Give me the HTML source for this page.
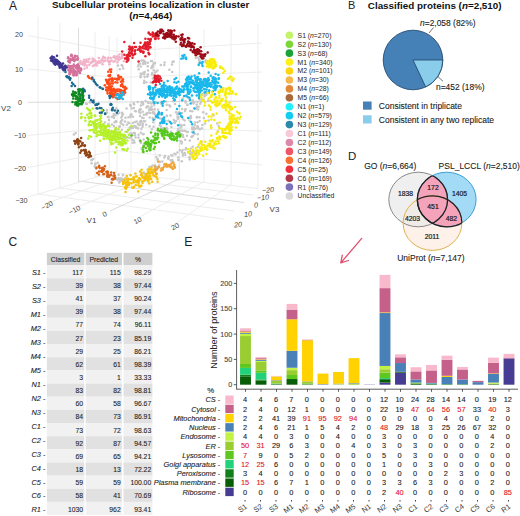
<!DOCTYPE html>
<html><head><meta charset="utf-8"><style>
html,body{margin:0;padding:0;background:#fff;overflow:hidden;}
svg{display:block;font-family:"Liberation Sans", sans-serif;}
</style></head><body>
<svg width="520" height="516" viewBox="0 0 520 516">
<rect width="520" height="516" fill="#fff"/>
<g>
<line x1="38" y1="16.8" x2="38" y2="194.1" stroke="#e8e8e8" stroke-width="0.8"/>
<line x1="59.8" y1="22.7" x2="59.8" y2="187.8" stroke="#e8e8e8" stroke-width="0.8"/>
<line x1="95" y1="32.2" x2="95" y2="177.6" stroke="#e8e8e8" stroke-width="0.8"/>
<line x1="109.2" y1="36.0" x2="109.2" y2="173.5" stroke="#e8e8e8" stroke-width="0.8"/>
<line x1="78.5" y1="27.7" x2="78.5" y2="182.4" stroke="#d4d4d4" stroke-width="0.8"/>
<line x1="117" y1="37.0" x2="117" y2="172.0" stroke="#e8e8e8" stroke-width="0.8"/>
<line x1="131" y1="35.7" x2="131" y2="173.5" stroke="#e8e8e8" stroke-width="0.8"/>
<line x1="155" y1="33.6" x2="155" y2="176.2" stroke="#e8e8e8" stroke-width="0.8"/>
<line x1="204" y1="29.2" x2="204" y2="181.6" stroke="#e8e8e8" stroke-width="0.8"/>
<line x1="231" y1="26.7" x2="231" y2="184.5" stroke="#e8e8e8" stroke-width="0.8"/>
<line x1="258" y1="24.3" x2="258" y2="187.5" stroke="#e8e8e8" stroke-width="0.8"/>
<line x1="179.4" y1="31.4" x2="179.4" y2="178.9" stroke="#dcdcdc" stroke-width="0.8"/>
<line x1="28" y1="35.5" x2="117" y2="51.5" stroke="#e8e8e8" stroke-width="0.8"/>
<line x1="117" y1="51.5" x2="262" y2="43.0" stroke="#e8e8e8" stroke-width="0.8"/>
<line x1="28" y1="69.0" x2="117" y2="77.6" stroke="#e8e8e8" stroke-width="0.8"/>
<line x1="117" y1="77.6" x2="262" y2="72.0" stroke="#e8e8e8" stroke-width="0.8"/>
<line x1="28" y1="135.5" x2="117" y2="127.0" stroke="#e8e8e8" stroke-width="0.8"/>
<line x1="117" y1="127.0" x2="262" y2="131.0" stroke="#e8e8e8" stroke-width="0.8"/>
<line x1="28" y1="167.5" x2="117" y2="150.6" stroke="#e8e8e8" stroke-width="0.8"/>
<line x1="117" y1="150.6" x2="262" y2="165.0" stroke="#e8e8e8" stroke-width="0.8"/>
<line x1="28" y1="102.3" x2="117" y2="102.0" stroke="#d0d0d0" stroke-width="0.8"/>
<line x1="117" y1="102.0" x2="262" y2="101.0" stroke="#d0d0d0" stroke-width="0.8"/>
<line x1="38" y1="194.0" x2="224" y2="219.0" stroke="#e8e8e8" stroke-width="0.8"/>
<line x1="59.8" y1="188.0" x2="234" y2="211.0" stroke="#e8e8e8" stroke-width="0.8"/>
<line x1="78.5" y1="181.0" x2="244" y2="202.5" stroke="#d2d2d2" stroke-width="0.8"/>
<line x1="95" y1="176.0" x2="252.7" y2="195.0" stroke="#e8e8e8" stroke-width="0.8"/>
<line x1="109.2" y1="172.0" x2="258" y2="188.5" stroke="#e8e8e8" stroke-width="0.8"/>
<line x1="47" y1="203.0" x2="131" y2="173.5" stroke="#e8e8e8" stroke-width="0.8"/>
<line x1="74.5" y1="208.0" x2="155" y2="176.2" stroke="#e8e8e8" stroke-width="0.8"/>
<line x1="110" y1="211.0" x2="179.4" y2="178.9" stroke="#d0d0d0" stroke-width="0.8"/>
<line x1="137.5" y1="218.0" x2="204" y2="181.6" stroke="#e8e8e8" stroke-width="0.8"/>
<line x1="175" y1="224.0" x2="231" y2="184.5" stroke="#e8e8e8" stroke-width="0.8"/>
<line x1="28" y1="197.0" x2="117" y2="171.2" stroke="#e8e8e8" stroke-width="0.8"/>
<circle cx="144.1" cy="60.8" r="1.25" fill="#c8c8c8"/>
<circle cx="147.8" cy="66.2" r="1.25" fill="#c8c8c8"/>
<circle cx="148.0" cy="74.5" r="1.25" fill="#c8c8c8"/>
<circle cx="153.8" cy="63.0" r="1.25" fill="#c8c8c8"/>
<circle cx="152.0" cy="60.9" r="1.25" fill="#c8c8c8"/>
<circle cx="153.1" cy="65.8" r="1.25" fill="#c8c8c8"/>
<circle cx="140.6" cy="76.1" r="1.25" fill="#c8c8c8"/>
<circle cx="141.3" cy="60.6" r="1.25" fill="#c8c8c8"/>
<circle cx="147.9" cy="62.8" r="1.25" fill="#c8c8c8"/>
<circle cx="154.3" cy="74.9" r="1.25" fill="#c8c8c8"/>
<circle cx="140.6" cy="77.3" r="1.25" fill="#c8c8c8"/>
<circle cx="154.9" cy="63.3" r="1.25" fill="#c8c8c8"/>
<circle cx="144.2" cy="74.3" r="1.25" fill="#c8c8c8"/>
<circle cx="155.0" cy="81.5" r="1.25" fill="#c8c8c8"/>
<circle cx="144.1" cy="62.8" r="1.25" fill="#c8c8c8"/>
<circle cx="141.5" cy="74.3" r="1.25" fill="#c8c8c8"/>
<circle cx="147.6" cy="74.7" r="1.25" fill="#c8c8c8"/>
<circle cx="145.4" cy="61.9" r="1.25" fill="#c8c8c8"/>
<circle cx="144.7" cy="77.0" r="1.25" fill="#c8c8c8"/>
<circle cx="144.7" cy="72.0" r="1.25" fill="#c8c8c8"/>
<circle cx="152.6" cy="67.5" r="1.25" fill="#c8c8c8"/>
<circle cx="143.1" cy="60.5" r="1.25" fill="#c8c8c8"/>
<circle cx="138.8" cy="64.2" r="1.25" fill="#c8c8c8"/>
<circle cx="152.6" cy="82.9" r="1.25" fill="#c8c8c8"/>
<circle cx="143.5" cy="63.0" r="1.25" fill="#c8c8c8"/>
<circle cx="144.2" cy="80.8" r="1.25" fill="#c8c8c8"/>
<circle cx="151.4" cy="67.9" r="1.25" fill="#c8c8c8"/>
<circle cx="154.8" cy="63.0" r="1.25" fill="#c8c8c8"/>
<circle cx="148.0" cy="70.4" r="1.25" fill="#c8c8c8"/>
<circle cx="152.1" cy="66.2" r="1.25" fill="#c8c8c8"/>
<circle cx="138.7" cy="69.3" r="1.25" fill="#c8c8c8"/>
<circle cx="150.9" cy="61.1" r="1.25" fill="#c8c8c8"/>
<circle cx="151.8" cy="74.4" r="1.25" fill="#c8c8c8"/>
<circle cx="153.0" cy="64.8" r="1.25" fill="#c8c8c8"/>
<circle cx="154.9" cy="72.5" r="1.25" fill="#c8c8c8"/>
<circle cx="143.4" cy="72.8" r="1.25" fill="#c8c8c8"/>
<circle cx="146.4" cy="82.2" r="1.25" fill="#c8c8c8"/>
<circle cx="140.8" cy="66.4" r="1.25" fill="#c8c8c8"/>
<circle cx="150.6" cy="82.6" r="1.25" fill="#c8c8c8"/>
<circle cx="143.2" cy="64.0" r="1.25" fill="#c8c8c8"/>
<circle cx="145.4" cy="63.7" r="1.25" fill="#c8c8c8"/>
<circle cx="153.6" cy="75.1" r="1.25" fill="#c8c8c8"/>
<circle cx="147.3" cy="76.8" r="1.25" fill="#c8c8c8"/>
<circle cx="153.7" cy="70.3" r="1.25" fill="#c8c8c8"/>
<circle cx="138.1" cy="66.2" r="1.25" fill="#c8c8c8"/>
<circle cx="140.7" cy="73.6" r="1.25" fill="#c8c8c8"/>
<circle cx="140.2" cy="63.8" r="1.25" fill="#c8c8c8"/>
<circle cx="152.2" cy="73.1" r="1.25" fill="#c8c8c8"/>
<circle cx="152.7" cy="78.6" r="1.25" fill="#c8c8c8"/>
<circle cx="144.0" cy="83.1" r="1.25" fill="#c8c8c8"/>
<circle cx="146.3" cy="114.4" r="1.25" fill="#c8c8c8"/>
<circle cx="150.4" cy="103.0" r="1.25" fill="#c8c8c8"/>
<circle cx="140.2" cy="109.1" r="1.25" fill="#c8c8c8"/>
<circle cx="148.6" cy="112.5" r="1.25" fill="#c8c8c8"/>
<circle cx="143.0" cy="103.5" r="1.25" fill="#c8c8c8"/>
<circle cx="151.6" cy="106.6" r="1.25" fill="#c8c8c8"/>
<circle cx="143.0" cy="104.5" r="1.25" fill="#c8c8c8"/>
<circle cx="155.7" cy="102.5" r="1.25" fill="#c8c8c8"/>
<circle cx="150.6" cy="109.0" r="1.25" fill="#c8c8c8"/>
<circle cx="148.2" cy="102.9" r="1.25" fill="#c8c8c8"/>
<circle cx="148.3" cy="106.4" r="1.25" fill="#c8c8c8"/>
<circle cx="140.6" cy="109.5" r="1.25" fill="#c8c8c8"/>
<circle cx="147.1" cy="106.6" r="1.25" fill="#c8c8c8"/>
<circle cx="155.1" cy="102.4" r="1.25" fill="#c8c8c8"/>
<circle cx="151.7" cy="103.4" r="1.25" fill="#c8c8c8"/>
<circle cx="155.4" cy="114.7" r="1.25" fill="#c8c8c8"/>
<circle cx="155.9" cy="102.0" r="1.25" fill="#c8c8c8"/>
<circle cx="143.8" cy="114.8" r="1.25" fill="#c8c8c8"/>
<circle cx="149.8" cy="109.9" r="1.25" fill="#c8c8c8"/>
<circle cx="153.4" cy="111.8" r="1.25" fill="#c8c8c8"/>
<circle cx="146.4" cy="107.6" r="1.25" fill="#c8c8c8"/>
<circle cx="141.7" cy="102.1" r="1.25" fill="#c8c8c8"/>
<circle cx="142.7" cy="102.0" r="1.25" fill="#c8c8c8"/>
<circle cx="149.1" cy="109.5" r="1.25" fill="#c8c8c8"/>
<circle cx="150.2" cy="113.1" r="1.25" fill="#c8c8c8"/>
<circle cx="122.5" cy="113.8" r="1.25" fill="#c8c8c8"/>
<circle cx="125.4" cy="135.7" r="1.25" fill="#c8c8c8"/>
<circle cx="134.8" cy="133.0" r="1.25" fill="#c8c8c8"/>
<circle cx="130.7" cy="133.2" r="1.25" fill="#c8c8c8"/>
<circle cx="129.8" cy="127.4" r="1.25" fill="#c8c8c8"/>
<circle cx="117.8" cy="114.0" r="1.25" fill="#c8c8c8"/>
<circle cx="113.9" cy="114.0" r="1.25" fill="#c8c8c8"/>
<circle cx="119.8" cy="126.0" r="1.25" fill="#c8c8c8"/>
<circle cx="109.4" cy="136.7" r="1.25" fill="#c8c8c8"/>
<circle cx="121.3" cy="117.5" r="1.25" fill="#c8c8c8"/>
<circle cx="111.7" cy="132.8" r="1.25" fill="#c8c8c8"/>
<circle cx="126.5" cy="131.9" r="1.25" fill="#c8c8c8"/>
<circle cx="115.8" cy="121.3" r="1.25" fill="#c8c8c8"/>
<circle cx="113.2" cy="116.0" r="1.25" fill="#c8c8c8"/>
<circle cx="130.5" cy="115.5" r="1.25" fill="#c8c8c8"/>
<circle cx="116.7" cy="133.5" r="1.25" fill="#c8c8c8"/>
<circle cx="114.0" cy="126.0" r="1.25" fill="#c8c8c8"/>
<circle cx="131.7" cy="108.5" r="1.25" fill="#c8c8c8"/>
<circle cx="128.2" cy="122.6" r="1.25" fill="#c8c8c8"/>
<circle cx="123.3" cy="124.9" r="1.25" fill="#c8c8c8"/>
<circle cx="133.8" cy="108.0" r="1.25" fill="#c8c8c8"/>
<circle cx="114.6" cy="122.2" r="1.25" fill="#c8c8c8"/>
<circle cx="122.2" cy="120.1" r="1.25" fill="#c8c8c8"/>
<circle cx="114.0" cy="132.4" r="1.25" fill="#c8c8c8"/>
<circle cx="126.9" cy="124.8" r="1.25" fill="#c8c8c8"/>
<circle cx="126.6" cy="108.4" r="1.25" fill="#c8c8c8"/>
<circle cx="119.3" cy="112.7" r="1.25" fill="#c8c8c8"/>
<circle cx="122.9" cy="114.2" r="1.25" fill="#c8c8c8"/>
<circle cx="106.9" cy="110.0" r="1.25" fill="#c8c8c8"/>
<circle cx="128.5" cy="117.2" r="1.25" fill="#c8c8c8"/>
<circle cx="111.8" cy="117.1" r="1.25" fill="#c8c8c8"/>
<circle cx="122.0" cy="112.7" r="1.25" fill="#c8c8c8"/>
<circle cx="107.7" cy="130.2" r="1.25" fill="#c8c8c8"/>
<circle cx="133.1" cy="127.7" r="1.25" fill="#c8c8c8"/>
<circle cx="121.0" cy="121.3" r="1.25" fill="#c8c8c8"/>
<circle cx="115.1" cy="132.5" r="1.25" fill="#c8c8c8"/>
<circle cx="116.3" cy="108.3" r="1.25" fill="#c8c8c8"/>
<circle cx="104.9" cy="122.6" r="1.25" fill="#c8c8c8"/>
<circle cx="107.8" cy="117.0" r="1.25" fill="#c8c8c8"/>
<circle cx="116.0" cy="121.5" r="1.25" fill="#c8c8c8"/>
<circle cx="121.9" cy="129.7" r="1.25" fill="#c8c8c8"/>
<circle cx="107.0" cy="112.5" r="1.25" fill="#c8c8c8"/>
<circle cx="109.3" cy="131.8" r="1.25" fill="#c8c8c8"/>
<circle cx="133.4" cy="133.0" r="1.25" fill="#c8c8c8"/>
<circle cx="132.3" cy="135.2" r="1.25" fill="#c8c8c8"/>
<circle cx="136.2" cy="127.3" r="1.25" fill="#c8c8c8"/>
<circle cx="111.9" cy="136.6" r="1.25" fill="#c8c8c8"/>
<circle cx="116.1" cy="135.4" r="1.25" fill="#c8c8c8"/>
<circle cx="116.1" cy="121.8" r="1.25" fill="#c8c8c8"/>
<circle cx="140.0" cy="124.8" r="1.25" fill="#c8c8c8"/>
<circle cx="142.9" cy="134.2" r="1.25" fill="#c8c8c8"/>
<circle cx="121.6" cy="123.8" r="1.25" fill="#c8c8c8"/>
<circle cx="109.0" cy="120.1" r="1.25" fill="#c8c8c8"/>
<circle cx="125.9" cy="137.9" r="1.25" fill="#c8c8c8"/>
<circle cx="142.5" cy="126.7" r="1.25" fill="#c8c8c8"/>
<circle cx="136.7" cy="121.6" r="1.25" fill="#c8c8c8"/>
<circle cx="109.0" cy="126.3" r="1.25" fill="#c8c8c8"/>
<circle cx="119.3" cy="126.9" r="1.25" fill="#c8c8c8"/>
<circle cx="114.0" cy="118.0" r="1.25" fill="#c8c8c8"/>
<circle cx="138.5" cy="137.6" r="1.25" fill="#c8c8c8"/>
<circle cx="111.7" cy="132.0" r="1.25" fill="#c8c8c8"/>
<circle cx="123.9" cy="135.0" r="1.25" fill="#c8c8c8"/>
<circle cx="129.2" cy="137.7" r="1.25" fill="#c8c8c8"/>
<circle cx="112.0" cy="124.4" r="1.25" fill="#c8c8c8"/>
<circle cx="131.1" cy="137.6" r="1.25" fill="#c8c8c8"/>
<circle cx="123.8" cy="137.5" r="1.25" fill="#c8c8c8"/>
<circle cx="132.9" cy="123.0" r="1.25" fill="#c8c8c8"/>
<circle cx="119.0" cy="134.3" r="1.25" fill="#c8c8c8"/>
<circle cx="120.6" cy="122.8" r="1.25" fill="#c8c8c8"/>
<circle cx="108.5" cy="117.0" r="1.25" fill="#c8c8c8"/>
<circle cx="115.2" cy="115.2" r="1.25" fill="#c8c8c8"/>
<circle cx="129.4" cy="129.6" r="1.25" fill="#c8c8c8"/>
<circle cx="122.2" cy="116.1" r="1.25" fill="#c8c8c8"/>
<circle cx="136.3" cy="127.7" r="1.25" fill="#c8c8c8"/>
<circle cx="142.7" cy="124.9" r="1.25" fill="#c8c8c8"/>
<circle cx="125.0" cy="121.4" r="1.25" fill="#c8c8c8"/>
<circle cx="140.5" cy="120.9" r="1.25" fill="#c8c8c8"/>
<circle cx="116.1" cy="129.6" r="1.25" fill="#c8c8c8"/>
<circle cx="108.3" cy="124.1" r="1.25" fill="#c8c8c8"/>
<circle cx="134.8" cy="121.9" r="1.25" fill="#c8c8c8"/>
<circle cx="137.9" cy="123.8" r="1.25" fill="#c8c8c8"/>
<circle cx="127.4" cy="131.8" r="1.25" fill="#c8c8c8"/>
<circle cx="130.5" cy="117.1" r="1.25" fill="#c8c8c8"/>
<circle cx="129.3" cy="123.2" r="1.25" fill="#c8c8c8"/>
<circle cx="125.5" cy="117.8" r="1.25" fill="#c8c8c8"/>
<circle cx="134.3" cy="125.9" r="1.25" fill="#c8c8c8"/>
<circle cx="152.6" cy="118.0" r="1.25" fill="#c8c8c8"/>
<circle cx="140.4" cy="112.9" r="1.25" fill="#c8c8c8"/>
<circle cx="151.9" cy="109.3" r="1.25" fill="#c8c8c8"/>
<circle cx="153.9" cy="112.8" r="1.25" fill="#c8c8c8"/>
<circle cx="141.3" cy="122.3" r="1.25" fill="#c8c8c8"/>
<circle cx="135.6" cy="126.3" r="1.25" fill="#c8c8c8"/>
<circle cx="146.2" cy="124.7" r="1.25" fill="#c8c8c8"/>
<circle cx="135.9" cy="111.2" r="1.25" fill="#c8c8c8"/>
<circle cx="145.6" cy="101.1" r="1.25" fill="#c8c8c8"/>
<circle cx="133.0" cy="116.7" r="1.25" fill="#c8c8c8"/>
<circle cx="163.0" cy="128.6" r="1.25" fill="#c8c8c8"/>
<circle cx="150.4" cy="108.3" r="1.25" fill="#c8c8c8"/>
<circle cx="154.8" cy="118.9" r="1.25" fill="#c8c8c8"/>
<circle cx="151.8" cy="129.3" r="1.25" fill="#c8c8c8"/>
<circle cx="146.5" cy="114.3" r="1.25" fill="#c8c8c8"/>
<circle cx="154.3" cy="113.7" r="1.25" fill="#c8c8c8"/>
<circle cx="142.1" cy="117.7" r="1.25" fill="#c8c8c8"/>
<circle cx="149.7" cy="117.6" r="1.25" fill="#c8c8c8"/>
<circle cx="130.8" cy="105.9" r="1.25" fill="#c8c8c8"/>
<circle cx="141.4" cy="129.1" r="1.25" fill="#c8c8c8"/>
<circle cx="167.0" cy="115.7" r="1.25" fill="#c8c8c8"/>
<circle cx="159.5" cy="114.5" r="1.25" fill="#c8c8c8"/>
<circle cx="131.3" cy="114.2" r="1.25" fill="#c8c8c8"/>
<circle cx="145.0" cy="121.2" r="1.25" fill="#c8c8c8"/>
<circle cx="148.0" cy="102.2" r="1.25" fill="#c8c8c8"/>
<circle cx="151.6" cy="110.1" r="1.25" fill="#c8c8c8"/>
<circle cx="154.2" cy="105.0" r="1.25" fill="#c8c8c8"/>
<circle cx="131.4" cy="127.9" r="1.25" fill="#c8c8c8"/>
<circle cx="132.4" cy="126.6" r="1.25" fill="#c8c8c8"/>
<circle cx="139.2" cy="112.0" r="1.25" fill="#c8c8c8"/>
<circle cx="166.6" cy="110.0" r="1.25" fill="#c8c8c8"/>
<circle cx="141.4" cy="102.4" r="1.25" fill="#c8c8c8"/>
<circle cx="158.9" cy="112.4" r="1.25" fill="#c8c8c8"/>
<circle cx="161.5" cy="103.7" r="1.25" fill="#c8c8c8"/>
<circle cx="149.7" cy="126.2" r="1.25" fill="#c8c8c8"/>
<circle cx="160.2" cy="118.5" r="1.25" fill="#c8c8c8"/>
<circle cx="132.6" cy="128.0" r="1.25" fill="#c8c8c8"/>
<circle cx="143.9" cy="121.3" r="1.25" fill="#c8c8c8"/>
<circle cx="143.5" cy="118.1" r="1.25" fill="#c8c8c8"/>
<circle cx="137.7" cy="102.1" r="1.25" fill="#c8c8c8"/>
<circle cx="161.2" cy="129.0" r="1.25" fill="#c8c8c8"/>
<circle cx="140.0" cy="116.0" r="1.25" fill="#c8c8c8"/>
<circle cx="141.4" cy="121.0" r="1.25" fill="#c8c8c8"/>
<circle cx="159.7" cy="125.2" r="1.25" fill="#c8c8c8"/>
<circle cx="152.7" cy="113.1" r="1.25" fill="#c8c8c8"/>
<circle cx="138.8" cy="125.1" r="1.25" fill="#c8c8c8"/>
<circle cx="138.1" cy="128.6" r="1.25" fill="#c8c8c8"/>
<circle cx="140.3" cy="122.2" r="1.25" fill="#c8c8c8"/>
<circle cx="158.1" cy="109.8" r="1.25" fill="#c8c8c8"/>
<circle cx="142.7" cy="111.7" r="1.25" fill="#c8c8c8"/>
<circle cx="146.7" cy="113.3" r="1.25" fill="#c8c8c8"/>
<circle cx="131.0" cy="114.7" r="1.25" fill="#c8c8c8"/>
<circle cx="166.7" cy="104.8" r="1.25" fill="#c8c8c8"/>
<circle cx="133.7" cy="102.9" r="1.25" fill="#c8c8c8"/>
<circle cx="140.9" cy="105.4" r="1.25" fill="#c8c8c8"/>
<circle cx="153.3" cy="122.3" r="1.25" fill="#c8c8c8"/>
<circle cx="154.6" cy="109.2" r="1.25" fill="#c8c8c8"/>
<circle cx="166.6" cy="127.8" r="1.25" fill="#c8c8c8"/>
<circle cx="160.8" cy="102.9" r="1.25" fill="#c8c8c8"/>
<circle cx="134.9" cy="110.9" r="1.25" fill="#c8c8c8"/>
<circle cx="166.1" cy="101.4" r="1.25" fill="#c8c8c8"/>
<circle cx="139.6" cy="110.6" r="1.25" fill="#c8c8c8"/>
<circle cx="165.5" cy="120.8" r="1.25" fill="#c8c8c8"/>
<circle cx="139.3" cy="110.2" r="1.25" fill="#c8c8c8"/>
<circle cx="153.5" cy="126.7" r="1.25" fill="#c8c8c8"/>
<circle cx="134.0" cy="104.2" r="1.25" fill="#c8c8c8"/>
<circle cx="142.8" cy="124.1" r="1.25" fill="#c8c8c8"/>
<circle cx="130.2" cy="104.7" r="1.25" fill="#c8c8c8"/>
<circle cx="162.1" cy="102.0" r="1.25" fill="#c8c8c8"/>
<circle cx="185.5" cy="101.0" r="1.25" fill="#c8c8c8"/>
<circle cx="163.0" cy="102.3" r="1.25" fill="#c8c8c8"/>
<circle cx="160.9" cy="123.6" r="1.25" fill="#c8c8c8"/>
<circle cx="181.9" cy="125.6" r="1.25" fill="#c8c8c8"/>
<circle cx="178.3" cy="114.1" r="1.25" fill="#c8c8c8"/>
<circle cx="194.3" cy="108.3" r="1.25" fill="#c8c8c8"/>
<circle cx="171.4" cy="127.0" r="1.25" fill="#c8c8c8"/>
<circle cx="193.9" cy="129.3" r="1.25" fill="#c8c8c8"/>
<circle cx="197.6" cy="122.2" r="1.25" fill="#c8c8c8"/>
<circle cx="170.2" cy="106.6" r="1.25" fill="#c8c8c8"/>
<circle cx="185.6" cy="109.3" r="1.25" fill="#c8c8c8"/>
<circle cx="183.0" cy="119.3" r="1.25" fill="#c8c8c8"/>
<circle cx="194.1" cy="127.6" r="1.25" fill="#c8c8c8"/>
<circle cx="179.7" cy="112.7" r="1.25" fill="#c8c8c8"/>
<circle cx="166.2" cy="128.9" r="1.25" fill="#c8c8c8"/>
<circle cx="195.1" cy="122.4" r="1.25" fill="#c8c8c8"/>
<circle cx="178.3" cy="128.8" r="1.25" fill="#c8c8c8"/>
<circle cx="195.0" cy="128.7" r="1.25" fill="#c8c8c8"/>
<circle cx="169.4" cy="105.2" r="1.25" fill="#c8c8c8"/>
<circle cx="173.2" cy="101.2" r="1.25" fill="#c8c8c8"/>
<circle cx="160.7" cy="129.1" r="1.25" fill="#c8c8c8"/>
<circle cx="193.5" cy="103.5" r="1.25" fill="#c8c8c8"/>
<circle cx="181.7" cy="117.0" r="1.25" fill="#c8c8c8"/>
<circle cx="181.0" cy="127.4" r="1.25" fill="#c8c8c8"/>
<circle cx="178.4" cy="112.4" r="1.25" fill="#c8c8c8"/>
<circle cx="177.3" cy="114.2" r="1.25" fill="#c8c8c8"/>
<circle cx="161.3" cy="103.6" r="1.25" fill="#c8c8c8"/>
<circle cx="197.5" cy="101.8" r="1.25" fill="#c8c8c8"/>
<circle cx="162.6" cy="119.1" r="1.25" fill="#c8c8c8"/>
<circle cx="163.7" cy="128.3" r="1.25" fill="#c8c8c8"/>
<circle cx="184.3" cy="125.1" r="1.25" fill="#c8c8c8"/>
<circle cx="184.6" cy="130.8" r="1.25" fill="#c8c8c8"/>
<circle cx="189.5" cy="117.5" r="1.25" fill="#c8c8c8"/>
<circle cx="192.7" cy="102.3" r="1.25" fill="#c8c8c8"/>
<circle cx="160.9" cy="126.4" r="1.25" fill="#c8c8c8"/>
<circle cx="176.0" cy="112.2" r="1.25" fill="#c8c8c8"/>
<circle cx="191.0" cy="117.4" r="1.25" fill="#c8c8c8"/>
<circle cx="182.1" cy="113.0" r="1.25" fill="#c8c8c8"/>
<circle cx="187.8" cy="132.0" r="1.25" fill="#c8c8c8"/>
<circle cx="162.6" cy="118.2" r="1.25" fill="#c8c8c8"/>
<circle cx="185.0" cy="111.0" r="1.25" fill="#c8c8c8"/>
<circle cx="179.4" cy="131.3" r="1.25" fill="#c8c8c8"/>
<circle cx="187.7" cy="104.7" r="1.25" fill="#c8c8c8"/>
<circle cx="190.2" cy="110.9" r="1.25" fill="#c8c8c8"/>
<circle cx="196.8" cy="117.1" r="1.25" fill="#c8c8c8"/>
<circle cx="133.8" cy="140.6" r="1.25" fill="#c8c8c8"/>
<circle cx="135.0" cy="135.3" r="1.25" fill="#c8c8c8"/>
<circle cx="135.6" cy="137.6" r="1.25" fill="#c8c8c8"/>
<circle cx="132.1" cy="139.8" r="1.25" fill="#c8c8c8"/>
<circle cx="134.5" cy="142.5" r="1.25" fill="#c8c8c8"/>
<circle cx="143.7" cy="139.5" r="1.25" fill="#c8c8c8"/>
<circle cx="140.8" cy="132.7" r="1.25" fill="#c8c8c8"/>
<circle cx="139.8" cy="139.9" r="1.25" fill="#c8c8c8"/>
<circle cx="132.6" cy="142.7" r="1.25" fill="#c8c8c8"/>
<circle cx="138.6" cy="134.7" r="1.25" fill="#c8c8c8"/>
<circle cx="143.6" cy="134.0" r="1.25" fill="#c8c8c8"/>
<circle cx="140.1" cy="141.4" r="1.25" fill="#c8c8c8"/>
<circle cx="148.3" cy="145.1" r="1.25" fill="#c8c8c8"/>
<circle cx="143.4" cy="145.5" r="1.25" fill="#c8c8c8"/>
<circle cx="149.4" cy="144.6" r="1.25" fill="#c8c8c8"/>
<circle cx="141.9" cy="148.6" r="1.25" fill="#c8c8c8"/>
<circle cx="141.0" cy="143.0" r="1.25" fill="#c8c8c8"/>
<circle cx="147.7" cy="140.9" r="1.25" fill="#c8c8c8"/>
<circle cx="149.0" cy="148.5" r="1.25" fill="#c8c8c8"/>
<circle cx="150.5" cy="149.5" r="1.25" fill="#c8c8c8"/>
<circle cx="142.7" cy="150.6" r="1.25" fill="#c8c8c8"/>
<circle cx="141.9" cy="148.7" r="1.25" fill="#c8c8c8"/>
<circle cx="190.7" cy="116.0" r="1.25" fill="#c8c8c8"/>
<circle cx="174.7" cy="122.9" r="1.25" fill="#c8c8c8"/>
<circle cx="168.6" cy="120.9" r="1.25" fill="#c8c8c8"/>
<circle cx="179.7" cy="133.3" r="1.25" fill="#c8c8c8"/>
<circle cx="199.6" cy="121.0" r="1.25" fill="#c8c8c8"/>
<circle cx="186.9" cy="135.8" r="1.25" fill="#c8c8c8"/>
<circle cx="170.5" cy="115.4" r="1.25" fill="#c8c8c8"/>
<circle cx="198.6" cy="106.7" r="1.25" fill="#c8c8c8"/>
<circle cx="173.9" cy="120.1" r="1.25" fill="#c8c8c8"/>
<circle cx="198.0" cy="139.0" r="1.25" fill="#c8c8c8"/>
<circle cx="166.7" cy="116.0" r="1.25" fill="#c8c8c8"/>
<circle cx="178.1" cy="117.1" r="1.25" fill="#c8c8c8"/>
<circle cx="177.7" cy="130.5" r="1.25" fill="#c8c8c8"/>
<circle cx="192.1" cy="132.1" r="1.25" fill="#c8c8c8"/>
<circle cx="174.8" cy="138.9" r="1.25" fill="#c8c8c8"/>
<circle cx="171.1" cy="123.2" r="1.25" fill="#c8c8c8"/>
<circle cx="176.2" cy="121.1" r="1.25" fill="#c8c8c8"/>
<circle cx="190.5" cy="118.2" r="1.25" fill="#c8c8c8"/>
<circle cx="197.8" cy="134.2" r="1.25" fill="#c8c8c8"/>
<circle cx="177.8" cy="118.8" r="1.25" fill="#c8c8c8"/>
<circle cx="174.5" cy="122.3" r="1.25" fill="#c8c8c8"/>
<circle cx="192.2" cy="111.3" r="1.25" fill="#c8c8c8"/>
<circle cx="167.1" cy="129.2" r="1.25" fill="#c8c8c8"/>
<circle cx="199.4" cy="117.3" r="1.25" fill="#c8c8c8"/>
<circle cx="185.3" cy="109.5" r="1.25" fill="#c8c8c8"/>
<circle cx="198.2" cy="109.5" r="1.25" fill="#c8c8c8"/>
<circle cx="168.5" cy="120.7" r="1.25" fill="#c8c8c8"/>
<circle cx="175.0" cy="104.0" r="1.25" fill="#c8c8c8"/>
<circle cx="186.2" cy="131.6" r="1.25" fill="#c8c8c8"/>
<circle cx="177.5" cy="116.8" r="1.25" fill="#c8c8c8"/>
<circle cx="185.6" cy="102.5" r="1.25" fill="#c8c8c8"/>
<circle cx="170.9" cy="131.8" r="1.25" fill="#c8c8c8"/>
<circle cx="196.7" cy="104.4" r="1.25" fill="#c8c8c8"/>
<circle cx="197.5" cy="128.2" r="1.25" fill="#c8c8c8"/>
<circle cx="183.1" cy="137.1" r="1.25" fill="#c8c8c8"/>
<circle cx="199.3" cy="60.3" r="1.25" fill="#c8c8c8"/>
<circle cx="199.1" cy="59.2" r="1.25" fill="#c8c8c8"/>
<circle cx="195.7" cy="58.0" r="1.25" fill="#c8c8c8"/>
<circle cx="205.6" cy="60.4" r="1.25" fill="#c8c8c8"/>
<circle cx="205.6" cy="62.1" r="1.25" fill="#c8c8c8"/>
<circle cx="206.4" cy="61.6" r="1.25" fill="#c8c8c8"/>
<circle cx="199.6" cy="62.4" r="1.25" fill="#c8c8c8"/>
<circle cx="198.8" cy="63.8" r="1.25" fill="#c8c8c8"/>
<circle cx="197.8" cy="57.6" r="1.25" fill="#c8c8c8"/>
<circle cx="201.6" cy="62.4" r="1.25" fill="#c8c8c8"/>
<circle cx="201.8" cy="59.0" r="1.25" fill="#c8c8c8"/>
<circle cx="200.9" cy="56.5" r="1.25" fill="#c8c8c8"/>
<circle cx="204.7" cy="94.9" r="1.25" fill="#c8c8c8"/>
<circle cx="200.2" cy="103.7" r="1.25" fill="#c8c8c8"/>
<circle cx="206.3" cy="94.8" r="1.25" fill="#c8c8c8"/>
<circle cx="201.7" cy="99.5" r="1.25" fill="#c8c8c8"/>
<circle cx="199.4" cy="94.1" r="1.25" fill="#c8c8c8"/>
<circle cx="201.8" cy="95.1" r="1.25" fill="#c8c8c8"/>
<circle cx="203.4" cy="99.4" r="1.25" fill="#c8c8c8"/>
<circle cx="199.5" cy="99.4" r="1.25" fill="#c8c8c8"/>
<circle cx="206.2" cy="93.9" r="1.25" fill="#c8c8c8"/>
<circle cx="202.3" cy="93.9" r="1.25" fill="#c8c8c8"/>
<circle cx="204.6" cy="96.3" r="1.25" fill="#c8c8c8"/>
<circle cx="208.2" cy="100.8" r="1.25" fill="#c8c8c8"/>
<circle cx="184.7" cy="120.5" r="1.25" fill="#c8c8c8"/>
<circle cx="185.1" cy="139.7" r="1.25" fill="#c8c8c8"/>
<circle cx="194.8" cy="124.9" r="1.25" fill="#c8c8c8"/>
<circle cx="186.0" cy="148.1" r="1.25" fill="#c8c8c8"/>
<circle cx="180.8" cy="130.6" r="1.25" fill="#c8c8c8"/>
<circle cx="197.9" cy="126.6" r="1.25" fill="#c8c8c8"/>
<circle cx="197.0" cy="117.5" r="1.25" fill="#c8c8c8"/>
<circle cx="189.8" cy="140.4" r="1.25" fill="#c8c8c8"/>
<circle cx="181.5" cy="143.5" r="1.25" fill="#c8c8c8"/>
<circle cx="181.3" cy="134.1" r="1.25" fill="#c8c8c8"/>
<circle cx="182.9" cy="134.9" r="1.25" fill="#c8c8c8"/>
<circle cx="192.7" cy="146.8" r="1.25" fill="#c8c8c8"/>
<circle cx="194.6" cy="102.1" r="1.25" fill="#c8c8c8"/>
<circle cx="189.5" cy="120.6" r="1.25" fill="#c8c8c8"/>
<circle cx="185.8" cy="96.5" r="1.25" fill="#c8c8c8"/>
<circle cx="185.5" cy="149.5" r="1.25" fill="#c8c8c8"/>
<circle cx="180.7" cy="141.1" r="1.25" fill="#c8c8c8"/>
<circle cx="192.7" cy="100.3" r="1.25" fill="#c8c8c8"/>
<circle cx="201.0" cy="102.1" r="1.25" fill="#c8c8c8"/>
<circle cx="182.2" cy="109.0" r="1.25" fill="#c8c8c8"/>
<circle cx="196.8" cy="106.7" r="1.25" fill="#c8c8c8"/>
<circle cx="181.8" cy="142.1" r="1.25" fill="#c8c8c8"/>
<circle cx="180.5" cy="125.1" r="1.25" fill="#c8c8c8"/>
<circle cx="196.5" cy="108.8" r="1.25" fill="#c8c8c8"/>
<circle cx="198.1" cy="146.7" r="1.25" fill="#c8c8c8"/>
<circle cx="191.5" cy="137.1" r="1.25" fill="#c8c8c8"/>
<circle cx="189.1" cy="98.5" r="1.25" fill="#c8c8c8"/>
<circle cx="182.8" cy="98.6" r="1.25" fill="#c8c8c8"/>
<circle cx="191.9" cy="136.4" r="1.25" fill="#c8c8c8"/>
<circle cx="192.8" cy="136.1" r="1.25" fill="#c8c8c8"/>
<circle cx="201.9" cy="141.8" r="1.25" fill="#c8c8c8"/>
<circle cx="200.3" cy="148.0" r="1.25" fill="#c8c8c8"/>
<circle cx="187.2" cy="104.7" r="1.25" fill="#c8c8c8"/>
<circle cx="182.7" cy="130.7" r="1.25" fill="#c8c8c8"/>
<circle cx="194.7" cy="133.9" r="1.25" fill="#c8c8c8"/>
<circle cx="201.8" cy="128.3" r="1.25" fill="#c8c8c8"/>
<circle cx="197.1" cy="126.6" r="1.25" fill="#c8c8c8"/>
<circle cx="193.3" cy="131.8" r="1.25" fill="#c8c8c8"/>
<circle cx="193.1" cy="127.8" r="1.25" fill="#c8c8c8"/>
<circle cx="199.8" cy="129.2" r="1.25" fill="#c8c8c8"/>
<circle cx="192.3" cy="129.0" r="1.25" fill="#c8c8c8"/>
<circle cx="192.1" cy="127.4" r="1.25" fill="#c8c8c8"/>
<circle cx="198.3" cy="127.9" r="1.25" fill="#c8c8c8"/>
<circle cx="202.4" cy="125.0" r="1.25" fill="#c8c8c8"/>
<circle cx="193.7" cy="129.5" r="1.25" fill="#c8c8c8"/>
<circle cx="211.1" cy="127.2" r="1.25" fill="#c8c8c8"/>
<circle cx="203.2" cy="112.3" r="1.25" fill="#c8c8c8"/>
<circle cx="213.7" cy="115.2" r="1.25" fill="#c8c8c8"/>
<circle cx="206.4" cy="113.8" r="1.25" fill="#c8c8c8"/>
<circle cx="203.9" cy="117.9" r="1.25" fill="#c8c8c8"/>
<circle cx="208.6" cy="120.6" r="1.25" fill="#c8c8c8"/>
<circle cx="205.0" cy="123.5" r="1.25" fill="#c8c8c8"/>
<circle cx="217.8" cy="131.2" r="1.25" fill="#c8c8c8"/>
<circle cx="217.2" cy="123.5" r="1.25" fill="#c8c8c8"/>
<circle cx="218.7" cy="126.1" r="1.25" fill="#c8c8c8"/>
<circle cx="93.2" cy="158.9" r="1.25" fill="#c8c8c8"/>
<circle cx="96.4" cy="168.6" r="1.25" fill="#c8c8c8"/>
<circle cx="91.6" cy="163.2" r="1.25" fill="#c8c8c8"/>
<circle cx="94.6" cy="166.4" r="1.25" fill="#c8c8c8"/>
<circle cx="95.5" cy="163.4" r="1.25" fill="#c8c8c8"/>
<circle cx="95.2" cy="164.4" r="1.25" fill="#c8c8c8"/>
<circle cx="91.6" cy="159.8" r="1.25" fill="#c8c8c8"/>
<circle cx="97.8" cy="162.7" r="1.25" fill="#c8c8c8"/>
<circle cx="97.0" cy="167.0" r="1.25" fill="#c8c8c8"/>
<circle cx="91.7" cy="160.2" r="1.25" fill="#c8c8c8"/>
<circle cx="115.2" cy="176.2" r="1.25" fill="#c8c8c8"/>
<circle cx="117.6" cy="179.9" r="1.25" fill="#c8c8c8"/>
<circle cx="121.2" cy="180.5" r="1.25" fill="#c8c8c8"/>
<circle cx="124.9" cy="181.1" r="1.25" fill="#c8c8c8"/>
<circle cx="121.9" cy="179.0" r="1.25" fill="#c8c8c8"/>
<circle cx="123.3" cy="182.4" r="1.25" fill="#c8c8c8"/>
<circle cx="119.1" cy="182.6" r="1.25" fill="#c8c8c8"/>
<circle cx="118.6" cy="174.8" r="1.25" fill="#c8c8c8"/>
<circle cx="120.0" cy="181.5" r="1.25" fill="#c8c8c8"/>
<circle cx="119.7" cy="179.1" r="1.25" fill="#c8c8c8"/>
<circle cx="122.9" cy="175.0" r="1.25" fill="#c8c8c8"/>
<circle cx="121.3" cy="178.3" r="1.25" fill="#c8c8c8"/>
<circle cx="125.3" cy="178.1" r="1.25" fill="#c8c8c8"/>
<circle cx="122.5" cy="179.7" r="1.25" fill="#c8c8c8"/>
<circle cx="126.6" cy="179.2" r="1.25" fill="#c8c8c8"/>
<circle cx="119.9" cy="180.9" r="1.25" fill="#c8c8c8"/>
<circle cx="118.6" cy="178.0" r="1.25" fill="#c8c8c8"/>
<circle cx="117.0" cy="179.1" r="1.25" fill="#c8c8c8"/>
<circle cx="143.2" cy="173.6" r="1.25" fill="#c8c8c8"/>
<circle cx="155.8" cy="168.8" r="1.25" fill="#c8c8c8"/>
<circle cx="153.2" cy="171.6" r="1.25" fill="#c8c8c8"/>
<circle cx="146.3" cy="176.2" r="1.25" fill="#c8c8c8"/>
<circle cx="145.3" cy="174.8" r="1.25" fill="#c8c8c8"/>
<circle cx="149.2" cy="173.6" r="1.25" fill="#c8c8c8"/>
<circle cx="151.3" cy="166.7" r="1.25" fill="#c8c8c8"/>
<circle cx="147.6" cy="169.4" r="1.25" fill="#c8c8c8"/>
<circle cx="155.8" cy="167.5" r="1.25" fill="#c8c8c8"/>
<circle cx="149.4" cy="167.1" r="1.25" fill="#c8c8c8"/>
<circle cx="154.8" cy="165.6" r="1.25" fill="#c8c8c8"/>
<circle cx="146.0" cy="174.5" r="1.25" fill="#c8c8c8"/>
<circle cx="143.8" cy="172.6" r="1.25" fill="#c8c8c8"/>
<circle cx="155.8" cy="168.7" r="1.25" fill="#c8c8c8"/>
<circle cx="156.9" cy="167.0" r="1.25" fill="#c8c8c8"/>
<circle cx="156.6" cy="169.5" r="1.25" fill="#c8c8c8"/>
<circle cx="155.1" cy="167.4" r="1.25" fill="#c8c8c8"/>
<circle cx="152.6" cy="165.5" r="1.25" fill="#c8c8c8"/>
<circle cx="155.0" cy="168.0" r="1.25" fill="#c8c8c8"/>
<circle cx="151.5" cy="171.7" r="1.25" fill="#c8c8c8"/>
<circle cx="158.0" cy="167.4" r="1.25" fill="#c8c8c8"/>
<circle cx="154.2" cy="169.4" r="1.25" fill="#c8c8c8"/>
<circle cx="159.8" cy="155.5" r="1.25" fill="#c8c8c8"/>
<circle cx="194.9" cy="159.0" r="1.25" fill="#c8c8c8"/>
<circle cx="162.4" cy="161.5" r="1.25" fill="#c8c8c8"/>
<circle cx="177.4" cy="152.4" r="1.25" fill="#c8c8c8"/>
<circle cx="156.4" cy="156.9" r="1.25" fill="#c8c8c8"/>
<circle cx="168.2" cy="158.0" r="1.25" fill="#c8c8c8"/>
<circle cx="195.9" cy="153.8" r="1.25" fill="#c8c8c8"/>
<circle cx="193.0" cy="156.6" r="1.25" fill="#c8c8c8"/>
<circle cx="157.8" cy="158.9" r="1.25" fill="#c8c8c8"/>
<circle cx="189.7" cy="159.6" r="1.25" fill="#c8c8c8"/>
<circle cx="192.1" cy="152.7" r="1.25" fill="#c8c8c8"/>
<circle cx="164.3" cy="157.5" r="1.25" fill="#c8c8c8"/>
<circle cx="171.8" cy="161.1" r="1.25" fill="#c8c8c8"/>
<circle cx="182.9" cy="155.5" r="1.25" fill="#c8c8c8"/>
<circle cx="195.3" cy="151.6" r="1.25" fill="#c8c8c8"/>
<circle cx="168.3" cy="158.7" r="1.25" fill="#c8c8c8"/>
<circle cx="190.2" cy="154.1" r="1.25" fill="#c8c8c8"/>
<circle cx="171.4" cy="155.1" r="1.25" fill="#c8c8c8"/>
<circle cx="178.2" cy="157.6" r="1.25" fill="#c8c8c8"/>
<circle cx="172.3" cy="155.8" r="1.25" fill="#c8c8c8"/>
<circle cx="184.8" cy="153.0" r="1.25" fill="#c8c8c8"/>
<circle cx="157.4" cy="159.4" r="1.25" fill="#c8c8c8"/>
<circle cx="178.3" cy="160.1" r="1.25" fill="#c8c8c8"/>
<circle cx="165.0" cy="156.0" r="1.25" fill="#c8c8c8"/>
<circle cx="174.4" cy="153.8" r="1.25" fill="#c8c8c8"/>
<circle cx="189.3" cy="157.1" r="1.25" fill="#c8c8c8"/>
<circle cx="170.6" cy="160.3" r="1.25" fill="#c8c8c8"/>
<circle cx="182.9" cy="153.8" r="1.25" fill="#c8c8c8"/>
<circle cx="182.6" cy="149.9" r="1.25" fill="#c8c8c8"/>
<circle cx="190.1" cy="151.2" r="1.25" fill="#c8c8c8"/>
<circle cx="168.7" cy="156.7" r="1.25" fill="#c8c8c8"/>
<circle cx="175.5" cy="154.3" r="1.25" fill="#c8c8c8"/>
<circle cx="181.8" cy="161.3" r="1.25" fill="#c8c8c8"/>
<circle cx="188.5" cy="152.2" r="1.25" fill="#c8c8c8"/>
<circle cx="160.0" cy="161.8" r="1.25" fill="#c8c8c8"/>
<circle cx="189.6" cy="158.1" r="1.25" fill="#c8c8c8"/>
<circle cx="185.3" cy="154.9" r="1.25" fill="#c8c8c8"/>
<circle cx="195.9" cy="150.8" r="1.25" fill="#c8c8c8"/>
<circle cx="172.8" cy="161.8" r="1.25" fill="#c8c8c8"/>
<circle cx="172.3" cy="160.1" r="1.25" fill="#c8c8c8"/>
<circle cx="182.0" cy="152.1" r="1.25" fill="#c8c8c8"/>
<circle cx="159.3" cy="165.6" r="1.25" fill="#c8c8c8"/>
<circle cx="179.9" cy="150.2" r="1.25" fill="#c8c8c8"/>
<circle cx="190.8" cy="148.4" r="1.25" fill="#c8c8c8"/>
<circle cx="159.6" cy="162.3" r="1.25" fill="#c8c8c8"/>
<circle cx="122.5" cy="66.1" r="1.25" fill="#c8c8c8"/>
<circle cx="119.8" cy="69.3" r="1.25" fill="#c8c8c8"/>
<circle cx="121.7" cy="64.9" r="1.25" fill="#c8c8c8"/>
<circle cx="118.0" cy="65.4" r="1.25" fill="#c8c8c8"/>
<circle cx="123.2" cy="68.5" r="1.25" fill="#c8c8c8"/>
<circle cx="172.0" cy="64.6" r="1.25" fill="#c8c8c8"/>
<circle cx="157.4" cy="70.4" r="1.25" fill="#c8c8c8"/>
<circle cx="173.7" cy="61.6" r="1.25" fill="#c8c8c8"/>
<circle cx="164.6" cy="62.4" r="1.25" fill="#c8c8c8"/>
<circle cx="156.3" cy="71.8" r="1.25" fill="#c8c8c8"/>
<circle cx="172.2" cy="71.9" r="1.25" fill="#c8c8c8"/>
<circle cx="169.3" cy="69.8" r="1.25" fill="#c8c8c8"/>
<circle cx="172.5" cy="62.1" r="1.25" fill="#c8c8c8"/>
<circle cx="164.3" cy="64.9" r="1.25" fill="#c8c8c8"/>
<circle cx="160.8" cy="65.1" r="1.25" fill="#c8c8c8"/>
<circle cx="73.9" cy="134.6" r="1.25" fill="#c8c8c8"/>
<circle cx="75.7" cy="133.1" r="1.25" fill="#c8c8c8"/>
<circle cx="86.2" cy="103.7" r="1.25" fill="#c8c8c8"/>
<circle cx="90.0" cy="101.5" r="1.25" fill="#c8c8c8"/>
<circle cx="86.8" cy="103.9" r="1.25" fill="#c8c8c8"/>
<circle cx="90.3" cy="101.5" r="1.25" fill="#c8c8c8"/>
<circle cx="94.0" cy="100.1" r="1.25" fill="#c8c8c8"/>
<circle cx="89.9" cy="102.5" r="1.25" fill="#c8c8c8"/>
<circle cx="52.6" cy="61.3" r="1.25" fill="#40368f"/>
<circle cx="57.8" cy="60.9" r="1.25" fill="#40368f"/>
<circle cx="58.3" cy="62.2" r="1.25" fill="#40368f"/>
<circle cx="56.5" cy="63.2" r="1.25" fill="#40368f"/>
<circle cx="63.0" cy="63.4" r="1.25" fill="#40368f"/>
<circle cx="62.4" cy="67.4" r="1.25" fill="#40368f"/>
<circle cx="56.5" cy="60.3" r="1.25" fill="#40368f"/>
<circle cx="57.0" cy="55.7" r="1.25" fill="#40368f"/>
<circle cx="53.2" cy="60.7" r="1.25" fill="#40368f"/>
<circle cx="58.9" cy="61.9" r="1.25" fill="#40368f"/>
<circle cx="52.9" cy="61.5" r="1.25" fill="#40368f"/>
<circle cx="51.1" cy="60.4" r="1.25" fill="#40368f"/>
<circle cx="56.7" cy="63.1" r="1.25" fill="#40368f"/>
<circle cx="52.0" cy="58.6" r="1.25" fill="#40368f"/>
<circle cx="55.3" cy="64.8" r="1.25" fill="#40368f"/>
<circle cx="62.4" cy="66.1" r="1.25" fill="#40368f"/>
<circle cx="59.1" cy="62.8" r="1.25" fill="#40368f"/>
<circle cx="59.6" cy="63.0" r="1.25" fill="#40368f"/>
<circle cx="60.8" cy="66.9" r="1.25" fill="#40368f"/>
<circle cx="55.8" cy="62.0" r="1.25" fill="#40368f"/>
<circle cx="56.9" cy="62.5" r="1.25" fill="#40368f"/>
<circle cx="54.1" cy="57.4" r="1.25" fill="#40368f"/>
<circle cx="52.6" cy="59.7" r="1.25" fill="#40368f"/>
<circle cx="65.3" cy="65.7" r="1.25" fill="#40368f"/>
<circle cx="53.9" cy="63.4" r="1.25" fill="#40368f"/>
<circle cx="65.1" cy="70.1" r="1.25" fill="#40368f"/>
<circle cx="58.2" cy="64.3" r="1.25" fill="#40368f"/>
<circle cx="58.1" cy="64.3" r="1.25" fill="#40368f"/>
<circle cx="50.8" cy="58.3" r="1.25" fill="#40368f"/>
<circle cx="60.7" cy="65.0" r="1.25" fill="#40368f"/>
<circle cx="52.1" cy="56.8" r="1.25" fill="#40368f"/>
<circle cx="55.5" cy="60.1" r="1.25" fill="#40368f"/>
<circle cx="53.5" cy="57.6" r="1.25" fill="#40368f"/>
<circle cx="60.5" cy="66.3" r="1.25" fill="#40368f"/>
<circle cx="55.8" cy="59.5" r="1.25" fill="#40368f"/>
<circle cx="62.3" cy="67.1" r="1.25" fill="#40368f"/>
<circle cx="54.6" cy="60.8" r="1.25" fill="#40368f"/>
<circle cx="57.7" cy="63.0" r="1.25" fill="#40368f"/>
<circle cx="63.6" cy="67.4" r="1.25" fill="#40368f"/>
<circle cx="65.3" cy="66.1" r="1.25" fill="#40368f"/>
<circle cx="55.3" cy="60.7" r="1.25" fill="#40368f"/>
<circle cx="66.3" cy="67.3" r="1.25" fill="#40368f"/>
<circle cx="61.6" cy="65.0" r="1.25" fill="#40368f"/>
<circle cx="54.9" cy="61.9" r="1.25" fill="#40368f"/>
<circle cx="54.4" cy="61.1" r="1.25" fill="#40368f"/>
<circle cx="59.2" cy="62.4" r="1.25" fill="#40368f"/>
<circle cx="58.9" cy="64.0" r="1.25" fill="#40368f"/>
<circle cx="61.1" cy="66.6" r="1.25" fill="#40368f"/>
<circle cx="62.7" cy="69.1" r="1.25" fill="#40368f"/>
<circle cx="52.1" cy="56.8" r="1.25" fill="#40368f"/>
<circle cx="51.7" cy="60.8" r="1.25" fill="#40368f"/>
<circle cx="54.8" cy="60.9" r="1.25" fill="#40368f"/>
<circle cx="54.4" cy="60.5" r="1.25" fill="#40368f"/>
<circle cx="57.2" cy="62.9" r="1.25" fill="#40368f"/>
<circle cx="63.6" cy="70.2" r="1.25" fill="#40368f"/>
<circle cx="64.8" cy="68.4" r="1.25" fill="#40368f"/>
<circle cx="60.2" cy="63.2" r="1.25" fill="#40368f"/>
<circle cx="65.0" cy="66.3" r="1.25" fill="#40368f"/>
<circle cx="60.3" cy="63.5" r="1.25" fill="#40368f"/>
<circle cx="50.9" cy="57.8" r="1.25" fill="#40368f"/>
<circle cx="60.0" cy="66.8" r="1.25" fill="#40368f"/>
<circle cx="55.5" cy="63.8" r="1.25" fill="#40368f"/>
<circle cx="57.2" cy="63.5" r="1.25" fill="#40368f"/>
<circle cx="60.3" cy="64.3" r="1.25" fill="#40368f"/>
<circle cx="59.4" cy="66.0" r="1.25" fill="#40368f"/>
<circle cx="67.0" cy="67.2" r="1.25" fill="#40368f"/>
<circle cx="57.1" cy="60.2" r="1.25" fill="#40368f"/>
<circle cx="59.7" cy="67.8" r="1.25" fill="#40368f"/>
<circle cx="65.0" cy="68.8" r="1.25" fill="#40368f"/>
<circle cx="51.9" cy="58.9" r="1.25" fill="#40368f"/>
<circle cx="71.5" cy="54.8" r="1.25" fill="#d4719b"/>
<circle cx="70.5" cy="58.7" r="1.25" fill="#d4719b"/>
<circle cx="68.3" cy="61.3" r="1.25" fill="#d4719b"/>
<circle cx="69.4" cy="62.0" r="1.25" fill="#d4719b"/>
<circle cx="74.3" cy="60.9" r="1.25" fill="#d4719b"/>
<circle cx="77.9" cy="58.3" r="1.25" fill="#d4719b"/>
<circle cx="68.1" cy="57.2" r="1.25" fill="#d4719b"/>
<circle cx="77.1" cy="56.3" r="1.25" fill="#d4719b"/>
<circle cx="72.8" cy="58.5" r="1.25" fill="#d4719b"/>
<circle cx="71.2" cy="55.7" r="1.25" fill="#d4719b"/>
<circle cx="74.9" cy="57.0" r="1.25" fill="#d4719b"/>
<circle cx="69.5" cy="61.7" r="1.25" fill="#d4719b"/>
<circle cx="77.4" cy="59.7" r="1.25" fill="#d4719b"/>
<circle cx="72.0" cy="55.8" r="1.25" fill="#d4719b"/>
<circle cx="69.2" cy="60.2" r="1.25" fill="#d4719b"/>
<circle cx="77.7" cy="59.0" r="1.25" fill="#d4719b"/>
<circle cx="70.4" cy="59.6" r="1.25" fill="#d4719b"/>
<circle cx="75.9" cy="59.6" r="1.25" fill="#d4719b"/>
<circle cx="73.7" cy="59.6" r="1.25" fill="#d4719b"/>
<circle cx="75.0" cy="55.7" r="1.25" fill="#d4719b"/>
<circle cx="70.8" cy="60.2" r="1.25" fill="#d4719b"/>
<circle cx="68.9" cy="61.8" r="1.25" fill="#d4719b"/>
<circle cx="68.1" cy="58.3" r="1.25" fill="#d4719b"/>
<circle cx="73.0" cy="57.7" r="1.25" fill="#d4719b"/>
<circle cx="72.2" cy="60.1" r="1.25" fill="#d4719b"/>
<circle cx="71.1" cy="55.5" r="1.25" fill="#d4719b"/>
<circle cx="69.8" cy="62.5" r="1.25" fill="#d4719b"/>
<circle cx="74.0" cy="59.4" r="1.25" fill="#d4719b"/>
<circle cx="74.2" cy="59.9" r="1.25" fill="#d4719b"/>
<circle cx="74.2" cy="60.9" r="1.25" fill="#d4719b"/>
<circle cx="80.9" cy="69.8" r="1.25" fill="#d4719b"/>
<circle cx="77.8" cy="68.7" r="1.25" fill="#d4719b"/>
<circle cx="76.6" cy="74.9" r="1.25" fill="#d4719b"/>
<circle cx="76.0" cy="72.3" r="1.25" fill="#d4719b"/>
<circle cx="69.6" cy="74.3" r="1.25" fill="#d4719b"/>
<circle cx="77.6" cy="67.2" r="1.25" fill="#d4719b"/>
<circle cx="80.7" cy="70.6" r="1.25" fill="#d4719b"/>
<circle cx="79.1" cy="67.9" r="1.25" fill="#d4719b"/>
<circle cx="77.1" cy="65.0" r="1.25" fill="#d4719b"/>
<circle cx="73.0" cy="68.6" r="1.25" fill="#d4719b"/>
<circle cx="75.5" cy="72.3" r="1.25" fill="#d4719b"/>
<circle cx="75.0" cy="71.0" r="1.25" fill="#d4719b"/>
<circle cx="77.4" cy="69.6" r="1.25" fill="#d4719b"/>
<circle cx="69.6" cy="73.2" r="1.25" fill="#d4719b"/>
<circle cx="73.4" cy="66.6" r="1.25" fill="#d4719b"/>
<circle cx="70.2" cy="72.4" r="1.25" fill="#d4719b"/>
<circle cx="68.3" cy="69.9" r="1.25" fill="#d4719b"/>
<circle cx="75.1" cy="66.2" r="1.25" fill="#d4719b"/>
<circle cx="77.2" cy="73.4" r="1.25" fill="#d4719b"/>
<circle cx="70.8" cy="66.5" r="1.25" fill="#d4719b"/>
<circle cx="80.9" cy="68.6" r="1.25" fill="#d4719b"/>
<circle cx="78.5" cy="70.9" r="1.25" fill="#d4719b"/>
<circle cx="75.1" cy="70.9" r="1.25" fill="#d4719b"/>
<circle cx="78.5" cy="71.0" r="1.25" fill="#d4719b"/>
<circle cx="79.0" cy="71.2" r="1.25" fill="#d4719b"/>
<circle cx="69.4" cy="71.4" r="1.25" fill="#d4719b"/>
<circle cx="80.7" cy="70.1" r="1.25" fill="#d4719b"/>
<circle cx="72.3" cy="66.2" r="1.25" fill="#d4719b"/>
<circle cx="69.3" cy="66.6" r="1.25" fill="#d4719b"/>
<circle cx="70.5" cy="69.7" r="1.25" fill="#d4719b"/>
<circle cx="71.7" cy="71.7" r="1.25" fill="#d4719b"/>
<circle cx="70.4" cy="66.2" r="1.25" fill="#d4719b"/>
<circle cx="76.0" cy="67.7" r="1.25" fill="#d4719b"/>
<circle cx="74.2" cy="74.0" r="1.25" fill="#d4719b"/>
<circle cx="69.6" cy="67.9" r="1.25" fill="#d4719b"/>
<circle cx="73.8" cy="75.4" r="1.25" fill="#d4719b"/>
<circle cx="72.9" cy="74.4" r="1.25" fill="#d4719b"/>
<circle cx="78.9" cy="66.0" r="1.25" fill="#d4719b"/>
<circle cx="71.3" cy="68.4" r="1.25" fill="#d4719b"/>
<circle cx="73.9" cy="64.6" r="1.25" fill="#d4719b"/>
<circle cx="72.0" cy="65.9" r="1.25" fill="#d4719b"/>
<circle cx="76.4" cy="72.2" r="1.25" fill="#d4719b"/>
<circle cx="76.9" cy="65.8" r="1.25" fill="#d4719b"/>
<circle cx="78.0" cy="66.2" r="1.25" fill="#d4719b"/>
<circle cx="74.1" cy="72.0" r="1.25" fill="#d4719b"/>
<circle cx="77.8" cy="64.7" r="1.25" fill="#d4719b"/>
<circle cx="74.2" cy="72.0" r="1.25" fill="#d4719b"/>
<circle cx="73.3" cy="71.0" r="1.25" fill="#d4719b"/>
<circle cx="76.2" cy="75.2" r="1.25" fill="#d4719b"/>
<circle cx="78.1" cy="64.6" r="1.25" fill="#d4719b"/>
<circle cx="81.0" cy="69.5" r="1.25" fill="#d4719b"/>
<circle cx="80.0" cy="73.0" r="1.25" fill="#d4719b"/>
<circle cx="71.1" cy="70.9" r="1.25" fill="#d4719b"/>
<circle cx="75.9" cy="72.1" r="1.25" fill="#d4719b"/>
<circle cx="69.3" cy="66.1" r="1.25" fill="#d4719b"/>
<circle cx="81.1" cy="69.9" r="1.25" fill="#d4719b"/>
<circle cx="69.4" cy="67.5" r="1.25" fill="#d4719b"/>
<circle cx="72.2" cy="72.2" r="1.25" fill="#d4719b"/>
<circle cx="68.2" cy="65.7" r="1.25" fill="#d4719b"/>
<circle cx="73.7" cy="69.5" r="1.25" fill="#d4719b"/>
<circle cx="101.5" cy="60.2" r="1.25" fill="#f3b3c8"/>
<circle cx="92.8" cy="66.0" r="1.25" fill="#f3b3c8"/>
<circle cx="110.8" cy="58.1" r="1.25" fill="#f3b3c8"/>
<circle cx="108.1" cy="58.3" r="1.25" fill="#f3b3c8"/>
<circle cx="88.5" cy="59.3" r="1.25" fill="#f3b3c8"/>
<circle cx="97.2" cy="62.9" r="1.25" fill="#f3b3c8"/>
<circle cx="93.4" cy="61.1" r="1.25" fill="#f3b3c8"/>
<circle cx="113.5" cy="57.6" r="1.25" fill="#f3b3c8"/>
<circle cx="86.2" cy="59.7" r="1.25" fill="#f3b3c8"/>
<circle cx="115.0" cy="56.9" r="1.25" fill="#f3b3c8"/>
<circle cx="96.8" cy="65.6" r="1.25" fill="#f3b3c8"/>
<circle cx="120.5" cy="58.4" r="1.25" fill="#f3b3c8"/>
<circle cx="93.9" cy="59.6" r="1.25" fill="#f3b3c8"/>
<circle cx="86.9" cy="65.6" r="1.25" fill="#f3b3c8"/>
<circle cx="108.5" cy="57.7" r="1.25" fill="#f3b3c8"/>
<circle cx="95.2" cy="65.3" r="1.25" fill="#f3b3c8"/>
<circle cx="120.8" cy="58.6" r="1.25" fill="#f3b3c8"/>
<circle cx="84.7" cy="63.6" r="1.25" fill="#f3b3c8"/>
<circle cx="80.6" cy="60.9" r="1.25" fill="#f3b3c8"/>
<circle cx="84.6" cy="65.6" r="1.25" fill="#f3b3c8"/>
<circle cx="113.9" cy="56.4" r="1.25" fill="#f3b3c8"/>
<circle cx="102.2" cy="59.8" r="1.25" fill="#f3b3c8"/>
<circle cx="105.3" cy="57.7" r="1.25" fill="#f3b3c8"/>
<circle cx="116.5" cy="58.7" r="1.25" fill="#f3b3c8"/>
<circle cx="95.4" cy="60.8" r="1.25" fill="#f3b3c8"/>
<circle cx="109.5" cy="62.3" r="1.25" fill="#f3b3c8"/>
<circle cx="89.2" cy="65.1" r="1.25" fill="#f3b3c8"/>
<circle cx="103.7" cy="61.4" r="1.25" fill="#f3b3c8"/>
<circle cx="113.6" cy="61.8" r="1.25" fill="#f3b3c8"/>
<circle cx="109.2" cy="61.4" r="1.25" fill="#f3b3c8"/>
<circle cx="86.1" cy="61.9" r="1.25" fill="#f3b3c8"/>
<circle cx="109.5" cy="64.3" r="1.25" fill="#f3b3c8"/>
<circle cx="116.0" cy="57.0" r="1.25" fill="#f3b3c8"/>
<circle cx="90.7" cy="63.3" r="1.25" fill="#f3b3c8"/>
<circle cx="92.6" cy="58.4" r="1.25" fill="#f3b3c8"/>
<circle cx="80.2" cy="63.4" r="1.25" fill="#f3b3c8"/>
<circle cx="99.0" cy="61.2" r="1.25" fill="#f3b3c8"/>
<circle cx="84.9" cy="61.6" r="1.25" fill="#f3b3c8"/>
<circle cx="94.5" cy="60.5" r="1.25" fill="#f3b3c8"/>
<circle cx="83.1" cy="63.7" r="1.25" fill="#f3b3c8"/>
<circle cx="82.9" cy="64.6" r="1.25" fill="#f3b3c8"/>
<circle cx="84.5" cy="64.3" r="1.25" fill="#f3b3c8"/>
<circle cx="114.3" cy="56.4" r="1.25" fill="#f3b3c8"/>
<circle cx="121.8" cy="57.4" r="1.25" fill="#f3b3c8"/>
<circle cx="105.2" cy="60.6" r="1.25" fill="#f3b3c8"/>
<circle cx="101.7" cy="60.1" r="1.25" fill="#f3b3c8"/>
<circle cx="98.8" cy="58.0" r="1.25" fill="#f3b3c8"/>
<circle cx="83.9" cy="59.7" r="1.25" fill="#f3b3c8"/>
<circle cx="118.5" cy="57.3" r="1.25" fill="#f3b3c8"/>
<circle cx="122.4" cy="57.4" r="1.25" fill="#f3b3c8"/>
<circle cx="96.3" cy="63.0" r="1.25" fill="#f3b3c8"/>
<circle cx="103.7" cy="61.1" r="1.25" fill="#f3b3c8"/>
<circle cx="115.8" cy="58.5" r="1.25" fill="#f3b3c8"/>
<circle cx="98.4" cy="63.1" r="1.25" fill="#f3b3c8"/>
<circle cx="81.5" cy="63.8" r="1.25" fill="#f3b3c8"/>
<circle cx="83.5" cy="61.8" r="1.25" fill="#f3b3c8"/>
<circle cx="119.4" cy="54.6" r="1.25" fill="#f3b3c8"/>
<circle cx="98.6" cy="63.1" r="1.25" fill="#f3b3c8"/>
<circle cx="97.4" cy="62.0" r="1.25" fill="#f3b3c8"/>
<circle cx="84.4" cy="68.8" r="1.25" fill="#f3b3c8"/>
<circle cx="122.3" cy="55.7" r="1.25" fill="#f3b3c8"/>
<circle cx="122.1" cy="54.0" r="1.25" fill="#f3b3c8"/>
<circle cx="87.3" cy="61.2" r="1.25" fill="#f3b3c8"/>
<circle cx="123.8" cy="61.2" r="1.25" fill="#f3b3c8"/>
<circle cx="118.1" cy="59.5" r="1.25" fill="#f3b3c8"/>
<circle cx="110.5" cy="60.9" r="1.25" fill="#f3b3c8"/>
<circle cx="95.8" cy="64.6" r="1.25" fill="#f3b3c8"/>
<circle cx="118.8" cy="60.1" r="1.25" fill="#f3b3c8"/>
<circle cx="80.0" cy="62.7" r="1.25" fill="#f3b3c8"/>
<circle cx="121.6" cy="57.4" r="1.25" fill="#f3b3c8"/>
<circle cx="102.5" cy="64.3" r="1.25" fill="#f3b3c8"/>
<circle cx="103.3" cy="56.8" r="1.25" fill="#f3b3c8"/>
<circle cx="92.6" cy="60.9" r="1.25" fill="#f3b3c8"/>
<circle cx="111.7" cy="60.5" r="1.25" fill="#f3b3c8"/>
<circle cx="80.4" cy="63.2" r="1.25" fill="#f3b3c8"/>
<circle cx="119.1" cy="57.1" r="1.25" fill="#f3b3c8"/>
<circle cx="118.7" cy="57.3" r="1.25" fill="#f3b3c8"/>
<circle cx="103.6" cy="57.5" r="1.25" fill="#f3b3c8"/>
<circle cx="91.6" cy="62.0" r="1.25" fill="#f3b3c8"/>
<circle cx="104.5" cy="60.8" r="1.25" fill="#f3b3c8"/>
<circle cx="108.4" cy="61.8" r="1.25" fill="#f3b3c8"/>
<circle cx="88.4" cy="62.1" r="1.25" fill="#f3b3c8"/>
<circle cx="93.1" cy="61.7" r="1.25" fill="#f3b3c8"/>
<circle cx="91.3" cy="62.6" r="1.25" fill="#f3b3c8"/>
<circle cx="84.6" cy="62.6" r="1.25" fill="#f3b3c8"/>
<circle cx="82.3" cy="62.9" r="1.25" fill="#f3b3c8"/>
<circle cx="103.1" cy="57.7" r="1.25" fill="#f3b3c8"/>
<circle cx="117.4" cy="56.3" r="1.25" fill="#f3b3c8"/>
<circle cx="115.0" cy="60.9" r="1.25" fill="#f3b3c8"/>
<circle cx="117.5" cy="62.2" r="1.25" fill="#f3b3c8"/>
<circle cx="107.5" cy="60.5" r="1.25" fill="#f3b3c8"/>
<circle cx="94.4" cy="65.0" r="1.25" fill="#f3b3c8"/>
<circle cx="86.8" cy="67.8" r="1.25" fill="#f3b3c8"/>
<circle cx="89.4" cy="58.9" r="1.25" fill="#f3b3c8"/>
<circle cx="101.0" cy="62.4" r="1.25" fill="#f3b3c8"/>
<circle cx="127.5" cy="57.3" r="1.25" fill="#e31d2c"/>
<circle cx="133.1" cy="55.2" r="1.25" fill="#e31d2c"/>
<circle cx="134.7" cy="54.0" r="1.25" fill="#e31d2c"/>
<circle cx="134.8" cy="51.4" r="1.25" fill="#e31d2c"/>
<circle cx="129.8" cy="56.1" r="1.25" fill="#e31d2c"/>
<circle cx="134.9" cy="47.0" r="1.25" fill="#e31d2c"/>
<circle cx="150.4" cy="47.4" r="1.25" fill="#e31d2c"/>
<circle cx="148.5" cy="52.7" r="1.25" fill="#e31d2c"/>
<circle cx="131.4" cy="52.9" r="1.25" fill="#e31d2c"/>
<circle cx="148.4" cy="46.3" r="1.25" fill="#e31d2c"/>
<circle cx="126.8" cy="57.6" r="1.25" fill="#e31d2c"/>
<circle cx="122.2" cy="51.4" r="1.25" fill="#e31d2c"/>
<circle cx="131.9" cy="50.1" r="1.25" fill="#e31d2c"/>
<circle cx="141.3" cy="50.4" r="1.25" fill="#e31d2c"/>
<circle cx="124.3" cy="42.1" r="1.25" fill="#e31d2c"/>
<circle cx="140.7" cy="51.8" r="1.25" fill="#e31d2c"/>
<circle cx="136.0" cy="47.1" r="1.25" fill="#e31d2c"/>
<circle cx="132.3" cy="47.0" r="1.25" fill="#e31d2c"/>
<circle cx="140.6" cy="47.4" r="1.25" fill="#e31d2c"/>
<circle cx="144.7" cy="44.8" r="1.25" fill="#e31d2c"/>
<circle cx="132.1" cy="50.3" r="1.25" fill="#e31d2c"/>
<circle cx="127.0" cy="56.1" r="1.25" fill="#e31d2c"/>
<circle cx="131.9" cy="51.1" r="1.25" fill="#e31d2c"/>
<circle cx="147.4" cy="42.3" r="1.25" fill="#e31d2c"/>
<circle cx="148.0" cy="43.1" r="1.25" fill="#e31d2c"/>
<circle cx="131.3" cy="48.5" r="1.25" fill="#e31d2c"/>
<circle cx="139.6" cy="46.8" r="1.25" fill="#e31d2c"/>
<circle cx="127.4" cy="56.4" r="1.25" fill="#e31d2c"/>
<circle cx="148.1" cy="49.8" r="1.25" fill="#e31d2c"/>
<circle cx="128.9" cy="53.5" r="1.25" fill="#e31d2c"/>
<circle cx="140.5" cy="42.8" r="1.25" fill="#e31d2c"/>
<circle cx="140.0" cy="50.5" r="1.25" fill="#e31d2c"/>
<circle cx="144.2" cy="48.4" r="1.25" fill="#e31d2c"/>
<circle cx="129.3" cy="52.3" r="1.25" fill="#e31d2c"/>
<circle cx="146.5" cy="46.0" r="1.25" fill="#e31d2c"/>
<circle cx="144.2" cy="44.7" r="1.25" fill="#e31d2c"/>
<circle cx="129.4" cy="46.5" r="1.25" fill="#e31d2c"/>
<circle cx="139.2" cy="49.0" r="1.25" fill="#e31d2c"/>
<circle cx="138.6" cy="61.5" r="1.25" fill="#e31d2c"/>
<circle cx="132.6" cy="48.5" r="1.25" fill="#e31d2c"/>
<circle cx="142.5" cy="48.0" r="1.25" fill="#e31d2c"/>
<circle cx="124.3" cy="54.7" r="1.25" fill="#e31d2c"/>
<circle cx="140.5" cy="47.6" r="1.25" fill="#e31d2c"/>
<circle cx="132.5" cy="57.7" r="1.25" fill="#e31d2c"/>
<circle cx="148.4" cy="48.5" r="1.25" fill="#e31d2c"/>
<circle cx="147.0" cy="46.4" r="1.25" fill="#e31d2c"/>
<circle cx="129.9" cy="55.5" r="1.25" fill="#e31d2c"/>
<circle cx="143.3" cy="52.7" r="1.25" fill="#e31d2c"/>
<circle cx="127.7" cy="55.1" r="1.25" fill="#e31d2c"/>
<circle cx="126.7" cy="61.8" r="1.25" fill="#e31d2c"/>
<circle cx="126.7" cy="55.4" r="1.25" fill="#e31d2c"/>
<circle cx="129.9" cy="49.8" r="1.25" fill="#e31d2c"/>
<circle cx="128.5" cy="58.8" r="1.25" fill="#e31d2c"/>
<circle cx="145.6" cy="46.2" r="1.25" fill="#e31d2c"/>
<circle cx="125.0" cy="58.6" r="1.25" fill="#e31d2c"/>
<circle cx="131.9" cy="54.1" r="1.25" fill="#e31d2c"/>
<circle cx="147.1" cy="47.0" r="1.25" fill="#e31d2c"/>
<circle cx="135.1" cy="53.8" r="1.25" fill="#e31d2c"/>
<circle cx="134.1" cy="42.9" r="1.25" fill="#e31d2c"/>
<circle cx="135.0" cy="50.3" r="1.25" fill="#e31d2c"/>
<circle cx="131.2" cy="52.7" r="1.25" fill="#e31d2c"/>
<circle cx="130.0" cy="47.5" r="1.25" fill="#e31d2c"/>
<circle cx="131.0" cy="53.0" r="1.25" fill="#e31d2c"/>
<circle cx="128.1" cy="60.4" r="1.25" fill="#e31d2c"/>
<circle cx="145.7" cy="47.0" r="1.25" fill="#e31d2c"/>
<circle cx="148.4" cy="44.6" r="1.25" fill="#e31d2c"/>
<circle cx="129.1" cy="49.3" r="1.25" fill="#e31d2c"/>
<circle cx="145.4" cy="56.3" r="1.25" fill="#e31d2c"/>
<circle cx="143.0" cy="51.9" r="1.25" fill="#e31d2c"/>
<circle cx="137.8" cy="49.8" r="1.25" fill="#e31d2c"/>
<circle cx="150.1" cy="47.0" r="1.25" fill="#e31d2c"/>
<circle cx="143.5" cy="51.7" r="1.25" fill="#e31d2c"/>
<circle cx="143.2" cy="46.2" r="1.25" fill="#e31d2c"/>
<circle cx="149.3" cy="54.2" r="1.25" fill="#e31d2c"/>
<circle cx="146.2" cy="48.9" r="1.25" fill="#e31d2c"/>
<circle cx="127.8" cy="55.1" r="1.25" fill="#e31d2c"/>
<circle cx="148.9" cy="53.9" r="1.25" fill="#e31d2c"/>
<circle cx="132.0" cy="48.4" r="1.25" fill="#e31d2c"/>
<circle cx="126.9" cy="59.2" r="1.25" fill="#e31d2c"/>
<circle cx="146.6" cy="44.6" r="1.25" fill="#e31d2c"/>
<circle cx="155.2" cy="38.5" r="1.25" fill="#e31d2c"/>
<circle cx="150.0" cy="39.7" r="1.25" fill="#e31d2c"/>
<circle cx="148.7" cy="32.6" r="1.25" fill="#e31d2c"/>
<circle cx="158.5" cy="38.6" r="1.25" fill="#e31d2c"/>
<circle cx="150.5" cy="41.1" r="1.25" fill="#e31d2c"/>
<circle cx="148.3" cy="39.1" r="1.25" fill="#e31d2c"/>
<circle cx="153.0" cy="34.6" r="1.25" fill="#e31d2c"/>
<circle cx="155.2" cy="38.3" r="1.25" fill="#e31d2c"/>
<circle cx="145.3" cy="43.7" r="1.25" fill="#e31d2c"/>
<circle cx="150.2" cy="34.5" r="1.25" fill="#e31d2c"/>
<circle cx="145.1" cy="42.4" r="1.25" fill="#e31d2c"/>
<circle cx="156.2" cy="35.4" r="1.25" fill="#e31d2c"/>
<circle cx="153.7" cy="35.5" r="1.25" fill="#e31d2c"/>
<circle cx="156.6" cy="35.1" r="1.25" fill="#e31d2c"/>
<circle cx="154.9" cy="35.8" r="1.25" fill="#e31d2c"/>
<circle cx="149.9" cy="44.1" r="1.25" fill="#e31d2c"/>
<circle cx="145.4" cy="38.8" r="1.25" fill="#e31d2c"/>
<circle cx="149.4" cy="42.2" r="1.25" fill="#e31d2c"/>
<circle cx="150.9" cy="38.9" r="1.25" fill="#e31d2c"/>
<circle cx="152.7" cy="32.5" r="1.25" fill="#e31d2c"/>
<circle cx="148.9" cy="33.3" r="1.25" fill="#e31d2c"/>
<circle cx="154.9" cy="35.8" r="1.25" fill="#e31d2c"/>
<circle cx="149.9" cy="39.7" r="1.25" fill="#e31d2c"/>
<circle cx="150.9" cy="34.6" r="1.25" fill="#e31d2c"/>
<circle cx="145.7" cy="44.3" r="1.25" fill="#e31d2c"/>
<circle cx="157.0" cy="36.6" r="1.25" fill="#e31d2c"/>
<circle cx="152.7" cy="36.4" r="1.25" fill="#e31d2c"/>
<circle cx="150.0" cy="40.9" r="1.25" fill="#e31d2c"/>
<circle cx="155.5" cy="39.1" r="1.25" fill="#e31d2c"/>
<circle cx="157.4" cy="34.2" r="1.25" fill="#e31d2c"/>
<circle cx="153.5" cy="33.6" r="1.25" fill="#e31d2c"/>
<circle cx="156.9" cy="33.0" r="1.25" fill="#e31d2c"/>
<circle cx="157.2" cy="80.6" r="1.25" fill="#e31d2c"/>
<circle cx="159.0" cy="82.0" r="1.25" fill="#e31d2c"/>
<circle cx="156.3" cy="82.1" r="1.25" fill="#e31d2c"/>
<circle cx="159.6" cy="76.6" r="1.25" fill="#e31d2c"/>
<circle cx="157.2" cy="76.0" r="1.25" fill="#e31d2c"/>
<circle cx="159.2" cy="79.2" r="1.25" fill="#e31d2c"/>
<circle cx="161.4" cy="80.7" r="1.25" fill="#e31d2c"/>
<circle cx="154.8" cy="80.7" r="1.25" fill="#e31d2c"/>
<circle cx="158.2" cy="75.7" r="1.25" fill="#e31d2c"/>
<circle cx="156.2" cy="79.9" r="1.25" fill="#e31d2c"/>
<circle cx="157.2" cy="78.3" r="1.25" fill="#e31d2c"/>
<circle cx="152.9" cy="82.3" r="1.25" fill="#e31d2c"/>
<circle cx="155.0" cy="75.8" r="1.25" fill="#e31d2c"/>
<circle cx="158.3" cy="79.6" r="1.25" fill="#e31d2c"/>
<circle cx="160.5" cy="78.3" r="1.25" fill="#e31d2c"/>
<circle cx="155.1" cy="76.6" r="1.25" fill="#e31d2c"/>
<circle cx="157.4" cy="80.8" r="1.25" fill="#e31d2c"/>
<circle cx="154.9" cy="79.9" r="1.25" fill="#e31d2c"/>
<circle cx="155.7" cy="81.7" r="1.25" fill="#e31d2c"/>
<circle cx="159.2" cy="80.6" r="1.25" fill="#e31d2c"/>
<circle cx="154.9" cy="77.7" r="1.25" fill="#e31d2c"/>
<circle cx="157.0" cy="78.1" r="1.25" fill="#e31d2c"/>
<circle cx="157.2" cy="77.3" r="1.25" fill="#e31d2c"/>
<circle cx="154.7" cy="77.7" r="1.25" fill="#e31d2c"/>
<circle cx="155.8" cy="85.1" r="1.25" fill="#e31d2c"/>
<circle cx="157.1" cy="76.9" r="1.25" fill="#e31d2c"/>
<circle cx="155.6" cy="81.9" r="1.25" fill="#e31d2c"/>
<circle cx="153.8" cy="81.6" r="1.25" fill="#e31d2c"/>
<circle cx="195.8" cy="55.3" r="1.25" fill="#9c0b16"/>
<circle cx="167.3" cy="33.7" r="1.25" fill="#9c0b16"/>
<circle cx="171.6" cy="32.8" r="1.25" fill="#9c0b16"/>
<circle cx="176.4" cy="36.2" r="1.25" fill="#9c0b16"/>
<circle cx="183.9" cy="41.4" r="1.25" fill="#9c0b16"/>
<circle cx="182.0" cy="45.9" r="1.25" fill="#9c0b16"/>
<circle cx="174.3" cy="30.4" r="1.25" fill="#9c0b16"/>
<circle cx="193.1" cy="52.2" r="1.25" fill="#9c0b16"/>
<circle cx="194.5" cy="44.1" r="1.25" fill="#9c0b16"/>
<circle cx="175.1" cy="37.5" r="1.25" fill="#9c0b16"/>
<circle cx="193.7" cy="47.2" r="1.25" fill="#9c0b16"/>
<circle cx="192.3" cy="43.3" r="1.25" fill="#9c0b16"/>
<circle cx="161.0" cy="31.4" r="1.25" fill="#9c0b16"/>
<circle cx="191.3" cy="47.3" r="1.25" fill="#9c0b16"/>
<circle cx="169.1" cy="36.0" r="1.25" fill="#9c0b16"/>
<circle cx="168.3" cy="33.7" r="1.25" fill="#9c0b16"/>
<circle cx="180.6" cy="38.9" r="1.25" fill="#9c0b16"/>
<circle cx="171.4" cy="34.4" r="1.25" fill="#9c0b16"/>
<circle cx="186.0" cy="46.7" r="1.25" fill="#9c0b16"/>
<circle cx="171.3" cy="34.5" r="1.25" fill="#9c0b16"/>
<circle cx="195.2" cy="53.6" r="1.25" fill="#9c0b16"/>
<circle cx="171.7" cy="37.2" r="1.25" fill="#9c0b16"/>
<circle cx="197.3" cy="52.2" r="1.25" fill="#9c0b16"/>
<circle cx="189.8" cy="45.5" r="1.25" fill="#9c0b16"/>
<circle cx="201.1" cy="54.6" r="1.25" fill="#9c0b16"/>
<circle cx="170.5" cy="33.1" r="1.25" fill="#9c0b16"/>
<circle cx="194.2" cy="49.6" r="1.25" fill="#9c0b16"/>
<circle cx="185.1" cy="39.2" r="1.25" fill="#9c0b16"/>
<circle cx="200.7" cy="54.7" r="1.25" fill="#9c0b16"/>
<circle cx="168.3" cy="34.8" r="1.25" fill="#9c0b16"/>
<circle cx="174.7" cy="36.5" r="1.25" fill="#9c0b16"/>
<circle cx="197.8" cy="53.5" r="1.25" fill="#9c0b16"/>
<circle cx="184.4" cy="42.5" r="1.25" fill="#9c0b16"/>
<circle cx="170.2" cy="33.3" r="1.25" fill="#9c0b16"/>
<circle cx="184.1" cy="41.5" r="1.25" fill="#9c0b16"/>
<circle cx="187.4" cy="45.0" r="1.25" fill="#9c0b16"/>
<circle cx="197.9" cy="49.8" r="1.25" fill="#9c0b16"/>
<circle cx="197.1" cy="49.4" r="1.25" fill="#9c0b16"/>
<circle cx="170.7" cy="31.4" r="1.25" fill="#9c0b16"/>
<circle cx="171.8" cy="31.1" r="1.25" fill="#9c0b16"/>
<circle cx="167.5" cy="36.8" r="1.25" fill="#9c0b16"/>
<circle cx="169.1" cy="34.5" r="1.25" fill="#9c0b16"/>
<circle cx="203.7" cy="56.2" r="1.25" fill="#9c0b16"/>
<circle cx="182.6" cy="34.4" r="1.25" fill="#9c0b16"/>
<circle cx="166.5" cy="35.9" r="1.25" fill="#9c0b16"/>
<circle cx="191.9" cy="46.5" r="1.25" fill="#9c0b16"/>
<circle cx="193.1" cy="46.4" r="1.25" fill="#9c0b16"/>
<circle cx="207.7" cy="52.6" r="1.25" fill="#9c0b16"/>
<circle cx="170.4" cy="30.5" r="1.25" fill="#9c0b16"/>
<circle cx="165.6" cy="37.6" r="1.25" fill="#9c0b16"/>
<circle cx="163.1" cy="31.2" r="1.25" fill="#9c0b16"/>
<circle cx="173.1" cy="36.4" r="1.25" fill="#9c0b16"/>
<circle cx="161.0" cy="32.6" r="1.25" fill="#9c0b16"/>
<circle cx="186.6" cy="45.9" r="1.25" fill="#9c0b16"/>
<circle cx="180.6" cy="44.5" r="1.25" fill="#9c0b16"/>
<circle cx="189.9" cy="44.9" r="1.25" fill="#9c0b16"/>
<circle cx="181.3" cy="35.1" r="1.25" fill="#9c0b16"/>
<circle cx="199.4" cy="53.4" r="1.25" fill="#9c0b16"/>
<circle cx="197.5" cy="54.0" r="1.25" fill="#9c0b16"/>
<circle cx="188.2" cy="41.4" r="1.25" fill="#9c0b16"/>
<circle cx="191.4" cy="45.3" r="1.25" fill="#9c0b16"/>
<circle cx="190.5" cy="43.3" r="1.25" fill="#9c0b16"/>
<circle cx="175.8" cy="41.8" r="1.25" fill="#9c0b16"/>
<circle cx="160.6" cy="31.0" r="1.25" fill="#9c0b16"/>
<circle cx="204.3" cy="54.7" r="1.25" fill="#9c0b16"/>
<circle cx="174.3" cy="38.0" r="1.25" fill="#9c0b16"/>
<circle cx="197.9" cy="49.3" r="1.25" fill="#9c0b16"/>
<circle cx="204.7" cy="56.0" r="1.25" fill="#9c0b16"/>
<circle cx="167.0" cy="33.0" r="1.25" fill="#9c0b16"/>
<circle cx="159.9" cy="33.2" r="1.25" fill="#9c0b16"/>
<circle cx="174.4" cy="39.6" r="1.25" fill="#9c0b16"/>
<circle cx="189.2" cy="46.3" r="1.25" fill="#9c0b16"/>
<circle cx="196.0" cy="50.5" r="1.25" fill="#9c0b16"/>
<circle cx="167.9" cy="35.1" r="1.25" fill="#9c0b16"/>
<circle cx="160.4" cy="29.8" r="1.25" fill="#9c0b16"/>
<circle cx="170.4" cy="37.1" r="1.25" fill="#9c0b16"/>
<circle cx="167.8" cy="36.4" r="1.25" fill="#9c0b16"/>
<circle cx="189.1" cy="38.6" r="1.25" fill="#9c0b16"/>
<circle cx="157.9" cy="31.4" r="1.25" fill="#9c0b16"/>
<circle cx="184.0" cy="40.2" r="1.25" fill="#9c0b16"/>
<circle cx="197.2" cy="50.3" r="1.25" fill="#9c0b16"/>
<circle cx="164.8" cy="38.4" r="1.25" fill="#9c0b16"/>
<circle cx="183.3" cy="44.2" r="1.25" fill="#9c0b16"/>
<circle cx="196.2" cy="52.8" r="1.25" fill="#9c0b16"/>
<circle cx="205.3" cy="54.2" r="1.25" fill="#9c0b16"/>
<circle cx="156.0" cy="33.5" r="1.25" fill="#9c0b16"/>
<circle cx="202.2" cy="58.3" r="1.25" fill="#9c0b16"/>
<circle cx="166.6" cy="35.0" r="1.25" fill="#9c0b16"/>
<circle cx="168.2" cy="33.7" r="1.25" fill="#9c0b16"/>
<circle cx="187.8" cy="43.4" r="1.25" fill="#9c0b16"/>
<circle cx="174.7" cy="38.6" r="1.25" fill="#9c0b16"/>
<circle cx="199.2" cy="49.9" r="1.25" fill="#9c0b16"/>
<circle cx="163.1" cy="37.8" r="1.25" fill="#9c0b16"/>
<circle cx="160.0" cy="31.9" r="1.25" fill="#9c0b16"/>
<circle cx="201.2" cy="51.3" r="1.25" fill="#9c0b16"/>
<circle cx="156.6" cy="34.7" r="1.25" fill="#9c0b16"/>
<circle cx="168.7" cy="35.5" r="1.25" fill="#9c0b16"/>
<circle cx="175.7" cy="38.3" r="1.25" fill="#9c0b16"/>
<circle cx="187.9" cy="37.9" r="1.25" fill="#9c0b16"/>
<circle cx="158.6" cy="35.7" r="1.25" fill="#9c0b16"/>
<circle cx="202.8" cy="54.8" r="1.25" fill="#9c0b16"/>
<circle cx="192.8" cy="51.6" r="1.25" fill="#9c0b16"/>
<circle cx="190.8" cy="44.0" r="1.25" fill="#9c0b16"/>
<circle cx="165.0" cy="36.2" r="1.25" fill="#9c0b16"/>
<circle cx="199.3" cy="51.5" r="1.25" fill="#9c0b16"/>
<circle cx="186.7" cy="45.4" r="1.25" fill="#9c0b16"/>
<circle cx="168.8" cy="30.7" r="1.25" fill="#9c0b16"/>
<circle cx="165.3" cy="35.1" r="1.25" fill="#9c0b16"/>
<circle cx="195.0" cy="50.7" r="1.25" fill="#9c0b16"/>
<circle cx="164.2" cy="36.6" r="1.25" fill="#9c0b16"/>
<circle cx="178.5" cy="36.6" r="1.25" fill="#9c0b16"/>
<circle cx="157.3" cy="35.1" r="1.25" fill="#9c0b16"/>
<circle cx="173.8" cy="34.7" r="1.25" fill="#9c0b16"/>
<circle cx="200.6" cy="47.3" r="1.25" fill="#9c0b16"/>
<circle cx="172.5" cy="38.5" r="1.25" fill="#9c0b16"/>
<circle cx="194.6" cy="50.7" r="1.25" fill="#9c0b16"/>
<circle cx="203.2" cy="58.3" r="1.25" fill="#9c0b16"/>
<circle cx="163.6" cy="34.1" r="1.25" fill="#9c0b16"/>
<circle cx="167.4" cy="35.6" r="1.25" fill="#9c0b16"/>
<circle cx="183.9" cy="45.7" r="1.25" fill="#9c0b16"/>
<circle cx="197.5" cy="52.1" r="1.25" fill="#9c0b16"/>
<circle cx="181.4" cy="38.1" r="1.25" fill="#9c0b16"/>
<circle cx="165.6" cy="33.7" r="1.25" fill="#9c0b16"/>
<circle cx="193.1" cy="51.4" r="1.25" fill="#9c0b16"/>
<circle cx="183.6" cy="39.9" r="1.25" fill="#9c0b16"/>
<circle cx="183.0" cy="39.8" r="1.25" fill="#9c0b16"/>
<circle cx="194.7" cy="51.7" r="1.25" fill="#9c0b16"/>
<circle cx="170.4" cy="35.4" r="1.25" fill="#9c0b16"/>
<circle cx="189.3" cy="42.3" r="1.25" fill="#9c0b16"/>
<circle cx="200.6" cy="56.5" r="1.25" fill="#9c0b16"/>
<circle cx="184.2" cy="39.6" r="1.25" fill="#9c0b16"/>
<circle cx="198.4" cy="53.3" r="1.25" fill="#9c0b16"/>
<circle cx="180.8" cy="39.8" r="1.25" fill="#9c0b16"/>
<circle cx="201.6" cy="57.2" r="1.25" fill="#9c0b16"/>
<circle cx="190.7" cy="49.9" r="1.25" fill="#9c0b16"/>
<circle cx="182.1" cy="37.2" r="1.25" fill="#9c0b16"/>
<circle cx="181.2" cy="42.7" r="1.25" fill="#9c0b16"/>
<circle cx="156.4" cy="35.1" r="1.25" fill="#9c0b16"/>
<circle cx="161.9" cy="29.7" r="1.25" fill="#9c0b16"/>
<circle cx="168.2" cy="30.4" r="1.25" fill="#9c0b16"/>
<circle cx="121.2" cy="85.1" r="1.25" fill="#ff4a18"/>
<circle cx="119.1" cy="95.2" r="1.25" fill="#ff4a18"/>
<circle cx="116.6" cy="94.3" r="1.25" fill="#ff4a18"/>
<circle cx="117.7" cy="79.3" r="1.25" fill="#ff4a18"/>
<circle cx="121.8" cy="91.5" r="1.25" fill="#ff4a18"/>
<circle cx="123.1" cy="81.6" r="1.25" fill="#ff4a18"/>
<circle cx="112.4" cy="81.5" r="1.25" fill="#ff4a18"/>
<circle cx="108.9" cy="88.6" r="1.25" fill="#ff4a18"/>
<circle cx="113.8" cy="95.3" r="1.25" fill="#ff4a18"/>
<circle cx="117.7" cy="98.9" r="1.25" fill="#ff4a18"/>
<circle cx="120.6" cy="90.1" r="1.25" fill="#ff4a18"/>
<circle cx="112.8" cy="97.3" r="1.25" fill="#ff4a18"/>
<circle cx="120.9" cy="85.9" r="1.25" fill="#ff4a18"/>
<circle cx="123.5" cy="87.2" r="1.25" fill="#ff4a18"/>
<circle cx="116.6" cy="79.3" r="1.25" fill="#ff4a18"/>
<circle cx="114.1" cy="90.3" r="1.25" fill="#ff4a18"/>
<circle cx="110.2" cy="90.0" r="1.25" fill="#ff4a18"/>
<circle cx="124.7" cy="89.9" r="1.25" fill="#ff4a18"/>
<circle cx="124.4" cy="91.5" r="1.25" fill="#ff4a18"/>
<circle cx="121.0" cy="93.3" r="1.25" fill="#ff4a18"/>
<circle cx="111.9" cy="89.7" r="1.25" fill="#ff4a18"/>
<circle cx="119.5" cy="77.1" r="1.25" fill="#ff4a18"/>
<circle cx="109.9" cy="90.2" r="1.25" fill="#ff4a18"/>
<circle cx="123.8" cy="87.0" r="1.25" fill="#ff4a18"/>
<circle cx="112.9" cy="80.0" r="1.25" fill="#ff4a18"/>
<circle cx="110.1" cy="92.4" r="1.25" fill="#ff4a18"/>
<circle cx="107.2" cy="82.7" r="1.25" fill="#ff4a18"/>
<circle cx="120.8" cy="90.3" r="1.25" fill="#ff4a18"/>
<circle cx="108.2" cy="87.3" r="1.25" fill="#ff4a18"/>
<circle cx="107.5" cy="83.7" r="1.25" fill="#ff4a18"/>
<circle cx="120.5" cy="91.3" r="1.25" fill="#ff4a18"/>
<circle cx="125.4" cy="88.4" r="1.25" fill="#ff4a18"/>
<circle cx="126.4" cy="88.6" r="1.25" fill="#ff4a18"/>
<circle cx="118.2" cy="75.6" r="1.25" fill="#ff4a18"/>
<circle cx="111.8" cy="91.5" r="1.25" fill="#ff4a18"/>
<circle cx="104.8" cy="85.2" r="1.25" fill="#ff4a18"/>
<circle cx="106.2" cy="87.4" r="1.25" fill="#ff4a18"/>
<circle cx="125.2" cy="87.0" r="1.25" fill="#ff4a18"/>
<circle cx="119.1" cy="79.2" r="1.25" fill="#ff4a18"/>
<circle cx="106.0" cy="90.1" r="1.25" fill="#ff4a18"/>
<circle cx="110.3" cy="93.4" r="1.25" fill="#ff4a18"/>
<circle cx="115.4" cy="94.6" r="1.25" fill="#ff4a18"/>
<circle cx="110.8" cy="94.5" r="1.25" fill="#ff4a18"/>
<circle cx="112.5" cy="93.4" r="1.25" fill="#ff4a18"/>
<circle cx="110.0" cy="88.3" r="1.25" fill="#ff4a18"/>
<circle cx="119.3" cy="91.2" r="1.25" fill="#ff4a18"/>
<circle cx="109.0" cy="86.3" r="1.25" fill="#ff4a18"/>
<circle cx="110.9" cy="89.6" r="1.25" fill="#ff4a18"/>
<circle cx="124.3" cy="92.1" r="1.25" fill="#ff4a18"/>
<circle cx="121.5" cy="92.8" r="1.25" fill="#ff4a18"/>
<circle cx="108.6" cy="83.7" r="1.25" fill="#ff4a18"/>
<circle cx="121.1" cy="95.7" r="1.25" fill="#ff4a18"/>
<circle cx="109.7" cy="76.2" r="1.25" fill="#ff4a18"/>
<circle cx="122.1" cy="80.5" r="1.25" fill="#ff4a18"/>
<circle cx="107.0" cy="89.9" r="1.25" fill="#ff4a18"/>
<circle cx="111.0" cy="93.0" r="1.25" fill="#ff4a18"/>
<circle cx="119.0" cy="89.6" r="1.25" fill="#ff4a18"/>
<circle cx="110.1" cy="83.9" r="1.25" fill="#ff4a18"/>
<circle cx="116.1" cy="79.1" r="1.25" fill="#ff4a18"/>
<circle cx="112.9" cy="83.6" r="1.25" fill="#ff4a18"/>
<circle cx="113.8" cy="88.8" r="1.25" fill="#ff4a18"/>
<circle cx="110.7" cy="83.6" r="1.25" fill="#ff4a18"/>
<circle cx="114.7" cy="78.7" r="1.25" fill="#ff4a18"/>
<circle cx="113.2" cy="94.3" r="1.25" fill="#ff4a18"/>
<circle cx="112.1" cy="78.3" r="1.25" fill="#ff4a18"/>
<circle cx="109.8" cy="75.6" r="1.25" fill="#ff4a18"/>
<circle cx="121.1" cy="77.4" r="1.25" fill="#ff4a18"/>
<circle cx="122.6" cy="90.9" r="1.25" fill="#ff4a18"/>
<circle cx="118.5" cy="77.4" r="1.25" fill="#ff4a18"/>
<circle cx="121.0" cy="92.3" r="1.25" fill="#ff4a18"/>
<circle cx="117.8" cy="94.0" r="1.25" fill="#ff4a18"/>
<circle cx="116.6" cy="95.1" r="1.25" fill="#ff4a18"/>
<circle cx="123.8" cy="94.6" r="1.25" fill="#ff4a18"/>
<circle cx="124.3" cy="90.8" r="1.25" fill="#ff4a18"/>
<circle cx="113.6" cy="96.6" r="1.25" fill="#ff4a18"/>
<circle cx="111.4" cy="90.4" r="1.25" fill="#ff4a18"/>
<circle cx="112.7" cy="95.3" r="1.25" fill="#ff4a18"/>
<circle cx="119.5" cy="98.7" r="1.25" fill="#ff4a18"/>
<circle cx="117.4" cy="82.4" r="1.25" fill="#ff4a18"/>
<circle cx="125.2" cy="92.7" r="1.25" fill="#ff4a18"/>
<circle cx="117.1" cy="79.5" r="1.25" fill="#ff4a18"/>
<circle cx="115.3" cy="91.8" r="1.25" fill="#ff4a18"/>
<circle cx="111.0" cy="89.8" r="1.25" fill="#ff4a18"/>
<circle cx="124.4" cy="87.0" r="1.25" fill="#ff4a18"/>
<circle cx="111.6" cy="81.2" r="1.25" fill="#ff4a18"/>
<circle cx="120.8" cy="76.9" r="1.25" fill="#ff4a18"/>
<circle cx="116.5" cy="98.0" r="1.25" fill="#ff4a18"/>
<circle cx="122.2" cy="84.1" r="1.25" fill="#ff4a18"/>
<circle cx="114.2" cy="91.4" r="1.25" fill="#ff4a18"/>
<circle cx="111.9" cy="86.3" r="1.25" fill="#ff4a18"/>
<circle cx="122.9" cy="79.2" r="1.25" fill="#ff4a18"/>
<circle cx="112.4" cy="79.4" r="1.25" fill="#ff4a18"/>
<circle cx="114.6" cy="89.9" r="1.25" fill="#ff4a18"/>
<circle cx="110.1" cy="86.6" r="1.25" fill="#ff4a18"/>
<circle cx="107.7" cy="89.9" r="1.25" fill="#ff4a18"/>
<circle cx="121.0" cy="81.8" r="1.25" fill="#ff4a18"/>
<circle cx="123.0" cy="86.2" r="1.25" fill="#ff4a18"/>
<circle cx="112.6" cy="91.3" r="1.25" fill="#ff4a18"/>
<circle cx="110.6" cy="78.9" r="1.25" fill="#ff4a18"/>
<circle cx="115.4" cy="82.2" r="1.25" fill="#ff4a18"/>
<circle cx="111.9" cy="90.7" r="1.25" fill="#ff4a18"/>
<circle cx="110.9" cy="87.8" r="1.25" fill="#ff4a18"/>
<circle cx="117.2" cy="89.6" r="1.25" fill="#ff4a18"/>
<circle cx="114.5" cy="94.2" r="1.25" fill="#ff4a18"/>
<circle cx="108.0" cy="89.2" r="1.25" fill="#ff4a18"/>
<circle cx="116.8" cy="91.3" r="1.25" fill="#ff4a18"/>
<circle cx="109.6" cy="87.4" r="1.25" fill="#ff4a18"/>
<circle cx="115.0" cy="91.2" r="1.25" fill="#ff4a18"/>
<circle cx="109.0" cy="87.6" r="1.25" fill="#ff4a18"/>
<circle cx="115.3" cy="90.0" r="1.25" fill="#ff4a18"/>
<circle cx="107.4" cy="91.8" r="1.25" fill="#ff4a18"/>
<circle cx="113.7" cy="91.1" r="1.25" fill="#ff4a18"/>
<circle cx="110.2" cy="93.2" r="1.25" fill="#ff4a18"/>
<circle cx="110.0" cy="88.3" r="1.25" fill="#ff4a18"/>
<circle cx="114.8" cy="91.2" r="1.25" fill="#ff4a18"/>
<circle cx="109.2" cy="89.0" r="1.25" fill="#ff4a18"/>
<circle cx="107.6" cy="93.6" r="1.25" fill="#ff4a18"/>
<circle cx="108.0" cy="88.8" r="1.25" fill="#ff4a18"/>
<circle cx="112.7" cy="89.4" r="1.25" fill="#ff4a18"/>
<circle cx="112.4" cy="90.0" r="1.25" fill="#ff4a18"/>
<circle cx="111.0" cy="72.0" r="1.25" fill="#ff4a18"/>
<circle cx="109.1" cy="79.4" r="1.25" fill="#ff4a18"/>
<circle cx="108.6" cy="80.4" r="1.25" fill="#ff4a18"/>
<circle cx="108.2" cy="71.8" r="1.25" fill="#ff4a18"/>
<circle cx="108.5" cy="75.8" r="1.25" fill="#ff4a18"/>
<circle cx="106.0" cy="79.8" r="1.25" fill="#ff4a18"/>
<circle cx="110.1" cy="74.9" r="1.25" fill="#ff4a18"/>
<circle cx="106.9" cy="80.9" r="1.25" fill="#ff4a18"/>
<circle cx="108.5" cy="81.7" r="1.25" fill="#ff4a18"/>
<circle cx="108.0" cy="80.6" r="1.25" fill="#ff4a18"/>
<circle cx="111.2" cy="69.5" r="1.25" fill="#ff4a18"/>
<circle cx="109.8" cy="69.8" r="1.25" fill="#ff4a18"/>
<circle cx="109.4" cy="75.5" r="1.25" fill="#ff4a18"/>
<circle cx="106.9" cy="81.8" r="1.25" fill="#ff4a18"/>
<circle cx="92.3" cy="77.4" r="1.25" fill="#ff4a18"/>
<circle cx="91.7" cy="79.1" r="1.25" fill="#ff4a18"/>
<circle cx="91.5" cy="78.4" r="1.25" fill="#ff4a18"/>
<circle cx="88.2" cy="76.5" r="1.25" fill="#ff4a18"/>
<circle cx="89.3" cy="77.9" r="1.25" fill="#ff4a18"/>
<circle cx="88.1" cy="76.3" r="1.25" fill="#ff4a18"/>
<circle cx="67.4" cy="77.0" r="1.25" fill="#1c6b90"/>
<circle cx="72.0" cy="82.8" r="1.25" fill="#1c6b90"/>
<circle cx="70.0" cy="79.8" r="1.25" fill="#1c6b90"/>
<circle cx="69.7" cy="78.6" r="1.25" fill="#1c6b90"/>
<circle cx="66.5" cy="76.2" r="1.25" fill="#1c6b90"/>
<circle cx="70.4" cy="78.3" r="1.25" fill="#1c6b90"/>
<circle cx="67.2" cy="76.6" r="1.25" fill="#1c6b90"/>
<circle cx="65.5" cy="71.9" r="1.25" fill="#1c6b90"/>
<circle cx="73.3" cy="84.3" r="1.25" fill="#1c6b90"/>
<circle cx="68.9" cy="77.1" r="1.25" fill="#1c6b90"/>
<circle cx="67.2" cy="77.2" r="1.25" fill="#1c6b90"/>
<circle cx="75.0" cy="86.1" r="1.25" fill="#1c6b90"/>
<circle cx="69.4" cy="78.2" r="1.25" fill="#1c6b90"/>
<circle cx="71.6" cy="85.9" r="1.25" fill="#1c6b90"/>
<circle cx="94.9" cy="82.2" r="1.25" fill="#1c6b90"/>
<circle cx="100.6" cy="87.7" r="1.25" fill="#1c6b90"/>
<circle cx="93.7" cy="79.8" r="1.25" fill="#1c6b90"/>
<circle cx="96.0" cy="84.0" r="1.25" fill="#1c6b90"/>
<circle cx="102.9" cy="88.8" r="1.25" fill="#1c6b90"/>
<circle cx="93.8" cy="81.1" r="1.25" fill="#1c6b90"/>
<circle cx="97.4" cy="85.3" r="1.25" fill="#1c6b90"/>
<circle cx="99.8" cy="87.3" r="1.25" fill="#1c6b90"/>
<circle cx="102.6" cy="88.9" r="1.25" fill="#1c6b90"/>
<circle cx="92.0" cy="77.9" r="1.25" fill="#1c6b90"/>
<circle cx="89.2" cy="97.8" r="1.25" fill="#1c6b90"/>
<circle cx="99.9" cy="112.7" r="1.25" fill="#1c6b90"/>
<circle cx="96.7" cy="108.3" r="1.25" fill="#1c6b90"/>
<circle cx="95.5" cy="105.1" r="1.25" fill="#1c6b90"/>
<circle cx="93.3" cy="100.8" r="1.25" fill="#1c6b90"/>
<circle cx="92.6" cy="101.9" r="1.25" fill="#1c6b90"/>
<circle cx="93.6" cy="102.6" r="1.25" fill="#1c6b90"/>
<circle cx="96.1" cy="104.5" r="1.25" fill="#1c6b90"/>
<circle cx="92.9" cy="101.8" r="1.25" fill="#1c6b90"/>
<circle cx="89.1" cy="95.8" r="1.25" fill="#1c6b90"/>
<circle cx="97.6" cy="108.6" r="1.25" fill="#1c6b90"/>
<circle cx="91.0" cy="100.1" r="1.25" fill="#1c6b90"/>
<circle cx="111.3" cy="104.4" r="1.25" fill="#1c6b90"/>
<circle cx="109.8" cy="97.9" r="1.25" fill="#1c6b90"/>
<circle cx="110.8" cy="96.3" r="1.25" fill="#1c6b90"/>
<circle cx="112.1" cy="109.2" r="1.25" fill="#1c6b90"/>
<circle cx="110.5" cy="104.8" r="1.25" fill="#1c6b90"/>
<circle cx="111.2" cy="104.4" r="1.25" fill="#1c6b90"/>
<circle cx="110.8" cy="104.0" r="1.25" fill="#1c6b90"/>
<circle cx="109.4" cy="96.0" r="1.25" fill="#1c6b90"/>
<circle cx="97.1" cy="104.7" r="1.25" fill="#1c6b90"/>
<circle cx="102.1" cy="111.4" r="1.25" fill="#1c6b90"/>
<circle cx="99.9" cy="107.9" r="1.25" fill="#1c6b90"/>
<circle cx="101.7" cy="112.8" r="1.25" fill="#1c6b90"/>
<circle cx="101.4" cy="108.2" r="1.25" fill="#1c6b90"/>
<circle cx="105.2" cy="114.1" r="1.25" fill="#1c6b90"/>
<circle cx="97.2" cy="104.4" r="1.25" fill="#1c6b90"/>
<circle cx="103.2" cy="110.3" r="1.25" fill="#1c6b90"/>
<circle cx="105.1" cy="113.5" r="1.25" fill="#1c6b90"/>
<circle cx="98.5" cy="103.8" r="1.25" fill="#1c6b90"/>
<circle cx="112.2" cy="110.2" r="1.25" fill="#1c6b90"/>
<circle cx="116.8" cy="112.7" r="1.25" fill="#1c6b90"/>
<circle cx="114.8" cy="110.4" r="1.25" fill="#1c6b90"/>
<circle cx="117.9" cy="110.7" r="1.25" fill="#1c6b90"/>
<circle cx="112.8" cy="107.7" r="1.25" fill="#1c6b90"/>
<circle cx="112.3" cy="109.6" r="1.25" fill="#1c6b90"/>
<circle cx="78.5" cy="91.6" r="1.25" fill="#1c6b90"/>
<circle cx="84.7" cy="91.3" r="1.25" fill="#1c6b90"/>
<circle cx="83.1" cy="88.8" r="1.25" fill="#1c6b90"/>
<circle cx="82.5" cy="95.0" r="1.25" fill="#1c6b90"/>
<circle cx="84.4" cy="90.1" r="1.25" fill="#1c6b90"/>
<circle cx="79.2" cy="92.9" r="1.25" fill="#1c6b90"/>
<circle cx="78.0" cy="99.3" r="1.25" fill="#1c6b90"/>
<circle cx="80.6" cy="98.2" r="1.25" fill="#1c6b90"/>
<circle cx="79.5" cy="94.3" r="1.25" fill="#1c6b90"/>
<circle cx="82.7" cy="89.9" r="1.25" fill="#1c6b90"/>
<circle cx="148.0" cy="94.2" r="1.25" fill="#19b8ec"/>
<circle cx="151.2" cy="94.0" r="1.25" fill="#19b8ec"/>
<circle cx="150.1" cy="98.1" r="1.25" fill="#19b8ec"/>
<circle cx="183.8" cy="86.7" r="1.25" fill="#19b8ec"/>
<circle cx="192.0" cy="95.5" r="1.25" fill="#19b8ec"/>
<circle cx="169.6" cy="95.2" r="1.25" fill="#19b8ec"/>
<circle cx="184.5" cy="85.7" r="1.25" fill="#19b8ec"/>
<circle cx="159.5" cy="94.3" r="1.25" fill="#19b8ec"/>
<circle cx="202.0" cy="84.2" r="1.25" fill="#19b8ec"/>
<circle cx="213.7" cy="77.3" r="1.25" fill="#19b8ec"/>
<circle cx="171.7" cy="91.1" r="1.25" fill="#19b8ec"/>
<circle cx="204.6" cy="92.6" r="1.25" fill="#19b8ec"/>
<circle cx="151.6" cy="93.5" r="1.25" fill="#19b8ec"/>
<circle cx="215.7" cy="79.6" r="1.25" fill="#19b8ec"/>
<circle cx="158.4" cy="91.0" r="1.25" fill="#19b8ec"/>
<circle cx="200.0" cy="92.4" r="1.25" fill="#19b8ec"/>
<circle cx="196.5" cy="84.5" r="1.25" fill="#19b8ec"/>
<circle cx="149.5" cy="88.8" r="1.25" fill="#19b8ec"/>
<circle cx="150.9" cy="98.4" r="1.25" fill="#19b8ec"/>
<circle cx="207.4" cy="83.2" r="1.25" fill="#19b8ec"/>
<circle cx="162.4" cy="94.9" r="1.25" fill="#19b8ec"/>
<circle cx="197.0" cy="88.9" r="1.25" fill="#19b8ec"/>
<circle cx="216.2" cy="87.1" r="1.25" fill="#19b8ec"/>
<circle cx="150.4" cy="87.7" r="1.25" fill="#19b8ec"/>
<circle cx="214.5" cy="87.0" r="1.25" fill="#19b8ec"/>
<circle cx="200.5" cy="87.9" r="1.25" fill="#19b8ec"/>
<circle cx="197.3" cy="82.9" r="1.25" fill="#19b8ec"/>
<circle cx="211.7" cy="84.7" r="1.25" fill="#19b8ec"/>
<circle cx="187.2" cy="85.4" r="1.25" fill="#19b8ec"/>
<circle cx="159.3" cy="91.3" r="1.25" fill="#19b8ec"/>
<circle cx="205.7" cy="80.8" r="1.25" fill="#19b8ec"/>
<circle cx="161.9" cy="101.9" r="1.25" fill="#19b8ec"/>
<circle cx="200.4" cy="88.6" r="1.25" fill="#19b8ec"/>
<circle cx="173.7" cy="90.7" r="1.25" fill="#19b8ec"/>
<circle cx="198.5" cy="92.6" r="1.25" fill="#19b8ec"/>
<circle cx="186.8" cy="89.3" r="1.25" fill="#19b8ec"/>
<circle cx="187.7" cy="87.0" r="1.25" fill="#19b8ec"/>
<circle cx="173.7" cy="95.5" r="1.25" fill="#19b8ec"/>
<circle cx="162.2" cy="94.3" r="1.25" fill="#19b8ec"/>
<circle cx="176.2" cy="78.0" r="1.25" fill="#19b8ec"/>
<circle cx="167.4" cy="87.2" r="1.25" fill="#19b8ec"/>
<circle cx="176.6" cy="88.8" r="1.25" fill="#19b8ec"/>
<circle cx="207.9" cy="79.8" r="1.25" fill="#19b8ec"/>
<circle cx="175.3" cy="94.1" r="1.25" fill="#19b8ec"/>
<circle cx="210.3" cy="83.7" r="1.25" fill="#19b8ec"/>
<circle cx="198.3" cy="87.4" r="1.25" fill="#19b8ec"/>
<circle cx="166.5" cy="91.0" r="1.25" fill="#19b8ec"/>
<circle cx="176.3" cy="87.5" r="1.25" fill="#19b8ec"/>
<circle cx="186.3" cy="95.4" r="1.25" fill="#19b8ec"/>
<circle cx="161.8" cy="86.3" r="1.25" fill="#19b8ec"/>
<circle cx="204.7" cy="89.3" r="1.25" fill="#19b8ec"/>
<circle cx="207.2" cy="87.0" r="1.25" fill="#19b8ec"/>
<circle cx="149.7" cy="89.3" r="1.25" fill="#19b8ec"/>
<circle cx="216.9" cy="86.8" r="1.25" fill="#19b8ec"/>
<circle cx="197.8" cy="77.0" r="1.25" fill="#19b8ec"/>
<circle cx="176.1" cy="94.2" r="1.25" fill="#19b8ec"/>
<circle cx="165.7" cy="85.7" r="1.25" fill="#19b8ec"/>
<circle cx="189.1" cy="93.8" r="1.25" fill="#19b8ec"/>
<circle cx="201.8" cy="90.5" r="1.25" fill="#19b8ec"/>
<circle cx="188.5" cy="89.5" r="1.25" fill="#19b8ec"/>
<circle cx="150.4" cy="95.2" r="1.25" fill="#19b8ec"/>
<circle cx="218.2" cy="82.7" r="1.25" fill="#19b8ec"/>
<circle cx="212.9" cy="91.3" r="1.25" fill="#19b8ec"/>
<circle cx="164.0" cy="92.1" r="1.25" fill="#19b8ec"/>
<circle cx="167.7" cy="81.1" r="1.25" fill="#19b8ec"/>
<circle cx="150.9" cy="97.4" r="1.25" fill="#19b8ec"/>
<circle cx="214.1" cy="83.5" r="1.25" fill="#19b8ec"/>
<circle cx="205.6" cy="86.1" r="1.25" fill="#19b8ec"/>
<circle cx="216.6" cy="81.8" r="1.25" fill="#19b8ec"/>
<circle cx="168.1" cy="88.9" r="1.25" fill="#19b8ec"/>
<circle cx="196.9" cy="77.7" r="1.25" fill="#19b8ec"/>
<circle cx="154.3" cy="103.0" r="1.25" fill="#19b8ec"/>
<circle cx="180.6" cy="89.2" r="1.25" fill="#19b8ec"/>
<circle cx="185.6" cy="85.2" r="1.25" fill="#19b8ec"/>
<circle cx="164.5" cy="88.4" r="1.25" fill="#19b8ec"/>
<circle cx="202.9" cy="82.2" r="1.25" fill="#19b8ec"/>
<circle cx="205.7" cy="92.1" r="1.25" fill="#19b8ec"/>
<circle cx="179.5" cy="92.0" r="1.25" fill="#19b8ec"/>
<circle cx="175.4" cy="94.1" r="1.25" fill="#19b8ec"/>
<circle cx="209.9" cy="82.9" r="1.25" fill="#19b8ec"/>
<circle cx="163.5" cy="89.2" r="1.25" fill="#19b8ec"/>
<circle cx="167.2" cy="88.8" r="1.25" fill="#19b8ec"/>
<circle cx="186.0" cy="86.3" r="1.25" fill="#19b8ec"/>
<circle cx="156.2" cy="93.3" r="1.25" fill="#19b8ec"/>
<circle cx="208.9" cy="86.0" r="1.25" fill="#19b8ec"/>
<circle cx="162.7" cy="94.2" r="1.25" fill="#19b8ec"/>
<circle cx="157.1" cy="90.0" r="1.25" fill="#19b8ec"/>
<circle cx="149.2" cy="88.7" r="1.25" fill="#19b8ec"/>
<circle cx="200.1" cy="88.4" r="1.25" fill="#19b8ec"/>
<circle cx="194.5" cy="87.9" r="1.25" fill="#19b8ec"/>
<circle cx="155.6" cy="92.6" r="1.25" fill="#19b8ec"/>
<circle cx="149.2" cy="89.6" r="1.25" fill="#19b8ec"/>
<circle cx="182.2" cy="86.6" r="1.25" fill="#19b8ec"/>
<circle cx="199.9" cy="79.7" r="1.25" fill="#19b8ec"/>
<circle cx="199.0" cy="83.6" r="1.25" fill="#19b8ec"/>
<circle cx="176.6" cy="82.8" r="1.25" fill="#19b8ec"/>
<circle cx="162.6" cy="103.6" r="1.25" fill="#19b8ec"/>
<circle cx="214.9" cy="78.6" r="1.25" fill="#19b8ec"/>
<circle cx="194.7" cy="87.9" r="1.25" fill="#19b8ec"/>
<circle cx="188.1" cy="93.8" r="1.25" fill="#19b8ec"/>
<circle cx="173.3" cy="93.1" r="1.25" fill="#19b8ec"/>
<circle cx="186.6" cy="86.4" r="1.25" fill="#19b8ec"/>
<circle cx="185.2" cy="83.9" r="1.25" fill="#19b8ec"/>
<circle cx="209.1" cy="90.5" r="1.25" fill="#19b8ec"/>
<circle cx="176.2" cy="93.3" r="1.25" fill="#19b8ec"/>
<circle cx="207.1" cy="85.5" r="1.25" fill="#19b8ec"/>
<circle cx="150.6" cy="94.1" r="1.25" fill="#19b8ec"/>
<circle cx="163.6" cy="85.3" r="1.25" fill="#19b8ec"/>
<circle cx="213.5" cy="87.8" r="1.25" fill="#19b8ec"/>
<circle cx="176.5" cy="94.4" r="1.25" fill="#19b8ec"/>
<circle cx="160.0" cy="84.0" r="1.25" fill="#19b8ec"/>
<circle cx="208.4" cy="84.4" r="1.25" fill="#19b8ec"/>
<circle cx="188.6" cy="81.8" r="1.25" fill="#19b8ec"/>
<circle cx="153.1" cy="98.5" r="1.25" fill="#19b8ec"/>
<circle cx="175.7" cy="87.9" r="1.25" fill="#19b8ec"/>
<circle cx="177.0" cy="86.6" r="1.25" fill="#19b8ec"/>
<circle cx="200.1" cy="90.8" r="1.25" fill="#19b8ec"/>
<circle cx="187.8" cy="90.7" r="1.25" fill="#19b8ec"/>
<circle cx="191.0" cy="86.6" r="1.25" fill="#19b8ec"/>
<circle cx="196.4" cy="88.1" r="1.25" fill="#19b8ec"/>
<circle cx="172.2" cy="87.6" r="1.25" fill="#19b8ec"/>
<circle cx="207.9" cy="81.7" r="1.25" fill="#19b8ec"/>
<circle cx="189.6" cy="92.4" r="1.25" fill="#19b8ec"/>
<circle cx="214.9" cy="94.2" r="1.25" fill="#19b8ec"/>
<circle cx="174.6" cy="79.3" r="1.25" fill="#19b8ec"/>
<circle cx="152.8" cy="99.5" r="1.25" fill="#19b8ec"/>
<circle cx="215.4" cy="86.0" r="1.25" fill="#19b8ec"/>
<circle cx="218.4" cy="74.9" r="1.25" fill="#19b8ec"/>
<circle cx="180.0" cy="91.6" r="1.25" fill="#19b8ec"/>
<circle cx="178.6" cy="91.0" r="1.25" fill="#19b8ec"/>
<circle cx="187.7" cy="85.5" r="1.25" fill="#19b8ec"/>
<circle cx="152.8" cy="94.4" r="1.25" fill="#19b8ec"/>
<circle cx="215.4" cy="87.5" r="1.25" fill="#19b8ec"/>
<circle cx="195.7" cy="87.2" r="1.25" fill="#19b8ec"/>
<circle cx="174.3" cy="90.6" r="1.25" fill="#19b8ec"/>
<circle cx="213.4" cy="79.1" r="1.25" fill="#19b8ec"/>
<circle cx="208.5" cy="93.0" r="1.25" fill="#19b8ec"/>
<circle cx="176.2" cy="97.0" r="1.25" fill="#19b8ec"/>
<circle cx="214.1" cy="82.6" r="1.25" fill="#19b8ec"/>
<circle cx="153.0" cy="89.6" r="1.25" fill="#19b8ec"/>
<circle cx="213.6" cy="86.8" r="1.25" fill="#19b8ec"/>
<circle cx="174.0" cy="95.1" r="1.25" fill="#19b8ec"/>
<circle cx="149.5" cy="86.2" r="1.25" fill="#19b8ec"/>
<circle cx="194.6" cy="75.8" r="1.25" fill="#19b8ec"/>
<circle cx="196.7" cy="95.4" r="1.25" fill="#19b8ec"/>
<circle cx="219.6" cy="86.1" r="1.25" fill="#19b8ec"/>
<circle cx="164.4" cy="88.9" r="1.25" fill="#19b8ec"/>
<circle cx="213.8" cy="86.9" r="1.25" fill="#19b8ec"/>
<circle cx="214.2" cy="81.8" r="1.25" fill="#19b8ec"/>
<circle cx="154.3" cy="96.5" r="1.25" fill="#19b8ec"/>
<circle cx="170.5" cy="92.4" r="1.25" fill="#19b8ec"/>
<circle cx="174.3" cy="93.8" r="1.25" fill="#19b8ec"/>
<circle cx="167.7" cy="92.4" r="1.25" fill="#19b8ec"/>
<circle cx="206.5" cy="89.6" r="1.25" fill="#19b8ec"/>
<circle cx="170.8" cy="88.9" r="1.25" fill="#19b8ec"/>
<circle cx="163.5" cy="95.0" r="1.25" fill="#19b8ec"/>
<circle cx="204.3" cy="84.6" r="1.25" fill="#19b8ec"/>
<circle cx="148.7" cy="86.9" r="1.25" fill="#19b8ec"/>
<circle cx="189.1" cy="82.0" r="1.25" fill="#19b8ec"/>
<circle cx="153.5" cy="99.0" r="1.25" fill="#19b8ec"/>
<circle cx="215.6" cy="74.0" r="1.25" fill="#19b8ec"/>
<circle cx="162.9" cy="90.1" r="1.25" fill="#19b8ec"/>
<circle cx="160.8" cy="95.0" r="1.25" fill="#19b8ec"/>
<circle cx="204.2" cy="79.5" r="1.25" fill="#19b8ec"/>
<circle cx="150.2" cy="92.2" r="1.25" fill="#19b8ec"/>
<circle cx="169.5" cy="86.3" r="1.25" fill="#19b8ec"/>
<circle cx="201.2" cy="88.1" r="1.25" fill="#19b8ec"/>
<circle cx="205.9" cy="85.1" r="1.25" fill="#19b8ec"/>
<circle cx="164.0" cy="94.6" r="1.25" fill="#19b8ec"/>
<circle cx="186.3" cy="86.3" r="1.25" fill="#19b8ec"/>
<circle cx="206.6" cy="81.5" r="1.25" fill="#19b8ec"/>
<circle cx="178.3" cy="81.7" r="1.25" fill="#19b8ec"/>
<circle cx="208.3" cy="77.9" r="1.25" fill="#19b8ec"/>
<circle cx="209.1" cy="90.7" r="1.25" fill="#19b8ec"/>
<circle cx="174.5" cy="93.8" r="1.25" fill="#19b8ec"/>
<circle cx="199.1" cy="73.2" r="1.25" fill="#19b8ec"/>
<circle cx="197.0" cy="82.8" r="1.25" fill="#19b8ec"/>
<circle cx="195.1" cy="85.6" r="1.25" fill="#19b8ec"/>
<circle cx="204.0" cy="79.3" r="1.25" fill="#19b8ec"/>
<circle cx="174.5" cy="94.1" r="1.25" fill="#19b8ec"/>
<circle cx="215.4" cy="83.3" r="1.25" fill="#19b8ec"/>
<circle cx="218.6" cy="78.9" r="1.25" fill="#19b8ec"/>
<circle cx="155.9" cy="94.4" r="1.25" fill="#19b8ec"/>
<circle cx="189.5" cy="97.8" r="1.25" fill="#19b8ec"/>
<circle cx="163.4" cy="93.4" r="1.25" fill="#19b8ec"/>
<circle cx="209.0" cy="79.9" r="1.25" fill="#19b8ec"/>
<circle cx="191.1" cy="79.6" r="1.25" fill="#19b8ec"/>
<circle cx="214.8" cy="81.7" r="1.25" fill="#19b8ec"/>
<circle cx="205.8" cy="85.6" r="1.25" fill="#19b8ec"/>
<circle cx="150.2" cy="93.5" r="1.25" fill="#19b8ec"/>
<circle cx="174.6" cy="100.2" r="1.25" fill="#19b8ec"/>
<circle cx="153.9" cy="93.1" r="1.25" fill="#19b8ec"/>
<circle cx="163.8" cy="87.3" r="1.25" fill="#19b8ec"/>
<circle cx="194.6" cy="82.7" r="1.25" fill="#19b8ec"/>
<circle cx="155.1" cy="95.3" r="1.25" fill="#19b8ec"/>
<circle cx="169.5" cy="87.6" r="1.25" fill="#19b8ec"/>
<circle cx="187.1" cy="84.4" r="1.25" fill="#19b8ec"/>
<circle cx="157.7" cy="103.1" r="1.25" fill="#19b8ec"/>
<circle cx="153.7" cy="97.8" r="1.25" fill="#19b8ec"/>
<circle cx="174.4" cy="82.2" r="1.25" fill="#19b8ec"/>
<circle cx="152.8" cy="91.7" r="1.25" fill="#19b8ec"/>
<circle cx="200.0" cy="80.5" r="1.25" fill="#19b8ec"/>
<circle cx="163.8" cy="92.6" r="1.25" fill="#19b8ec"/>
<circle cx="188.7" cy="76.6" r="1.25" fill="#19b8ec"/>
<circle cx="187.2" cy="77.6" r="1.25" fill="#19b8ec"/>
<circle cx="215.5" cy="78.4" r="1.25" fill="#19b8ec"/>
<circle cx="178.9" cy="88.7" r="1.25" fill="#19b8ec"/>
<circle cx="198.0" cy="87.5" r="1.25" fill="#19b8ec"/>
<circle cx="208.7" cy="72.5" r="1.25" fill="#19b8ec"/>
<circle cx="200.8" cy="81.7" r="1.25" fill="#19b8ec"/>
<circle cx="212.4" cy="80.7" r="1.25" fill="#19b8ec"/>
<circle cx="199.5" cy="96.2" r="1.25" fill="#19b8ec"/>
<circle cx="194.9" cy="91.8" r="1.25" fill="#19b8ec"/>
<circle cx="167.1" cy="90.2" r="1.25" fill="#19b8ec"/>
<circle cx="174.6" cy="99.5" r="1.25" fill="#19b8ec"/>
<circle cx="167.3" cy="95.4" r="1.25" fill="#19b8ec"/>
<circle cx="184.1" cy="96.0" r="1.25" fill="#19b8ec"/>
<circle cx="213.6" cy="79.1" r="1.25" fill="#19b8ec"/>
<circle cx="163.7" cy="85.0" r="1.25" fill="#19b8ec"/>
<circle cx="200.8" cy="86.1" r="1.25" fill="#19b8ec"/>
<circle cx="156.1" cy="90.5" r="1.25" fill="#19b8ec"/>
<circle cx="215.2" cy="86.0" r="1.25" fill="#19b8ec"/>
<circle cx="190.5" cy="91.5" r="1.25" fill="#19b8ec"/>
<circle cx="173.9" cy="91.9" r="1.25" fill="#19b8ec"/>
<circle cx="160.5" cy="92.7" r="1.25" fill="#19b8ec"/>
<circle cx="190.8" cy="86.9" r="1.25" fill="#19b8ec"/>
<circle cx="210.8" cy="86.7" r="1.25" fill="#19b8ec"/>
<circle cx="158.1" cy="89.5" r="1.25" fill="#19b8ec"/>
<circle cx="189.0" cy="84.2" r="1.25" fill="#19b8ec"/>
<circle cx="210.7" cy="75.7" r="1.25" fill="#19b8ec"/>
<circle cx="178.8" cy="91.5" r="1.25" fill="#19b8ec"/>
<circle cx="193.7" cy="90.6" r="1.25" fill="#19b8ec"/>
<circle cx="215.4" cy="90.0" r="1.25" fill="#19b8ec"/>
<circle cx="208.1" cy="80.7" r="1.25" fill="#19b8ec"/>
<circle cx="152.7" cy="93.8" r="1.25" fill="#19b8ec"/>
<circle cx="190.0" cy="99.9" r="1.25" fill="#19b8ec"/>
<circle cx="153.1" cy="87.9" r="1.25" fill="#19b8ec"/>
<circle cx="214.9" cy="89.4" r="1.25" fill="#19b8ec"/>
<circle cx="199.0" cy="94.4" r="1.25" fill="#19b8ec"/>
<circle cx="175.2" cy="92.0" r="1.25" fill="#19b8ec"/>
<circle cx="184.2" cy="89.3" r="1.25" fill="#19b8ec"/>
<circle cx="192.8" cy="83.6" r="1.25" fill="#19b8ec"/>
<circle cx="202.0" cy="83.4" r="1.25" fill="#19b8ec"/>
<circle cx="217.4" cy="86.1" r="1.25" fill="#19b8ec"/>
<circle cx="196.3" cy="88.3" r="1.25" fill="#19b8ec"/>
<circle cx="188.0" cy="89.0" r="1.25" fill="#19b8ec"/>
<circle cx="164.8" cy="90.5" r="1.25" fill="#19b8ec"/>
<circle cx="179.7" cy="95.0" r="1.25" fill="#19b8ec"/>
<circle cx="199.0" cy="98.1" r="1.25" fill="#19b8ec"/>
<circle cx="218.7" cy="78.2" r="1.25" fill="#19b8ec"/>
<circle cx="196.2" cy="92.1" r="1.25" fill="#19b8ec"/>
<circle cx="175.4" cy="88.7" r="1.25" fill="#19b8ec"/>
<circle cx="190.5" cy="82.9" r="1.25" fill="#19b8ec"/>
<circle cx="203.7" cy="81.8" r="1.25" fill="#19b8ec"/>
<circle cx="162.3" cy="96.6" r="1.25" fill="#19b8ec"/>
<circle cx="214.8" cy="88.3" r="1.25" fill="#19b8ec"/>
<circle cx="201.2" cy="82.6" r="1.25" fill="#19b8ec"/>
<circle cx="163.4" cy="91.3" r="1.25" fill="#19b8ec"/>
<circle cx="212.5" cy="77.7" r="1.25" fill="#19b8ec"/>
<circle cx="197.4" cy="85.4" r="1.25" fill="#19b8ec"/>
<circle cx="159.0" cy="96.8" r="1.25" fill="#19b8ec"/>
<circle cx="179.1" cy="88.7" r="1.25" fill="#19b8ec"/>
<circle cx="186.6" cy="80.8" r="1.25" fill="#19b8ec"/>
<circle cx="197.9" cy="83.6" r="1.25" fill="#19b8ec"/>
<circle cx="196.7" cy="85.8" r="1.25" fill="#19b8ec"/>
<circle cx="221.1" cy="87.3" r="1.25" fill="#19b8ec"/>
<circle cx="173.4" cy="98.2" r="1.25" fill="#19b8ec"/>
<circle cx="177.4" cy="91.8" r="1.25" fill="#19b8ec"/>
<circle cx="208.7" cy="91.5" r="1.25" fill="#19b8ec"/>
<circle cx="197.9" cy="90.9" r="1.25" fill="#19b8ec"/>
<circle cx="155.1" cy="87.3" r="1.25" fill="#19b8ec"/>
<circle cx="204.2" cy="89.1" r="1.25" fill="#19b8ec"/>
<circle cx="187.9" cy="92.7" r="1.25" fill="#19b8ec"/>
<circle cx="165.8" cy="91.5" r="1.25" fill="#19b8ec"/>
<circle cx="183.6" cy="89.5" r="1.25" fill="#19b8ec"/>
<circle cx="203.5" cy="84.8" r="1.25" fill="#19b8ec"/>
<circle cx="210.2" cy="86.1" r="1.25" fill="#19b8ec"/>
<circle cx="161.6" cy="88.2" r="1.25" fill="#19b8ec"/>
<circle cx="193.4" cy="88.3" r="1.25" fill="#19b8ec"/>
<circle cx="215.7" cy="85.2" r="1.25" fill="#19b8ec"/>
<circle cx="198.8" cy="87.8" r="1.25" fill="#19b8ec"/>
<circle cx="173.3" cy="89.6" r="1.25" fill="#19b8ec"/>
<circle cx="204.0" cy="85.6" r="1.25" fill="#19b8ec"/>
<circle cx="215.2" cy="81.6" r="1.25" fill="#19b8ec"/>
<circle cx="164.0" cy="101.2" r="1.25" fill="#19b8ec"/>
<circle cx="164.0" cy="82.8" r="1.25" fill="#19b8ec"/>
<circle cx="171.3" cy="90.1" r="1.25" fill="#19b8ec"/>
<circle cx="187.7" cy="97.1" r="1.25" fill="#19b8ec"/>
<circle cx="199.6" cy="84.2" r="1.25" fill="#19b8ec"/>
<circle cx="162.7" cy="86.1" r="1.25" fill="#19b8ec"/>
<circle cx="171.0" cy="87.8" r="1.25" fill="#19b8ec"/>
<circle cx="212.3" cy="82.2" r="1.25" fill="#19b8ec"/>
<circle cx="170.5" cy="90.7" r="1.25" fill="#19b8ec"/>
<circle cx="178.0" cy="93.1" r="1.25" fill="#19b8ec"/>
<circle cx="199.7" cy="87.5" r="1.25" fill="#19b8ec"/>
<circle cx="215.6" cy="81.5" r="1.25" fill="#19b8ec"/>
<circle cx="198.9" cy="89.4" r="1.25" fill="#19b8ec"/>
<circle cx="165.1" cy="97.7" r="1.25" fill="#19b8ec"/>
<circle cx="215.7" cy="88.5" r="1.25" fill="#19b8ec"/>
<circle cx="153.6" cy="97.2" r="1.25" fill="#19b8ec"/>
<circle cx="187.5" cy="79.2" r="1.25" fill="#19b8ec"/>
<circle cx="154.7" cy="93.4" r="1.25" fill="#19b8ec"/>
<circle cx="166.7" cy="96.7" r="1.25" fill="#19b8ec"/>
<circle cx="164.9" cy="95.5" r="1.25" fill="#19b8ec"/>
<circle cx="202.2" cy="87.1" r="1.25" fill="#19b8ec"/>
<circle cx="190.3" cy="89.7" r="1.25" fill="#19b8ec"/>
<circle cx="197.8" cy="89.2" r="1.25" fill="#19b8ec"/>
<circle cx="169.8" cy="88.7" r="1.25" fill="#19b8ec"/>
<circle cx="189.1" cy="92.0" r="1.25" fill="#19b8ec"/>
<circle cx="182.2" cy="100.2" r="1.25" fill="#19b8ec"/>
<circle cx="174.8" cy="95.6" r="1.25" fill="#19b8ec"/>
<circle cx="161.3" cy="91.0" r="1.25" fill="#19b8ec"/>
<circle cx="162.5" cy="95.4" r="1.25" fill="#19b8ec"/>
<circle cx="164.1" cy="90.9" r="1.25" fill="#19b8ec"/>
<circle cx="179.3" cy="94.8" r="1.25" fill="#19b8ec"/>
<circle cx="183.2" cy="90.5" r="1.25" fill="#19b8ec"/>
<circle cx="166.3" cy="90.7" r="1.25" fill="#19b8ec"/>
<circle cx="160.1" cy="92.0" r="1.25" fill="#19b8ec"/>
<circle cx="166.9" cy="92.2" r="1.25" fill="#19b8ec"/>
<circle cx="161.3" cy="90.2" r="1.25" fill="#19b8ec"/>
<circle cx="171.3" cy="90.2" r="1.25" fill="#19b8ec"/>
<circle cx="175.7" cy="93.4" r="1.25" fill="#19b8ec"/>
<circle cx="171.3" cy="89.0" r="1.25" fill="#19b8ec"/>
<circle cx="171.3" cy="93.1" r="1.25" fill="#19b8ec"/>
<circle cx="169.5" cy="92.6" r="1.25" fill="#19b8ec"/>
<circle cx="165.6" cy="96.0" r="1.25" fill="#19b8ec"/>
<circle cx="173.7" cy="95.5" r="1.25" fill="#19b8ec"/>
<circle cx="161.2" cy="93.1" r="1.25" fill="#19b8ec"/>
<circle cx="178.0" cy="92.3" r="1.25" fill="#19b8ec"/>
<circle cx="162.6" cy="95.4" r="1.25" fill="#19b8ec"/>
<circle cx="166.5" cy="91.1" r="1.25" fill="#19b8ec"/>
<circle cx="167.1" cy="90.2" r="1.25" fill="#19b8ec"/>
<circle cx="181.9" cy="91.0" r="1.25" fill="#19b8ec"/>
<circle cx="169.5" cy="90.5" r="1.25" fill="#19b8ec"/>
<circle cx="163.8" cy="89.1" r="1.25" fill="#19b8ec"/>
<circle cx="158.7" cy="93.3" r="1.25" fill="#19b8ec"/>
<circle cx="179.1" cy="93.4" r="1.25" fill="#19b8ec"/>
<circle cx="165.8" cy="95.4" r="1.25" fill="#19b8ec"/>
<circle cx="166.8" cy="92.3" r="1.25" fill="#19b8ec"/>
<circle cx="162.2" cy="94.9" r="1.25" fill="#19b8ec"/>
<circle cx="171.8" cy="88.6" r="1.25" fill="#19b8ec"/>
<circle cx="159.6" cy="89.3" r="1.25" fill="#19b8ec"/>
<circle cx="178.4" cy="91.4" r="1.25" fill="#19b8ec"/>
<circle cx="181.2" cy="92.1" r="1.25" fill="#19b8ec"/>
<circle cx="172.6" cy="89.9" r="1.25" fill="#19b8ec"/>
<circle cx="171.4" cy="95.7" r="1.25" fill="#19b8ec"/>
<circle cx="157.3" cy="91.8" r="1.25" fill="#19b8ec"/>
<circle cx="160.9" cy="91.8" r="1.25" fill="#19b8ec"/>
<circle cx="171.2" cy="93.0" r="1.25" fill="#19b8ec"/>
<circle cx="172.6" cy="92.0" r="1.25" fill="#19b8ec"/>
<circle cx="167.4" cy="94.4" r="1.25" fill="#19b8ec"/>
<circle cx="165.8" cy="91.6" r="1.25" fill="#19b8ec"/>
<circle cx="169.3" cy="90.5" r="1.25" fill="#19b8ec"/>
<circle cx="167.8" cy="89.5" r="1.25" fill="#19b8ec"/>
<circle cx="160.5" cy="89.4" r="1.25" fill="#19b8ec"/>
<circle cx="171.1" cy="93.5" r="1.25" fill="#19b8ec"/>
<circle cx="174.7" cy="95.8" r="1.25" fill="#19b8ec"/>
<circle cx="170.3" cy="93.9" r="1.25" fill="#19b8ec"/>
<circle cx="183.4" cy="91.9" r="1.25" fill="#19b8ec"/>
<circle cx="162.8" cy="90.4" r="1.25" fill="#19b8ec"/>
<circle cx="197.1" cy="80.7" r="1.25" fill="#19b8ec"/>
<circle cx="190.2" cy="82.3" r="1.25" fill="#19b8ec"/>
<circle cx="202.7" cy="82.8" r="1.25" fill="#19b8ec"/>
<circle cx="200.7" cy="79.3" r="1.25" fill="#19b8ec"/>
<circle cx="205.2" cy="79.0" r="1.25" fill="#19b8ec"/>
<circle cx="203.4" cy="84.9" r="1.25" fill="#19b8ec"/>
<circle cx="203.5" cy="85.1" r="1.25" fill="#19b8ec"/>
<circle cx="186.2" cy="79.3" r="1.25" fill="#19b8ec"/>
<circle cx="188.6" cy="77.6" r="1.25" fill="#19b8ec"/>
<circle cx="191.1" cy="82.9" r="1.25" fill="#19b8ec"/>
<circle cx="200.7" cy="82.0" r="1.25" fill="#19b8ec"/>
<circle cx="199.0" cy="83.2" r="1.25" fill="#19b8ec"/>
<circle cx="198.7" cy="79.2" r="1.25" fill="#19b8ec"/>
<circle cx="196.7" cy="79.8" r="1.25" fill="#19b8ec"/>
<circle cx="202.6" cy="81.5" r="1.25" fill="#19b8ec"/>
<circle cx="208.6" cy="79.8" r="1.25" fill="#19b8ec"/>
<circle cx="206.0" cy="79.4" r="1.25" fill="#19b8ec"/>
<circle cx="192.6" cy="82.6" r="1.25" fill="#19b8ec"/>
<circle cx="206.0" cy="82.6" r="1.25" fill="#19b8ec"/>
<circle cx="188.8" cy="79.6" r="1.25" fill="#19b8ec"/>
<circle cx="195.7" cy="78.1" r="1.25" fill="#19b8ec"/>
<circle cx="198.8" cy="84.3" r="1.25" fill="#19b8ec"/>
<circle cx="199.1" cy="85.5" r="1.25" fill="#19b8ec"/>
<circle cx="190.8" cy="81.7" r="1.25" fill="#19b8ec"/>
<circle cx="192.9" cy="80.8" r="1.25" fill="#19b8ec"/>
<circle cx="193.9" cy="84.1" r="1.25" fill="#19b8ec"/>
<circle cx="196.8" cy="77.6" r="1.25" fill="#19b8ec"/>
<circle cx="190.7" cy="78.1" r="1.25" fill="#19b8ec"/>
<circle cx="188.3" cy="78.9" r="1.25" fill="#19b8ec"/>
<circle cx="195.0" cy="84.9" r="1.25" fill="#19b8ec"/>
<circle cx="195.4" cy="78.4" r="1.25" fill="#19b8ec"/>
<circle cx="195.7" cy="85.7" r="1.25" fill="#19b8ec"/>
<circle cx="200.3" cy="79.4" r="1.25" fill="#19b8ec"/>
<circle cx="186.7" cy="83.1" r="1.25" fill="#19b8ec"/>
<circle cx="191.6" cy="76.6" r="1.25" fill="#19b8ec"/>
<circle cx="203.1" cy="83.8" r="1.25" fill="#19b8ec"/>
<circle cx="188.1" cy="78.3" r="1.25" fill="#19b8ec"/>
<circle cx="195.8" cy="80.9" r="1.25" fill="#19b8ec"/>
<circle cx="206.3" cy="83.4" r="1.25" fill="#19b8ec"/>
<circle cx="186.4" cy="83.3" r="1.25" fill="#19b8ec"/>
<circle cx="162.7" cy="105.7" r="1.25" fill="#19b8ec"/>
<circle cx="158.9" cy="112.3" r="1.25" fill="#19b8ec"/>
<circle cx="160.3" cy="123.0" r="1.25" fill="#19b8ec"/>
<circle cx="153.7" cy="102.0" r="1.25" fill="#19b8ec"/>
<circle cx="178.2" cy="125.2" r="1.25" fill="#19b8ec"/>
<circle cx="171.4" cy="123.5" r="1.25" fill="#19b8ec"/>
<circle cx="179.4" cy="106.0" r="1.25" fill="#19b8ec"/>
<circle cx="164.4" cy="133.0" r="1.25" fill="#19b8ec"/>
<circle cx="161.7" cy="114.4" r="1.25" fill="#19b8ec"/>
<circle cx="191.2" cy="122.0" r="1.25" fill="#19b8ec"/>
<circle cx="190.7" cy="103.4" r="1.25" fill="#19b8ec"/>
<circle cx="153.5" cy="119.7" r="1.25" fill="#19b8ec"/>
<circle cx="193.4" cy="132.4" r="1.25" fill="#19b8ec"/>
<circle cx="180.4" cy="113.6" r="1.25" fill="#19b8ec"/>
<circle cx="156.6" cy="116.6" r="1.25" fill="#19b8ec"/>
<circle cx="170.1" cy="122.1" r="1.25" fill="#19b8ec"/>
<circle cx="158.2" cy="114.0" r="1.25" fill="#19b8ec"/>
<circle cx="158.2" cy="117.5" r="1.25" fill="#19b8ec"/>
<circle cx="157.0" cy="117.1" r="1.25" fill="#19b8ec"/>
<circle cx="163.8" cy="121.0" r="1.25" fill="#19b8ec"/>
<circle cx="166.7" cy="124.1" r="1.25" fill="#19b8ec"/>
<circle cx="162.8" cy="122.9" r="1.25" fill="#19b8ec"/>
<circle cx="163.1" cy="121.8" r="1.25" fill="#19b8ec"/>
<circle cx="161.9" cy="121.6" r="1.25" fill="#19b8ec"/>
<circle cx="162.9" cy="121.1" r="1.25" fill="#19b8ec"/>
<circle cx="161.9" cy="113.0" r="1.25" fill="#19b8ec"/>
<circle cx="163.8" cy="120.2" r="1.25" fill="#19b8ec"/>
<circle cx="163.5" cy="119.1" r="1.25" fill="#19b8ec"/>
<circle cx="157.5" cy="115.1" r="1.25" fill="#19b8ec"/>
<circle cx="164.1" cy="122.7" r="1.25" fill="#19b8ec"/>
<circle cx="164.2" cy="122.0" r="1.25" fill="#19b8ec"/>
<circle cx="162.9" cy="122.5" r="1.25" fill="#19b8ec"/>
<circle cx="164.0" cy="117.5" r="1.25" fill="#19b8ec"/>
<circle cx="162.8" cy="119.4" r="1.25" fill="#19b8ec"/>
<circle cx="159.0" cy="113.2" r="1.25" fill="#19b8ec"/>
<circle cx="156.0" cy="116.5" r="1.25" fill="#19b8ec"/>
<circle cx="188.1" cy="118.0" r="1.25" fill="#19b8ec"/>
<circle cx="192.2" cy="124.2" r="1.25" fill="#19b8ec"/>
<circle cx="194.5" cy="108.4" r="1.25" fill="#19b8ec"/>
<circle cx="182.2" cy="116.9" r="1.25" fill="#19b8ec"/>
<circle cx="181.2" cy="116.1" r="1.25" fill="#19b8ec"/>
<circle cx="177.0" cy="109.1" r="1.25" fill="#19b8ec"/>
<circle cx="179.5" cy="113.8" r="1.25" fill="#19b8ec"/>
<circle cx="181.3" cy="58.7" r="1.25" fill="#19b8ec"/>
<circle cx="185.8" cy="57.5" r="1.25" fill="#19b8ec"/>
<circle cx="182.3" cy="55.7" r="1.25" fill="#19b8ec"/>
<circle cx="186.1" cy="59.0" r="1.25" fill="#19b8ec"/>
<circle cx="184.4" cy="55.1" r="1.25" fill="#19b8ec"/>
<circle cx="183.3" cy="58.3" r="1.25" fill="#19b8ec"/>
<circle cx="183.3" cy="56.4" r="1.25" fill="#19b8ec"/>
<circle cx="202.6" cy="62.1" r="1.25" fill="#19b8ec"/>
<circle cx="202.0" cy="63.7" r="1.25" fill="#19b8ec"/>
<circle cx="199.9" cy="62.8" r="1.25" fill="#19b8ec"/>
<circle cx="202.5" cy="65.9" r="1.25" fill="#19b8ec"/>
<circle cx="198.7" cy="65.1" r="1.25" fill="#19b8ec"/>
<circle cx="121.8" cy="92.5" r="1.25" fill="#19b8ec"/>
<circle cx="122.3" cy="94.6" r="1.25" fill="#19b8ec"/>
<circle cx="122.9" cy="99.1" r="1.25" fill="#19b8ec"/>
<circle cx="119.7" cy="95.1" r="1.25" fill="#19b8ec"/>
<circle cx="119.9" cy="96.9" r="1.25" fill="#19b8ec"/>
<circle cx="115.6" cy="97.6" r="1.25" fill="#19b8ec"/>
<circle cx="118.8" cy="97.7" r="1.25" fill="#19b8ec"/>
<circle cx="122.0" cy="95.4" r="1.25" fill="#19b8ec"/>
<circle cx="118.3" cy="95.2" r="1.25" fill="#19b8ec"/>
<circle cx="119.4" cy="96.9" r="1.25" fill="#19b8ec"/>
<circle cx="121.4" cy="98.0" r="1.25" fill="#19b8ec"/>
<circle cx="122.1" cy="92.6" r="1.25" fill="#19b8ec"/>
<circle cx="118.5" cy="94.5" r="1.25" fill="#19b8ec"/>
<circle cx="116.4" cy="94.7" r="1.25" fill="#19b8ec"/>
<circle cx="118.6" cy="98.4" r="1.25" fill="#19b8ec"/>
<circle cx="123.4" cy="93.9" r="1.25" fill="#19b8ec"/>
<circle cx="210.7" cy="66.2" r="1.25" fill="#f8ec0a"/>
<circle cx="215.7" cy="64.7" r="1.25" fill="#f8ec0a"/>
<circle cx="209.1" cy="66.1" r="1.25" fill="#f8ec0a"/>
<circle cx="212.7" cy="68.3" r="1.25" fill="#f8ec0a"/>
<circle cx="211.6" cy="59.0" r="1.25" fill="#f8ec0a"/>
<circle cx="213.6" cy="68.2" r="1.25" fill="#f8ec0a"/>
<circle cx="213.3" cy="59.4" r="1.25" fill="#f8ec0a"/>
<circle cx="207.2" cy="62.6" r="1.25" fill="#f8ec0a"/>
<circle cx="215.2" cy="66.7" r="1.25" fill="#f8ec0a"/>
<circle cx="209.8" cy="65.9" r="1.25" fill="#f8ec0a"/>
<circle cx="210.1" cy="62.1" r="1.25" fill="#f8ec0a"/>
<circle cx="211.9" cy="59.9" r="1.25" fill="#f8ec0a"/>
<circle cx="207.7" cy="61.3" r="1.25" fill="#f8ec0a"/>
<circle cx="210.3" cy="62.0" r="1.25" fill="#f8ec0a"/>
<circle cx="208.9" cy="67.0" r="1.25" fill="#f8ec0a"/>
<circle cx="207.7" cy="63.5" r="1.25" fill="#f8ec0a"/>
<circle cx="211.4" cy="63.5" r="1.25" fill="#f8ec0a"/>
<circle cx="207.1" cy="63.6" r="1.25" fill="#f8ec0a"/>
<circle cx="213.4" cy="66.4" r="1.25" fill="#f8ec0a"/>
<circle cx="212.5" cy="62.9" r="1.25" fill="#f8ec0a"/>
<circle cx="215.4" cy="62.2" r="1.25" fill="#f8ec0a"/>
<circle cx="215.1" cy="64.8" r="1.25" fill="#f8ec0a"/>
<circle cx="207.9" cy="64.8" r="1.25" fill="#f8ec0a"/>
<circle cx="213.8" cy="59.5" r="1.25" fill="#f8ec0a"/>
<circle cx="212.9" cy="62.5" r="1.25" fill="#f8ec0a"/>
<circle cx="215.1" cy="63.6" r="1.25" fill="#f8ec0a"/>
<circle cx="214.3" cy="60.7" r="1.25" fill="#f8ec0a"/>
<circle cx="206.9" cy="66.5" r="1.25" fill="#f8ec0a"/>
<circle cx="210.4" cy="67.2" r="1.25" fill="#f8ec0a"/>
<circle cx="211.7" cy="60.6" r="1.25" fill="#f8ec0a"/>
<circle cx="210.1" cy="60.3" r="1.25" fill="#f8ec0a"/>
<circle cx="214.2" cy="61.8" r="1.25" fill="#f8ec0a"/>
<circle cx="208.9" cy="61.2" r="1.25" fill="#f8ec0a"/>
<circle cx="210.1" cy="59.5" r="1.25" fill="#f8ec0a"/>
<circle cx="209.3" cy="66.5" r="1.25" fill="#f8ec0a"/>
<circle cx="212.2" cy="64.8" r="1.25" fill="#f8ec0a"/>
<circle cx="209.6" cy="64.3" r="1.25" fill="#f8ec0a"/>
<circle cx="207.5" cy="64.1" r="1.25" fill="#f8ec0a"/>
<circle cx="223.3" cy="72.8" r="1.25" fill="#f8ec0a"/>
<circle cx="231.7" cy="79.9" r="1.25" fill="#f8ec0a"/>
<circle cx="228.0" cy="78.7" r="1.25" fill="#f8ec0a"/>
<circle cx="224.9" cy="71.1" r="1.25" fill="#f8ec0a"/>
<circle cx="233.7" cy="78.7" r="1.25" fill="#f8ec0a"/>
<circle cx="221.9" cy="67.7" r="1.25" fill="#f8ec0a"/>
<circle cx="223.3" cy="69.1" r="1.25" fill="#f8ec0a"/>
<circle cx="220.2" cy="66.4" r="1.25" fill="#f8ec0a"/>
<circle cx="220.1" cy="67.8" r="1.25" fill="#f8ec0a"/>
<circle cx="230.3" cy="76.5" r="1.25" fill="#f8ec0a"/>
<circle cx="215.9" cy="66.0" r="1.25" fill="#f8ec0a"/>
<circle cx="232.9" cy="80.8" r="1.25" fill="#f8ec0a"/>
<circle cx="229.5" cy="78.0" r="1.25" fill="#f8ec0a"/>
<circle cx="231.5" cy="77.3" r="1.25" fill="#f8ec0a"/>
<circle cx="218.4" cy="91.7" r="1.25" fill="#f8ec0a"/>
<circle cx="233.0" cy="93.0" r="1.25" fill="#f8ec0a"/>
<circle cx="222.4" cy="90.7" r="1.25" fill="#f8ec0a"/>
<circle cx="229.7" cy="89.7" r="1.25" fill="#f8ec0a"/>
<circle cx="229.4" cy="88.0" r="1.25" fill="#f8ec0a"/>
<circle cx="225.0" cy="95.2" r="1.25" fill="#f8ec0a"/>
<circle cx="226.2" cy="89.6" r="1.25" fill="#f8ec0a"/>
<circle cx="223.2" cy="89.4" r="1.25" fill="#f8ec0a"/>
<circle cx="226.2" cy="88.7" r="1.25" fill="#f8ec0a"/>
<circle cx="225.2" cy="93.8" r="1.25" fill="#f8ec0a"/>
<circle cx="227.9" cy="88.6" r="1.25" fill="#f8ec0a"/>
<circle cx="226.0" cy="90.1" r="1.25" fill="#f8ec0a"/>
<circle cx="225.7" cy="92.5" r="1.25" fill="#f8ec0a"/>
<circle cx="229.3" cy="87.7" r="1.25" fill="#f8ec0a"/>
<circle cx="219.0" cy="93.1" r="1.25" fill="#f8ec0a"/>
<circle cx="230.3" cy="90.8" r="1.25" fill="#f8ec0a"/>
<circle cx="222.4" cy="91.7" r="1.25" fill="#f8ec0a"/>
<circle cx="225.8" cy="94.0" r="1.25" fill="#f8ec0a"/>
<circle cx="220.3" cy="90.0" r="1.25" fill="#f8ec0a"/>
<circle cx="229.6" cy="93.6" r="1.25" fill="#f8ec0a"/>
<circle cx="236.2" cy="94.0" r="1.25" fill="#f8ec0a"/>
<circle cx="223.4" cy="88.0" r="1.25" fill="#f8ec0a"/>
<circle cx="230.5" cy="88.6" r="1.25" fill="#f8ec0a"/>
<circle cx="228.4" cy="93.3" r="1.25" fill="#f8ec0a"/>
<circle cx="232.4" cy="91.2" r="1.25" fill="#f8ec0a"/>
<circle cx="235.7" cy="94.3" r="1.25" fill="#f8ec0a"/>
<circle cx="220.3" cy="91.7" r="1.25" fill="#f8ec0a"/>
<circle cx="225.6" cy="91.6" r="1.25" fill="#f8ec0a"/>
<circle cx="231.5" cy="93.4" r="1.25" fill="#f8ec0a"/>
<circle cx="229.1" cy="93.9" r="1.25" fill="#f8ec0a"/>
<circle cx="226.1" cy="97.5" r="1.25" fill="#f8ec0a"/>
<circle cx="218.6" cy="103.5" r="1.25" fill="#f8ec0a"/>
<circle cx="217.3" cy="101.4" r="1.25" fill="#f8ec0a"/>
<circle cx="218.9" cy="104.8" r="1.25" fill="#f8ec0a"/>
<circle cx="225.7" cy="108.5" r="1.25" fill="#f8ec0a"/>
<circle cx="216.1" cy="101.8" r="1.25" fill="#f8ec0a"/>
<circle cx="210.6" cy="109.6" r="1.25" fill="#f8ec0a"/>
<circle cx="203.5" cy="100.8" r="1.25" fill="#f8ec0a"/>
<circle cx="226.2" cy="102.4" r="1.25" fill="#f8ec0a"/>
<circle cx="207.8" cy="93.0" r="1.25" fill="#f8ec0a"/>
<circle cx="225.2" cy="104.8" r="1.25" fill="#f8ec0a"/>
<circle cx="220.7" cy="100.8" r="1.25" fill="#f8ec0a"/>
<circle cx="219.4" cy="95.7" r="1.25" fill="#f8ec0a"/>
<circle cx="222.7" cy="98.9" r="1.25" fill="#f8ec0a"/>
<circle cx="219.3" cy="97.9" r="1.25" fill="#f8ec0a"/>
<circle cx="216.3" cy="106.3" r="1.25" fill="#f8ec0a"/>
<circle cx="214.3" cy="99.4" r="1.25" fill="#f8ec0a"/>
<circle cx="217.5" cy="105.2" r="1.25" fill="#f8ec0a"/>
<circle cx="213.8" cy="102.1" r="1.25" fill="#f8ec0a"/>
<circle cx="225.0" cy="107.3" r="1.25" fill="#f8ec0a"/>
<circle cx="227.0" cy="105.9" r="1.25" fill="#f8ec0a"/>
<circle cx="216.0" cy="97.8" r="1.25" fill="#f8ec0a"/>
<circle cx="210.8" cy="97.1" r="1.25" fill="#f8ec0a"/>
<circle cx="214.9" cy="101.5" r="1.25" fill="#f8ec0a"/>
<circle cx="210.5" cy="106.9" r="1.25" fill="#f8ec0a"/>
<circle cx="210.6" cy="100.7" r="1.25" fill="#f8ec0a"/>
<circle cx="224.2" cy="104.8" r="1.25" fill="#f8ec0a"/>
<circle cx="215.8" cy="97.2" r="1.25" fill="#f8ec0a"/>
<circle cx="208.7" cy="98.6" r="1.25" fill="#f8ec0a"/>
<circle cx="225.8" cy="100.6" r="1.25" fill="#f8ec0a"/>
<circle cx="221.7" cy="99.8" r="1.25" fill="#f8ec0a"/>
<circle cx="219.9" cy="103.0" r="1.25" fill="#f8ec0a"/>
<circle cx="219.2" cy="104.5" r="1.25" fill="#f8ec0a"/>
<circle cx="217.4" cy="100.5" r="1.25" fill="#f8ec0a"/>
<circle cx="227.1" cy="104.6" r="1.25" fill="#f8ec0a"/>
<circle cx="221.5" cy="100.9" r="1.25" fill="#f8ec0a"/>
<circle cx="201.5" cy="94.7" r="1.25" fill="#f8ec0a"/>
<circle cx="229.5" cy="102.6" r="1.25" fill="#f8ec0a"/>
<circle cx="203.0" cy="100.3" r="1.25" fill="#f8ec0a"/>
<circle cx="212.5" cy="94.5" r="1.25" fill="#f8ec0a"/>
<circle cx="213.5" cy="102.2" r="1.25" fill="#f8ec0a"/>
<circle cx="216.8" cy="105.1" r="1.25" fill="#f8ec0a"/>
<circle cx="201.2" cy="97.5" r="1.25" fill="#f8ec0a"/>
<circle cx="215.3" cy="104.8" r="1.25" fill="#f8ec0a"/>
<circle cx="211.3" cy="96.8" r="1.25" fill="#f8ec0a"/>
<circle cx="228.7" cy="104.8" r="1.25" fill="#f8ec0a"/>
<circle cx="216.1" cy="104.1" r="1.25" fill="#f8ec0a"/>
<circle cx="212.1" cy="102.5" r="1.25" fill="#f8ec0a"/>
<circle cx="204.9" cy="102.6" r="1.25" fill="#f8ec0a"/>
<circle cx="228.4" cy="106.9" r="1.25" fill="#f8ec0a"/>
<circle cx="209.0" cy="105.4" r="1.25" fill="#f8ec0a"/>
<circle cx="211.7" cy="94.9" r="1.25" fill="#f8ec0a"/>
<circle cx="211.8" cy="91.7" r="1.25" fill="#f8ec0a"/>
<circle cx="226.0" cy="101.6" r="1.25" fill="#f8ec0a"/>
<circle cx="222.2" cy="99.2" r="1.25" fill="#f8ec0a"/>
<circle cx="204.8" cy="105.4" r="1.25" fill="#f8ec0a"/>
<circle cx="222.4" cy="105.7" r="1.25" fill="#f8ec0a"/>
<circle cx="211.0" cy="95.7" r="1.25" fill="#f8ec0a"/>
<circle cx="201.1" cy="97.1" r="1.25" fill="#f8ec0a"/>
<circle cx="222.9" cy="107.6" r="1.25" fill="#f8ec0a"/>
<circle cx="235.9" cy="127.5" r="1.25" fill="#f8ec0a"/>
<circle cx="231.1" cy="107.2" r="1.25" fill="#f8ec0a"/>
<circle cx="226.6" cy="127.0" r="1.25" fill="#f8ec0a"/>
<circle cx="230.2" cy="107.1" r="1.25" fill="#f8ec0a"/>
<circle cx="229.6" cy="119.0" r="1.25" fill="#f8ec0a"/>
<circle cx="235.6" cy="121.5" r="1.25" fill="#f8ec0a"/>
<circle cx="237.0" cy="122.0" r="1.25" fill="#f8ec0a"/>
<circle cx="229.4" cy="106.1" r="1.25" fill="#f8ec0a"/>
<circle cx="228.6" cy="123.8" r="1.25" fill="#f8ec0a"/>
<circle cx="236.0" cy="119.4" r="1.25" fill="#f8ec0a"/>
<circle cx="226.1" cy="110.3" r="1.25" fill="#f8ec0a"/>
<circle cx="231.4" cy="118.5" r="1.25" fill="#f8ec0a"/>
<circle cx="229.3" cy="129.3" r="1.25" fill="#f8ec0a"/>
<circle cx="232.2" cy="116.6" r="1.25" fill="#f8ec0a"/>
<circle cx="232.1" cy="122.6" r="1.25" fill="#f8ec0a"/>
<circle cx="231.1" cy="106.9" r="1.25" fill="#f8ec0a"/>
<circle cx="229.7" cy="116.6" r="1.25" fill="#f8ec0a"/>
<circle cx="235.9" cy="119.8" r="1.25" fill="#f8ec0a"/>
<circle cx="232.3" cy="119.7" r="1.25" fill="#f8ec0a"/>
<circle cx="231.7" cy="114.4" r="1.25" fill="#f8ec0a"/>
<circle cx="228.8" cy="111.7" r="1.25" fill="#f8ec0a"/>
<circle cx="225.3" cy="129.9" r="1.25" fill="#f8ec0a"/>
<circle cx="230.5" cy="124.9" r="1.25" fill="#f8ec0a"/>
<circle cx="226.5" cy="105.3" r="1.25" fill="#f8ec0a"/>
<circle cx="231.5" cy="109.3" r="1.25" fill="#f8ec0a"/>
<circle cx="234.5" cy="118.5" r="1.25" fill="#f8ec0a"/>
<circle cx="229.6" cy="107.8" r="1.25" fill="#f8ec0a"/>
<circle cx="236.2" cy="120.6" r="1.25" fill="#f8ec0a"/>
<circle cx="226.2" cy="128.0" r="1.25" fill="#f8ec0a"/>
<circle cx="237.4" cy="121.7" r="1.25" fill="#f8ec0a"/>
<circle cx="230.5" cy="121.3" r="1.25" fill="#f8ec0a"/>
<circle cx="229.1" cy="129.5" r="1.25" fill="#f8ec0a"/>
<circle cx="233.0" cy="121.6" r="1.25" fill="#f8ec0a"/>
<circle cx="233.6" cy="118.5" r="1.25" fill="#f8ec0a"/>
<circle cx="228.6" cy="125.0" r="1.25" fill="#f8ec0a"/>
<circle cx="229.4" cy="127.5" r="1.25" fill="#f8ec0a"/>
<circle cx="230.6" cy="118.2" r="1.25" fill="#f8ec0a"/>
<circle cx="235.3" cy="122.9" r="1.25" fill="#f8ec0a"/>
<circle cx="233.8" cy="115.5" r="1.25" fill="#f8ec0a"/>
<circle cx="229.5" cy="113.3" r="1.25" fill="#f8ec0a"/>
<circle cx="230.3" cy="109.4" r="1.25" fill="#f8ec0a"/>
<circle cx="235.2" cy="107.0" r="1.25" fill="#f8ec0a"/>
<circle cx="227.8" cy="128.0" r="1.25" fill="#f8ec0a"/>
<circle cx="231.7" cy="127.0" r="1.25" fill="#f8ec0a"/>
<circle cx="231.2" cy="128.7" r="1.25" fill="#f8ec0a"/>
<circle cx="232.5" cy="108.6" r="1.25" fill="#f8ec0a"/>
<circle cx="231.3" cy="123.4" r="1.25" fill="#f8ec0a"/>
<circle cx="229.5" cy="130.9" r="1.25" fill="#f8ec0a"/>
<circle cx="230.8" cy="124.7" r="1.25" fill="#f8ec0a"/>
<circle cx="229.9" cy="121.9" r="1.25" fill="#f8ec0a"/>
<circle cx="214.2" cy="143.2" r="1.25" fill="#f8ec0a"/>
<circle cx="222.5" cy="128.9" r="1.25" fill="#f8ec0a"/>
<circle cx="225.3" cy="128.9" r="1.25" fill="#f8ec0a"/>
<circle cx="228.3" cy="127.0" r="1.25" fill="#f8ec0a"/>
<circle cx="226.3" cy="137.2" r="1.25" fill="#f8ec0a"/>
<circle cx="215.6" cy="141.6" r="1.25" fill="#f8ec0a"/>
<circle cx="209.6" cy="146.8" r="1.25" fill="#f8ec0a"/>
<circle cx="230.6" cy="130.3" r="1.25" fill="#f8ec0a"/>
<circle cx="200.5" cy="150.4" r="1.25" fill="#f8ec0a"/>
<circle cx="230.3" cy="133.7" r="1.25" fill="#f8ec0a"/>
<circle cx="193.5" cy="158.9" r="1.25" fill="#f8ec0a"/>
<circle cx="222.7" cy="132.7" r="1.25" fill="#f8ec0a"/>
<circle cx="228.7" cy="128.3" r="1.25" fill="#f8ec0a"/>
<circle cx="205.2" cy="141.8" r="1.25" fill="#f8ec0a"/>
<circle cx="205.0" cy="149.1" r="1.25" fill="#f8ec0a"/>
<circle cx="195.8" cy="148.0" r="1.25" fill="#f8ec0a"/>
<circle cx="199.2" cy="154.0" r="1.25" fill="#f8ec0a"/>
<circle cx="205.3" cy="147.6" r="1.25" fill="#f8ec0a"/>
<circle cx="203.0" cy="155.8" r="1.25" fill="#f8ec0a"/>
<circle cx="192.1" cy="155.1" r="1.25" fill="#f8ec0a"/>
<circle cx="200.7" cy="147.5" r="1.25" fill="#f8ec0a"/>
<circle cx="212.7" cy="140.3" r="1.25" fill="#f8ec0a"/>
<circle cx="194.6" cy="158.5" r="1.25" fill="#f8ec0a"/>
<circle cx="225.9" cy="132.7" r="1.25" fill="#f8ec0a"/>
<circle cx="222.9" cy="136.3" r="1.25" fill="#f8ec0a"/>
<circle cx="192.8" cy="149.8" r="1.25" fill="#f8ec0a"/>
<circle cx="206.7" cy="149.0" r="1.25" fill="#f8ec0a"/>
<circle cx="202.5" cy="145.1" r="1.25" fill="#f8ec0a"/>
<circle cx="225.1" cy="137.9" r="1.25" fill="#f8ec0a"/>
<circle cx="203.9" cy="145.2" r="1.25" fill="#f8ec0a"/>
<circle cx="205.8" cy="147.6" r="1.25" fill="#f8ec0a"/>
<circle cx="198.7" cy="144.7" r="1.25" fill="#f8ec0a"/>
<circle cx="214.2" cy="144.5" r="1.25" fill="#f8ec0a"/>
<circle cx="211.7" cy="147.3" r="1.25" fill="#f8ec0a"/>
<circle cx="222.4" cy="130.7" r="1.25" fill="#f8ec0a"/>
<circle cx="210.8" cy="145.2" r="1.25" fill="#f8ec0a"/>
<circle cx="192.4" cy="157.5" r="1.25" fill="#f8ec0a"/>
<circle cx="222.7" cy="132.2" r="1.25" fill="#f8ec0a"/>
<circle cx="226.8" cy="133.3" r="1.25" fill="#f8ec0a"/>
<circle cx="211.9" cy="141.5" r="1.25" fill="#f8ec0a"/>
<circle cx="188.1" cy="152.0" r="1.25" fill="#f8ec0a"/>
<circle cx="200.8" cy="142.9" r="1.25" fill="#f8ec0a"/>
<circle cx="193.1" cy="150.9" r="1.25" fill="#f8ec0a"/>
<circle cx="219.2" cy="128.0" r="1.25" fill="#f8ec0a"/>
<circle cx="200.8" cy="149.3" r="1.25" fill="#f8ec0a"/>
<circle cx="197.5" cy="150.3" r="1.25" fill="#f8ec0a"/>
<circle cx="202.0" cy="144.7" r="1.25" fill="#f8ec0a"/>
<circle cx="197.4" cy="155.4" r="1.25" fill="#f8ec0a"/>
<circle cx="197.5" cy="153.0" r="1.25" fill="#f8ec0a"/>
<circle cx="230.2" cy="131.1" r="1.25" fill="#f8ec0a"/>
<circle cx="231.6" cy="129.9" r="1.25" fill="#f8ec0a"/>
<circle cx="229.7" cy="133.9" r="1.25" fill="#f8ec0a"/>
<circle cx="205.7" cy="147.4" r="1.25" fill="#f8ec0a"/>
<circle cx="217.2" cy="138.8" r="1.25" fill="#f8ec0a"/>
<circle cx="207.1" cy="149.6" r="1.25" fill="#f8ec0a"/>
<circle cx="218.9" cy="143.2" r="1.25" fill="#f8ec0a"/>
<circle cx="213.6" cy="148.2" r="1.25" fill="#f8ec0a"/>
<circle cx="200.7" cy="150.5" r="1.25" fill="#f8ec0a"/>
<circle cx="217.1" cy="137.9" r="1.25" fill="#f8ec0a"/>
<circle cx="209.3" cy="145.0" r="1.25" fill="#f8ec0a"/>
<circle cx="209.9" cy="140.8" r="1.25" fill="#f8ec0a"/>
<circle cx="195.7" cy="151.4" r="1.25" fill="#f8ec0a"/>
<circle cx="223.1" cy="136.0" r="1.25" fill="#f8ec0a"/>
<circle cx="191.6" cy="155.5" r="1.25" fill="#f8ec0a"/>
<circle cx="218.0" cy="141.2" r="1.25" fill="#f8ec0a"/>
<circle cx="213.3" cy="145.8" r="1.25" fill="#f8ec0a"/>
<circle cx="194.9" cy="155.3" r="1.25" fill="#f8ec0a"/>
<circle cx="188.0" cy="149.2" r="1.25" fill="#f8ec0a"/>
<circle cx="188.2" cy="152.4" r="1.25" fill="#f8ec0a"/>
<circle cx="223.2" cy="132.7" r="1.25" fill="#f8ec0a"/>
<circle cx="220.3" cy="137.3" r="1.25" fill="#f8ec0a"/>
<circle cx="216.6" cy="133.7" r="1.25" fill="#f8ec0a"/>
<circle cx="215.0" cy="148.4" r="1.25" fill="#f8ec0a"/>
<circle cx="224.8" cy="129.2" r="1.25" fill="#f8ec0a"/>
<circle cx="220.0" cy="128.4" r="1.25" fill="#f8ec0a"/>
<circle cx="198.6" cy="152.5" r="1.25" fill="#f8ec0a"/>
<circle cx="200.1" cy="143.1" r="1.25" fill="#f8ec0a"/>
<circle cx="207.0" cy="149.6" r="1.25" fill="#f8ec0a"/>
<circle cx="224.0" cy="133.1" r="1.25" fill="#f8ec0a"/>
<circle cx="216.4" cy="144.1" r="1.25" fill="#f8ec0a"/>
<circle cx="202.4" cy="150.1" r="1.25" fill="#f8ec0a"/>
<circle cx="198.0" cy="151.2" r="1.25" fill="#f8ec0a"/>
<circle cx="222.8" cy="132.6" r="1.25" fill="#f8ec0a"/>
<circle cx="208.5" cy="143.9" r="1.25" fill="#f8ec0a"/>
<circle cx="207.3" cy="145.8" r="1.25" fill="#f8ec0a"/>
<circle cx="210.1" cy="143.6" r="1.25" fill="#f8ec0a"/>
<circle cx="206.4" cy="154.1" r="1.25" fill="#f8ec0a"/>
<circle cx="205.0" cy="147.2" r="1.25" fill="#f8ec0a"/>
<circle cx="223.8" cy="136.9" r="1.25" fill="#f8ec0a"/>
<circle cx="227.6" cy="126.1" r="1.25" fill="#f8ec0a"/>
<circle cx="211.2" cy="135.5" r="1.25" fill="#f8ec0a"/>
<circle cx="219.4" cy="136.4" r="1.25" fill="#f8ec0a"/>
<circle cx="224.0" cy="136.2" r="1.25" fill="#f8ec0a"/>
<circle cx="228.8" cy="132.9" r="1.25" fill="#f8ec0a"/>
<circle cx="202.2" cy="147.7" r="1.25" fill="#f8ec0a"/>
<circle cx="196.6" cy="157.6" r="1.25" fill="#f8ec0a"/>
<circle cx="219.6" cy="139.6" r="1.25" fill="#f8ec0a"/>
<circle cx="219.3" cy="137.8" r="1.25" fill="#f8ec0a"/>
<circle cx="193.9" cy="153.0" r="1.25" fill="#f8ec0a"/>
<circle cx="201.0" cy="141.2" r="1.25" fill="#f8ec0a"/>
<circle cx="211.4" cy="116.6" r="1.25" fill="#f8ec0a"/>
<circle cx="210.9" cy="125.6" r="1.25" fill="#f8ec0a"/>
<circle cx="214.3" cy="120.0" r="1.25" fill="#f8ec0a"/>
<circle cx="205.5" cy="121.1" r="1.25" fill="#f8ec0a"/>
<circle cx="211.3" cy="119.6" r="1.25" fill="#f8ec0a"/>
<circle cx="208.6" cy="116.4" r="1.25" fill="#f8ec0a"/>
<circle cx="211.3" cy="127.9" r="1.25" fill="#f8ec0a"/>
<circle cx="205.5" cy="120.9" r="1.25" fill="#f8ec0a"/>
<circle cx="217.6" cy="131.9" r="1.25" fill="#f8ec0a"/>
<circle cx="216.6" cy="113.6" r="1.25" fill="#f8ec0a"/>
<circle cx="212.8" cy="114.3" r="1.25" fill="#f8ec0a"/>
<circle cx="219.5" cy="122.5" r="1.25" fill="#f8ec0a"/>
<circle cx="237.0" cy="111.8" r="1.25" fill="#f8ec0a"/>
<circle cx="237.9" cy="123.1" r="1.25" fill="#f8ec0a"/>
<circle cx="238.9" cy="113.3" r="1.25" fill="#f8ec0a"/>
<circle cx="239.4" cy="113.5" r="1.25" fill="#f8ec0a"/>
<circle cx="237.3" cy="121.6" r="1.25" fill="#f8ec0a"/>
<circle cx="240.6" cy="116.8" r="1.25" fill="#f8ec0a"/>
<circle cx="239.5" cy="118.7" r="1.25" fill="#f8ec0a"/>
<circle cx="237.5" cy="117.8" r="1.25" fill="#f8ec0a"/>
<circle cx="78.6" cy="94.5" r="1.25" fill="#0d8a1c"/>
<circle cx="77.5" cy="101.6" r="1.25" fill="#0d8a1c"/>
<circle cx="73.9" cy="93.9" r="1.25" fill="#0d8a1c"/>
<circle cx="79.1" cy="91.7" r="1.25" fill="#0d8a1c"/>
<circle cx="83.9" cy="100.0" r="1.25" fill="#0d8a1c"/>
<circle cx="80.1" cy="103.9" r="1.25" fill="#0d8a1c"/>
<circle cx="72.2" cy="94.3" r="1.25" fill="#0d8a1c"/>
<circle cx="80.7" cy="94.8" r="1.25" fill="#0d8a1c"/>
<circle cx="73.1" cy="93.5" r="1.25" fill="#0d8a1c"/>
<circle cx="78.2" cy="103.7" r="1.25" fill="#0d8a1c"/>
<circle cx="73.3" cy="96.1" r="1.25" fill="#0d8a1c"/>
<circle cx="81.2" cy="89.5" r="1.25" fill="#0d8a1c"/>
<circle cx="79.7" cy="99.8" r="1.25" fill="#0d8a1c"/>
<circle cx="82.5" cy="92.8" r="1.25" fill="#0d8a1c"/>
<circle cx="82.9" cy="97.9" r="1.25" fill="#0d8a1c"/>
<circle cx="72.5" cy="102.0" r="1.25" fill="#0d8a1c"/>
<circle cx="82.9" cy="97.8" r="1.25" fill="#0d8a1c"/>
<circle cx="72.3" cy="95.1" r="1.25" fill="#0d8a1c"/>
<circle cx="72.9" cy="95.6" r="1.25" fill="#0d8a1c"/>
<circle cx="79.7" cy="99.5" r="1.25" fill="#0d8a1c"/>
<circle cx="76.7" cy="102.5" r="1.25" fill="#0d8a1c"/>
<circle cx="76.5" cy="102.5" r="1.25" fill="#0d8a1c"/>
<circle cx="83.6" cy="99.9" r="1.25" fill="#0d8a1c"/>
<circle cx="75.8" cy="99.1" r="1.25" fill="#0d8a1c"/>
<circle cx="82.6" cy="92.9" r="1.25" fill="#0d8a1c"/>
<circle cx="78.6" cy="98.1" r="1.25" fill="#0d8a1c"/>
<circle cx="78.3" cy="103.6" r="1.25" fill="#0d8a1c"/>
<circle cx="76.0" cy="102.9" r="1.25" fill="#0d8a1c"/>
<circle cx="78.2" cy="89.5" r="1.25" fill="#0d8a1c"/>
<circle cx="82.6" cy="91.5" r="1.25" fill="#0d8a1c"/>
<circle cx="80.0" cy="90.6" r="1.25" fill="#0d8a1c"/>
<circle cx="82.7" cy="91.4" r="1.25" fill="#0d8a1c"/>
<circle cx="75.2" cy="92.2" r="1.25" fill="#0d8a1c"/>
<circle cx="75.2" cy="102.4" r="1.25" fill="#0d8a1c"/>
<circle cx="82.9" cy="96.3" r="1.25" fill="#0d8a1c"/>
<circle cx="77.5" cy="97.2" r="1.25" fill="#0d8a1c"/>
<circle cx="81.9" cy="103.1" r="1.25" fill="#0d8a1c"/>
<circle cx="82.9" cy="92.7" r="1.25" fill="#0d8a1c"/>
<circle cx="78.5" cy="99.5" r="1.25" fill="#0d8a1c"/>
<circle cx="79.6" cy="89.3" r="1.25" fill="#0d8a1c"/>
<circle cx="79.1" cy="99.4" r="1.25" fill="#0d8a1c"/>
<circle cx="77.7" cy="102.7" r="1.25" fill="#0d8a1c"/>
<circle cx="76.9" cy="104.1" r="1.25" fill="#0d8a1c"/>
<circle cx="73.9" cy="95.1" r="1.25" fill="#0d8a1c"/>
<circle cx="78.3" cy="105.5" r="1.25" fill="#0d8a1c"/>
<circle cx="82.8" cy="102.0" r="1.25" fill="#0d8a1c"/>
<circle cx="75.7" cy="96.5" r="1.25" fill="#0d8a1c"/>
<circle cx="82.3" cy="100.2" r="1.25" fill="#0d8a1c"/>
<circle cx="76.3" cy="92.9" r="1.25" fill="#0d8a1c"/>
<circle cx="77.1" cy="105.4" r="1.25" fill="#0d8a1c"/>
<circle cx="82.6" cy="100.5" r="1.25" fill="#0d8a1c"/>
<circle cx="81.6" cy="104.2" r="1.25" fill="#0d8a1c"/>
<circle cx="80.1" cy="101.3" r="1.25" fill="#0d8a1c"/>
<circle cx="79.4" cy="99.5" r="1.25" fill="#0d8a1c"/>
<circle cx="73.1" cy="91.6" r="1.25" fill="#0d8a1c"/>
<circle cx="74.6" cy="94.0" r="1.25" fill="#0d8a1c"/>
<circle cx="76.1" cy="96.2" r="1.25" fill="#0d8a1c"/>
<circle cx="73.2" cy="98.6" r="1.25" fill="#0d8a1c"/>
<circle cx="75.4" cy="104.4" r="1.25" fill="#0d8a1c"/>
<circle cx="82.7" cy="102.5" r="1.25" fill="#0d8a1c"/>
<circle cx="80.2" cy="96.3" r="1.25" fill="#0d8a1c"/>
<circle cx="82.7" cy="93.0" r="1.25" fill="#0d8a1c"/>
<circle cx="76.4" cy="96.0" r="1.25" fill="#0d8a1c"/>
<circle cx="83.2" cy="95.4" r="1.25" fill="#0d8a1c"/>
<circle cx="82.6" cy="102.1" r="1.25" fill="#0d8a1c"/>
<circle cx="95.9" cy="130.1" r="1.25" fill="#b5f02a"/>
<circle cx="105.8" cy="131.7" r="1.25" fill="#b5f02a"/>
<circle cx="97.2" cy="127.8" r="1.25" fill="#b5f02a"/>
<circle cx="107.1" cy="132.4" r="1.25" fill="#b5f02a"/>
<circle cx="108.1" cy="134.9" r="1.25" fill="#b5f02a"/>
<circle cx="117.8" cy="136.7" r="1.25" fill="#b5f02a"/>
<circle cx="111.2" cy="140.1" r="1.25" fill="#b5f02a"/>
<circle cx="90.3" cy="113.2" r="1.25" fill="#b5f02a"/>
<circle cx="85.2" cy="117.8" r="1.25" fill="#b5f02a"/>
<circle cx="93.3" cy="121.8" r="1.25" fill="#b5f02a"/>
<circle cx="103.6" cy="135.8" r="1.25" fill="#b5f02a"/>
<circle cx="94.5" cy="122.2" r="1.25" fill="#b5f02a"/>
<circle cx="99.8" cy="131.8" r="1.25" fill="#b5f02a"/>
<circle cx="97.4" cy="120.1" r="1.25" fill="#b5f02a"/>
<circle cx="123.0" cy="136.1" r="1.25" fill="#b5f02a"/>
<circle cx="113.1" cy="139.1" r="1.25" fill="#b5f02a"/>
<circle cx="88.3" cy="109.4" r="1.25" fill="#b5f02a"/>
<circle cx="92.8" cy="108.5" r="1.25" fill="#b5f02a"/>
<circle cx="115.2" cy="131.2" r="1.25" fill="#b5f02a"/>
<circle cx="122.4" cy="145.2" r="1.25" fill="#b5f02a"/>
<circle cx="106.6" cy="134.3" r="1.25" fill="#b5f02a"/>
<circle cx="117.2" cy="133.9" r="1.25" fill="#b5f02a"/>
<circle cx="103.3" cy="129.6" r="1.25" fill="#b5f02a"/>
<circle cx="96.3" cy="126.4" r="1.25" fill="#b5f02a"/>
<circle cx="109.2" cy="131.8" r="1.25" fill="#b5f02a"/>
<circle cx="118.5" cy="142.1" r="1.25" fill="#b5f02a"/>
<circle cx="90.8" cy="117.4" r="1.25" fill="#b5f02a"/>
<circle cx="89.5" cy="121.8" r="1.25" fill="#b5f02a"/>
<circle cx="96.0" cy="128.7" r="1.25" fill="#b5f02a"/>
<circle cx="99.5" cy="131.4" r="1.25" fill="#b5f02a"/>
<circle cx="102.3" cy="126.2" r="1.25" fill="#b5f02a"/>
<circle cx="115.0" cy="129.8" r="1.25" fill="#b5f02a"/>
<circle cx="118.7" cy="134.5" r="1.25" fill="#b5f02a"/>
<circle cx="89.0" cy="124.3" r="1.25" fill="#b5f02a"/>
<circle cx="91.3" cy="117.6" r="1.25" fill="#b5f02a"/>
<circle cx="118.2" cy="138.8" r="1.25" fill="#b5f02a"/>
<circle cx="127.1" cy="137.3" r="1.25" fill="#b5f02a"/>
<circle cx="124.6" cy="140.0" r="1.25" fill="#b5f02a"/>
<circle cx="114.6" cy="136.0" r="1.25" fill="#b5f02a"/>
<circle cx="128.8" cy="134.7" r="1.25" fill="#b5f02a"/>
<circle cx="114.2" cy="135.2" r="1.25" fill="#b5f02a"/>
<circle cx="105.4" cy="129.8" r="1.25" fill="#b5f02a"/>
<circle cx="108.5" cy="133.9" r="1.25" fill="#b5f02a"/>
<circle cx="110.5" cy="134.0" r="1.25" fill="#b5f02a"/>
<circle cx="97.0" cy="120.4" r="1.25" fill="#b5f02a"/>
<circle cx="121.2" cy="135.2" r="1.25" fill="#b5f02a"/>
<circle cx="112.5" cy="137.1" r="1.25" fill="#b5f02a"/>
<circle cx="95.4" cy="123.9" r="1.25" fill="#b5f02a"/>
<circle cx="89.2" cy="118.1" r="1.25" fill="#b5f02a"/>
<circle cx="123.1" cy="138.7" r="1.25" fill="#b5f02a"/>
<circle cx="112.6" cy="133.2" r="1.25" fill="#b5f02a"/>
<circle cx="103.8" cy="138.4" r="1.25" fill="#b5f02a"/>
<circle cx="81.4" cy="113.8" r="1.25" fill="#b5f02a"/>
<circle cx="121.9" cy="143.4" r="1.25" fill="#b5f02a"/>
<circle cx="112.5" cy="136.9" r="1.25" fill="#b5f02a"/>
<circle cx="99.5" cy="119.6" r="1.25" fill="#b5f02a"/>
<circle cx="125.6" cy="143.0" r="1.25" fill="#b5f02a"/>
<circle cx="120.6" cy="137.3" r="1.25" fill="#b5f02a"/>
<circle cx="110.1" cy="136.4" r="1.25" fill="#b5f02a"/>
<circle cx="89.5" cy="110.3" r="1.25" fill="#b5f02a"/>
<circle cx="87.3" cy="114.8" r="1.25" fill="#b5f02a"/>
<circle cx="113.5" cy="139.3" r="1.25" fill="#b5f02a"/>
<circle cx="114.7" cy="135.5" r="1.25" fill="#b5f02a"/>
<circle cx="107.1" cy="131.0" r="1.25" fill="#b5f02a"/>
<circle cx="120.7" cy="142.6" r="1.25" fill="#b5f02a"/>
<circle cx="110.5" cy="139.9" r="1.25" fill="#b5f02a"/>
<circle cx="95.0" cy="115.6" r="1.25" fill="#b5f02a"/>
<circle cx="122.0" cy="139.0" r="1.25" fill="#b5f02a"/>
<circle cx="114.3" cy="132.2" r="1.25" fill="#b5f02a"/>
<circle cx="92.9" cy="123.2" r="1.25" fill="#b5f02a"/>
<circle cx="111.0" cy="138.0" r="1.25" fill="#b5f02a"/>
<circle cx="106.1" cy="133.8" r="1.25" fill="#b5f02a"/>
<circle cx="113.9" cy="134.2" r="1.25" fill="#b5f02a"/>
<circle cx="122.0" cy="141.2" r="1.25" fill="#b5f02a"/>
<circle cx="115.4" cy="131.9" r="1.25" fill="#b5f02a"/>
<circle cx="88.9" cy="118.3" r="1.25" fill="#b5f02a"/>
<circle cx="103.7" cy="133.6" r="1.25" fill="#b5f02a"/>
<circle cx="104.4" cy="126.1" r="1.25" fill="#b5f02a"/>
<circle cx="113.8" cy="139.3" r="1.25" fill="#b5f02a"/>
<circle cx="112.2" cy="140.6" r="1.25" fill="#b5f02a"/>
<circle cx="114.2" cy="137.4" r="1.25" fill="#b5f02a"/>
<circle cx="88.9" cy="125.3" r="1.25" fill="#b5f02a"/>
<circle cx="112.3" cy="136.2" r="1.25" fill="#b5f02a"/>
<circle cx="99.2" cy="126.1" r="1.25" fill="#b5f02a"/>
<circle cx="89.4" cy="113.5" r="1.25" fill="#b5f02a"/>
<circle cx="95.5" cy="120.5" r="1.25" fill="#b5f02a"/>
<circle cx="106.5" cy="135.6" r="1.25" fill="#b5f02a"/>
<circle cx="100.1" cy="140.7" r="1.25" fill="#b5f02a"/>
<circle cx="87.1" cy="108.2" r="1.25" fill="#b5f02a"/>
<circle cx="128.0" cy="129.7" r="1.25" fill="#b5f02a"/>
<circle cx="104.3" cy="129.5" r="1.25" fill="#b5f02a"/>
<circle cx="90.1" cy="110.8" r="1.25" fill="#b5f02a"/>
<circle cx="85.3" cy="120.8" r="1.25" fill="#b5f02a"/>
<circle cx="88.6" cy="116.9" r="1.25" fill="#b5f02a"/>
<circle cx="118.5" cy="138.6" r="1.25" fill="#b5f02a"/>
<circle cx="90.6" cy="121.3" r="1.25" fill="#b5f02a"/>
<circle cx="125.7" cy="143.0" r="1.25" fill="#b5f02a"/>
<circle cx="94.3" cy="125.1" r="1.25" fill="#b5f02a"/>
<circle cx="92.6" cy="122.7" r="1.25" fill="#b5f02a"/>
<circle cx="81.6" cy="117.0" r="1.25" fill="#b5f02a"/>
<circle cx="94.8" cy="123.9" r="1.25" fill="#b5f02a"/>
<circle cx="95.2" cy="115.9" r="1.25" fill="#b5f02a"/>
<circle cx="103.3" cy="124.2" r="1.25" fill="#b5f02a"/>
<circle cx="117.6" cy="132.3" r="1.25" fill="#b5f02a"/>
<circle cx="121.5" cy="143.5" r="1.25" fill="#b5f02a"/>
<circle cx="81.1" cy="118.0" r="1.25" fill="#b5f02a"/>
<circle cx="109.5" cy="132.0" r="1.25" fill="#b5f02a"/>
<circle cx="91.1" cy="113.3" r="1.25" fill="#b5f02a"/>
<circle cx="116.0" cy="133.6" r="1.25" fill="#b5f02a"/>
<circle cx="111.5" cy="131.1" r="1.25" fill="#b5f02a"/>
<circle cx="103.2" cy="126.1" r="1.25" fill="#b5f02a"/>
<circle cx="123.5" cy="143.7" r="1.25" fill="#b5f02a"/>
<circle cx="124.0" cy="141.5" r="1.25" fill="#b5f02a"/>
<circle cx="100.4" cy="122.6" r="1.25" fill="#b5f02a"/>
<circle cx="107.4" cy="132.2" r="1.25" fill="#b5f02a"/>
<circle cx="101.6" cy="127.2" r="1.25" fill="#b5f02a"/>
<circle cx="104.2" cy="132.3" r="1.25" fill="#b5f02a"/>
<circle cx="101.0" cy="115.4" r="1.25" fill="#b5f02a"/>
<circle cx="116.4" cy="136.7" r="1.25" fill="#b5f02a"/>
<circle cx="91.5" cy="115.5" r="1.25" fill="#b5f02a"/>
<circle cx="95.6" cy="128.5" r="1.25" fill="#b5f02a"/>
<circle cx="131.4" cy="126.0" r="1.25" fill="#b5f02a"/>
<circle cx="106.5" cy="138.6" r="1.25" fill="#b5f02a"/>
<circle cx="95.9" cy="127.2" r="1.25" fill="#b5f02a"/>
<circle cx="119.2" cy="139.2" r="1.25" fill="#b5f02a"/>
<circle cx="120.0" cy="131.8" r="1.25" fill="#b5f02a"/>
<circle cx="125.8" cy="143.2" r="1.25" fill="#b5f02a"/>
<circle cx="91.1" cy="136.8" r="1.25" fill="#b5f02a"/>
<circle cx="119.7" cy="143.5" r="1.25" fill="#b5f02a"/>
<circle cx="118.4" cy="129.2" r="1.25" fill="#b5f02a"/>
<circle cx="104.5" cy="131.6" r="1.25" fill="#b5f02a"/>
<circle cx="119.6" cy="137.5" r="1.25" fill="#b5f02a"/>
<circle cx="115.8" cy="128.0" r="1.25" fill="#b5f02a"/>
<circle cx="92.5" cy="130.0" r="1.25" fill="#b5f02a"/>
<circle cx="88.2" cy="138.6" r="1.25" fill="#b5f02a"/>
<circle cx="89.2" cy="135.9" r="1.25" fill="#b5f02a"/>
<circle cx="102.1" cy="132.8" r="1.25" fill="#b5f02a"/>
<circle cx="104.6" cy="127.1" r="1.25" fill="#b5f02a"/>
<circle cx="122.7" cy="134.8" r="1.25" fill="#b5f02a"/>
<circle cx="110.2" cy="140.2" r="1.25" fill="#b5f02a"/>
<circle cx="104.4" cy="128.8" r="1.25" fill="#b5f02a"/>
<circle cx="112.8" cy="136.5" r="1.25" fill="#b5f02a"/>
<circle cx="117.8" cy="134.6" r="1.25" fill="#b5f02a"/>
<circle cx="118.9" cy="144.3" r="1.25" fill="#b5f02a"/>
<circle cx="114.5" cy="138.5" r="1.25" fill="#b5f02a"/>
<circle cx="111.4" cy="139.8" r="1.25" fill="#b5f02a"/>
<circle cx="115.9" cy="137.4" r="1.25" fill="#b5f02a"/>
<circle cx="91.0" cy="124.9" r="1.25" fill="#b5f02a"/>
<circle cx="120.8" cy="145.1" r="1.25" fill="#b5f02a"/>
<circle cx="94.5" cy="128.1" r="1.25" fill="#b5f02a"/>
<circle cx="105.5" cy="134.0" r="1.25" fill="#b5f02a"/>
<circle cx="115.3" cy="139.9" r="1.25" fill="#b5f02a"/>
<circle cx="125.5" cy="131.7" r="1.25" fill="#b5f02a"/>
<circle cx="105.9" cy="127.5" r="1.25" fill="#b5f02a"/>
<circle cx="114.1" cy="131.8" r="1.25" fill="#b5f02a"/>
<circle cx="101.2" cy="129.8" r="1.25" fill="#b5f02a"/>
<circle cx="110.7" cy="142.5" r="1.25" fill="#b5f02a"/>
<circle cx="124.6" cy="134.9" r="1.25" fill="#b5f02a"/>
<circle cx="110.7" cy="136.3" r="1.25" fill="#b5f02a"/>
<circle cx="96.7" cy="124.2" r="1.25" fill="#b5f02a"/>
<circle cx="105.4" cy="127.9" r="1.25" fill="#b5f02a"/>
<circle cx="117.1" cy="132.8" r="1.25" fill="#b5f02a"/>
<circle cx="105.2" cy="135.7" r="1.25" fill="#b5f02a"/>
<circle cx="99.2" cy="135.0" r="1.25" fill="#b5f02a"/>
<circle cx="98.7" cy="123.2" r="1.25" fill="#b5f02a"/>
<circle cx="95.8" cy="133.1" r="1.25" fill="#b5f02a"/>
<circle cx="124.8" cy="136.0" r="1.25" fill="#b5f02a"/>
<circle cx="107.7" cy="136.7" r="1.25" fill="#b5f02a"/>
<circle cx="101.0" cy="134.2" r="1.25" fill="#b5f02a"/>
<circle cx="117.6" cy="134.3" r="1.25" fill="#b5f02a"/>
<circle cx="107.5" cy="135.2" r="1.25" fill="#b5f02a"/>
<circle cx="109.3" cy="125.8" r="1.25" fill="#b5f02a"/>
<circle cx="113.6" cy="135.7" r="1.25" fill="#b5f02a"/>
<circle cx="89.7" cy="130.2" r="1.25" fill="#b5f02a"/>
<circle cx="119.7" cy="132.6" r="1.25" fill="#b5f02a"/>
<circle cx="94.5" cy="124.2" r="1.25" fill="#b5f02a"/>
<circle cx="100.3" cy="115.9" r="1.25" fill="#b5f02a"/>
<circle cx="97.1" cy="127.0" r="1.25" fill="#b5f02a"/>
<circle cx="105.7" cy="136.4" r="1.25" fill="#b5f02a"/>
<circle cx="119.9" cy="142.1" r="1.25" fill="#b5f02a"/>
<circle cx="117.9" cy="141.7" r="1.25" fill="#b5f02a"/>
<circle cx="100.2" cy="128.0" r="1.25" fill="#b5f02a"/>
<circle cx="100.9" cy="118.3" r="1.25" fill="#b5f02a"/>
<circle cx="122.4" cy="149.3" r="1.25" fill="#b5f02a"/>
<circle cx="112.9" cy="131.6" r="1.25" fill="#b5f02a"/>
<circle cx="90.4" cy="130.2" r="1.25" fill="#b5f02a"/>
<circle cx="108.1" cy="125.8" r="1.25" fill="#b5f02a"/>
<circle cx="113.2" cy="143.5" r="1.25" fill="#b5f02a"/>
<circle cx="123.0" cy="141.2" r="1.25" fill="#b5f02a"/>
<circle cx="93.8" cy="125.8" r="1.25" fill="#b5f02a"/>
<circle cx="100.9" cy="132.3" r="1.25" fill="#b5f02a"/>
<circle cx="99.8" cy="124.5" r="1.25" fill="#b5f02a"/>
<circle cx="103.5" cy="130.9" r="1.25" fill="#b5f02a"/>
<circle cx="115.1" cy="152.4" r="1.25" fill="#b5f02a"/>
<circle cx="119.7" cy="133.7" r="1.25" fill="#b5f02a"/>
<circle cx="109.9" cy="139.1" r="1.25" fill="#b5f02a"/>
<circle cx="119.1" cy="134.4" r="1.25" fill="#b5f02a"/>
<circle cx="101.9" cy="110.2" r="1.25" fill="#b5f02a"/>
<circle cx="106.7" cy="131.9" r="1.25" fill="#b5f02a"/>
<circle cx="120.0" cy="138.5" r="1.25" fill="#b5f02a"/>
<circle cx="116.4" cy="136.2" r="1.25" fill="#b5f02a"/>
<circle cx="103.9" cy="138.9" r="1.25" fill="#b5f02a"/>
<circle cx="115.7" cy="142.0" r="1.25" fill="#b5f02a"/>
<circle cx="95.6" cy="125.2" r="1.25" fill="#b5f02a"/>
<circle cx="108.9" cy="138.7" r="1.25" fill="#b5f02a"/>
<circle cx="127.4" cy="140.5" r="1.25" fill="#b5f02a"/>
<circle cx="121.4" cy="134.5" r="1.25" fill="#b5f02a"/>
<circle cx="101.1" cy="121.2" r="1.25" fill="#b5f02a"/>
<circle cx="100.1" cy="126.5" r="1.25" fill="#b5f02a"/>
<circle cx="101.5" cy="135.0" r="1.25" fill="#b5f02a"/>
<circle cx="116.0" cy="135.5" r="1.25" fill="#b5f02a"/>
<circle cx="102.3" cy="134.2" r="1.25" fill="#b5f02a"/>
<circle cx="116.3" cy="147.4" r="1.25" fill="#b5f02a"/>
<circle cx="97.4" cy="131.8" r="1.25" fill="#b5f02a"/>
<circle cx="94.1" cy="132.6" r="1.25" fill="#b5f02a"/>
<circle cx="111.3" cy="144.2" r="1.25" fill="#b5f02a"/>
<circle cx="106.1" cy="126.3" r="1.25" fill="#b5f02a"/>
<circle cx="108.8" cy="130.3" r="1.25" fill="#b5f02a"/>
<circle cx="96.6" cy="136.2" r="1.25" fill="#b5f02a"/>
<circle cx="119.7" cy="142.1" r="1.25" fill="#b5f02a"/>
<circle cx="101.3" cy="124.7" r="1.25" fill="#b5f02a"/>
<circle cx="97.4" cy="134.6" r="1.25" fill="#b5f02a"/>
<circle cx="104.1" cy="132.7" r="1.25" fill="#b5f02a"/>
<circle cx="93.7" cy="130.8" r="1.25" fill="#b5f02a"/>
<circle cx="116.4" cy="139.7" r="1.25" fill="#b5f02a"/>
<circle cx="98.9" cy="131.5" r="1.25" fill="#b5f02a"/>
<circle cx="115.0" cy="135.6" r="1.25" fill="#b5f02a"/>
<circle cx="125.0" cy="142.3" r="1.25" fill="#b5f02a"/>
<circle cx="112.5" cy="136.3" r="1.25" fill="#b5f02a"/>
<circle cx="109.7" cy="136.1" r="1.25" fill="#b5f02a"/>
<circle cx="127.7" cy="148.7" r="1.25" fill="#b5f02a"/>
<circle cx="126.7" cy="150.5" r="1.25" fill="#b5f02a"/>
<circle cx="124.3" cy="149.8" r="1.25" fill="#b5f02a"/>
<circle cx="123.6" cy="149.3" r="1.25" fill="#b5f02a"/>
<circle cx="152.8" cy="142.1" r="1.25" fill="#55c81c"/>
<circle cx="160.0" cy="131.2" r="1.25" fill="#55c81c"/>
<circle cx="149.8" cy="150.3" r="1.25" fill="#55c81c"/>
<circle cx="143.1" cy="149.7" r="1.25" fill="#55c81c"/>
<circle cx="161.7" cy="133.6" r="1.25" fill="#55c81c"/>
<circle cx="164.7" cy="132.4" r="1.25" fill="#55c81c"/>
<circle cx="147.6" cy="143.8" r="1.25" fill="#55c81c"/>
<circle cx="154.5" cy="142.7" r="1.25" fill="#55c81c"/>
<circle cx="146.0" cy="142.1" r="1.25" fill="#55c81c"/>
<circle cx="165.6" cy="132.0" r="1.25" fill="#55c81c"/>
<circle cx="149.0" cy="148.4" r="1.25" fill="#55c81c"/>
<circle cx="153.7" cy="148.9" r="1.25" fill="#55c81c"/>
<circle cx="167.6" cy="134.3" r="1.25" fill="#55c81c"/>
<circle cx="159.5" cy="130.7" r="1.25" fill="#55c81c"/>
<circle cx="154.7" cy="143.3" r="1.25" fill="#55c81c"/>
<circle cx="144.7" cy="143.2" r="1.25" fill="#55c81c"/>
<circle cx="159.0" cy="142.1" r="1.25" fill="#55c81c"/>
<circle cx="131.4" cy="135.6" r="1.25" fill="#55c81c"/>
<circle cx="157.8" cy="130.2" r="1.25" fill="#55c81c"/>
<circle cx="161.7" cy="133.6" r="1.25" fill="#55c81c"/>
<circle cx="147.4" cy="137.9" r="1.25" fill="#55c81c"/>
<circle cx="153.8" cy="140.5" r="1.25" fill="#55c81c"/>
<circle cx="155.4" cy="133.6" r="1.25" fill="#55c81c"/>
<circle cx="148.5" cy="143.6" r="1.25" fill="#55c81c"/>
<circle cx="146.8" cy="151.0" r="1.25" fill="#55c81c"/>
<circle cx="150.9" cy="145.4" r="1.25" fill="#55c81c"/>
<circle cx="162.4" cy="131.0" r="1.25" fill="#55c81c"/>
<circle cx="157.1" cy="137.7" r="1.25" fill="#55c81c"/>
<circle cx="155.7" cy="138.1" r="1.25" fill="#55c81c"/>
<circle cx="143.1" cy="151.8" r="1.25" fill="#55c81c"/>
<circle cx="146.4" cy="143.7" r="1.25" fill="#55c81c"/>
<circle cx="155.3" cy="139.8" r="1.25" fill="#55c81c"/>
<circle cx="154.8" cy="147.1" r="1.25" fill="#55c81c"/>
<circle cx="143.8" cy="145.9" r="1.25" fill="#55c81c"/>
<circle cx="150.4" cy="149.9" r="1.25" fill="#55c81c"/>
<circle cx="150.5" cy="145.8" r="1.25" fill="#55c81c"/>
<circle cx="156.0" cy="143.1" r="1.25" fill="#55c81c"/>
<circle cx="155.3" cy="134.9" r="1.25" fill="#55c81c"/>
<circle cx="167.5" cy="132.2" r="1.25" fill="#55c81c"/>
<circle cx="165.3" cy="130.5" r="1.25" fill="#55c81c"/>
<circle cx="164.0" cy="130.6" r="1.25" fill="#55c81c"/>
<circle cx="157.9" cy="137.4" r="1.25" fill="#55c81c"/>
<circle cx="164.7" cy="128.7" r="1.25" fill="#55c81c"/>
<circle cx="148.4" cy="139.4" r="1.25" fill="#55c81c"/>
<circle cx="164.9" cy="134.9" r="1.25" fill="#55c81c"/>
<circle cx="145.8" cy="144.1" r="1.25" fill="#55c81c"/>
<circle cx="151.6" cy="140.5" r="1.25" fill="#55c81c"/>
<circle cx="151.1" cy="144.2" r="1.25" fill="#55c81c"/>
<circle cx="147.8" cy="146.1" r="1.25" fill="#55c81c"/>
<circle cx="140.5" cy="141.0" r="1.25" fill="#55c81c"/>
<circle cx="167.0" cy="131.6" r="1.25" fill="#55c81c"/>
<circle cx="150.3" cy="144.9" r="1.25" fill="#55c81c"/>
<circle cx="157.8" cy="133.7" r="1.25" fill="#55c81c"/>
<circle cx="158.0" cy="128.8" r="1.25" fill="#55c81c"/>
<circle cx="143.3" cy="147.3" r="1.25" fill="#55c81c"/>
<circle cx="161.2" cy="129.7" r="1.25" fill="#55c81c"/>
<circle cx="162.1" cy="135.7" r="1.25" fill="#55c81c"/>
<circle cx="163.9" cy="137.4" r="1.25" fill="#55c81c"/>
<circle cx="163.0" cy="132.7" r="1.25" fill="#55c81c"/>
<circle cx="151.0" cy="132.5" r="1.25" fill="#55c81c"/>
<circle cx="161.4" cy="130.2" r="1.25" fill="#55c81c"/>
<circle cx="153.3" cy="136.5" r="1.25" fill="#55c81c"/>
<circle cx="162.7" cy="134.9" r="1.25" fill="#55c81c"/>
<circle cx="152.6" cy="142.2" r="1.25" fill="#55c81c"/>
<circle cx="169.2" cy="136.1" r="1.25" fill="#55c81c"/>
<circle cx="143.4" cy="152.1" r="1.25" fill="#55c81c"/>
<circle cx="151.1" cy="141.0" r="1.25" fill="#55c81c"/>
<circle cx="150.6" cy="147.4" r="1.25" fill="#55c81c"/>
<circle cx="157.1" cy="139.3" r="1.25" fill="#55c81c"/>
<circle cx="150.4" cy="143.8" r="1.25" fill="#55c81c"/>
<circle cx="167.4" cy="135.3" r="1.25" fill="#55c81c"/>
<circle cx="157.9" cy="135.0" r="1.25" fill="#55c81c"/>
<circle cx="149.8" cy="145.0" r="1.25" fill="#55c81c"/>
<circle cx="145.8" cy="148.1" r="1.25" fill="#55c81c"/>
<circle cx="154.8" cy="138.0" r="1.25" fill="#55c81c"/>
<circle cx="148.5" cy="142.3" r="1.25" fill="#55c81c"/>
<circle cx="150.3" cy="146.4" r="1.25" fill="#55c81c"/>
<circle cx="147.6" cy="143.1" r="1.25" fill="#55c81c"/>
<circle cx="162.9" cy="133.0" r="1.25" fill="#55c81c"/>
<circle cx="164.3" cy="138.8" r="1.25" fill="#55c81c"/>
<circle cx="171.0" cy="138.5" r="1.25" fill="#55c81c"/>
<circle cx="178.8" cy="134.6" r="1.25" fill="#55c81c"/>
<circle cx="179.3" cy="136.3" r="1.25" fill="#55c81c"/>
<circle cx="177.1" cy="137.0" r="1.25" fill="#55c81c"/>
<circle cx="174.1" cy="140.1" r="1.25" fill="#55c81c"/>
<circle cx="180.1" cy="136.4" r="1.25" fill="#55c81c"/>
<circle cx="174.0" cy="138.8" r="1.25" fill="#55c81c"/>
<circle cx="180.0" cy="134.7" r="1.25" fill="#55c81c"/>
<circle cx="177.0" cy="140.4" r="1.25" fill="#55c81c"/>
<circle cx="176.0" cy="137.7" r="1.25" fill="#55c81c"/>
<circle cx="172.7" cy="133.8" r="1.25" fill="#55c81c"/>
<circle cx="176.6" cy="133.3" r="1.25" fill="#55c81c"/>
<circle cx="178.3" cy="132.3" r="1.25" fill="#55c81c"/>
<circle cx="172.0" cy="133.6" r="1.25" fill="#55c81c"/>
<circle cx="171.8" cy="139.5" r="1.25" fill="#55c81c"/>
<circle cx="176.7" cy="138.4" r="1.25" fill="#55c81c"/>
<circle cx="171.0" cy="133.8" r="1.25" fill="#55c81c"/>
<circle cx="172.0" cy="135.7" r="1.25" fill="#55c81c"/>
<circle cx="177.1" cy="134.7" r="1.25" fill="#55c81c"/>
<circle cx="174.5" cy="139.2" r="1.25" fill="#55c81c"/>
<circle cx="175.7" cy="134.1" r="1.25" fill="#55c81c"/>
<circle cx="170.2" cy="138.1" r="1.25" fill="#55c81c"/>
<circle cx="172.3" cy="135.2" r="1.25" fill="#55c81c"/>
<circle cx="172.3" cy="138.8" r="1.25" fill="#55c81c"/>
<circle cx="180.3" cy="135.8" r="1.25" fill="#55c81c"/>
<circle cx="170.4" cy="134.5" r="1.25" fill="#55c81c"/>
<circle cx="174.0" cy="136.4" r="1.25" fill="#55c81c"/>
<circle cx="170.1" cy="134.0" r="1.25" fill="#55c81c"/>
<circle cx="170.5" cy="135.5" r="1.25" fill="#55c81c"/>
<circle cx="170.1" cy="137.6" r="1.25" fill="#55c81c"/>
<circle cx="89.6" cy="155.2" r="1.25" fill="#8f4515"/>
<circle cx="82.1" cy="143.8" r="1.25" fill="#8f4515"/>
<circle cx="77.3" cy="142.4" r="1.25" fill="#8f4515"/>
<circle cx="85.2" cy="153.0" r="1.25" fill="#8f4515"/>
<circle cx="78.6" cy="143.6" r="1.25" fill="#8f4515"/>
<circle cx="80.8" cy="146.1" r="1.25" fill="#8f4515"/>
<circle cx="78.9" cy="147.3" r="1.25" fill="#8f4515"/>
<circle cx="83.7" cy="150.1" r="1.25" fill="#8f4515"/>
<circle cx="86.1" cy="155.6" r="1.25" fill="#8f4515"/>
<circle cx="79.5" cy="140.9" r="1.25" fill="#8f4515"/>
<circle cx="78.2" cy="141.2" r="1.25" fill="#8f4515"/>
<circle cx="89.9" cy="153.1" r="1.25" fill="#8f4515"/>
<circle cx="86.7" cy="152.8" r="1.25" fill="#8f4515"/>
<circle cx="81.4" cy="150.7" r="1.25" fill="#8f4515"/>
<circle cx="77.5" cy="139.2" r="1.25" fill="#8f4515"/>
<circle cx="87.1" cy="154.8" r="1.25" fill="#8f4515"/>
<circle cx="89.0" cy="151.7" r="1.25" fill="#8f4515"/>
<circle cx="88.5" cy="157.2" r="1.25" fill="#8f4515"/>
<circle cx="75.2" cy="141.8" r="1.25" fill="#8f4515"/>
<circle cx="76.5" cy="140.8" r="1.25" fill="#8f4515"/>
<circle cx="77.7" cy="143.0" r="1.25" fill="#8f4515"/>
<circle cx="84.8" cy="151.1" r="1.25" fill="#8f4515"/>
<circle cx="85.5" cy="150.1" r="1.25" fill="#8f4515"/>
<circle cx="84.7" cy="146.1" r="1.25" fill="#8f4515"/>
<circle cx="81.1" cy="138.1" r="1.25" fill="#8f4515"/>
<circle cx="81.4" cy="150.4" r="1.25" fill="#8f4515"/>
<circle cx="74.3" cy="141.1" r="1.25" fill="#8f4515"/>
<circle cx="84.8" cy="145.2" r="1.25" fill="#8f4515"/>
<circle cx="89.3" cy="155.5" r="1.25" fill="#8f4515"/>
<circle cx="78.2" cy="144.5" r="1.25" fill="#8f4515"/>
<circle cx="87.7" cy="154.7" r="1.25" fill="#8f4515"/>
<circle cx="89.6" cy="156.4" r="1.25" fill="#8f4515"/>
<circle cx="90.9" cy="156.2" r="1.25" fill="#8f4515"/>
<circle cx="78.1" cy="140.1" r="1.25" fill="#8f4515"/>
<circle cx="82.5" cy="145.2" r="1.25" fill="#8f4515"/>
<circle cx="85.4" cy="150.1" r="1.25" fill="#8f4515"/>
<circle cx="80.3" cy="152.7" r="1.25" fill="#8f4515"/>
<circle cx="84.9" cy="153.4" r="1.25" fill="#8f4515"/>
<circle cx="90.1" cy="155.2" r="1.25" fill="#8f4515"/>
<circle cx="77.1" cy="140.3" r="1.25" fill="#8f4515"/>
<circle cx="77.6" cy="140.0" r="1.25" fill="#8f4515"/>
<circle cx="82.6" cy="143.0" r="1.25" fill="#8f4515"/>
<circle cx="80.4" cy="141.5" r="1.25" fill="#8f4515"/>
<circle cx="86.0" cy="151.8" r="1.25" fill="#8f4515"/>
<circle cx="75.2" cy="143.7" r="1.25" fill="#8f4515"/>
<circle cx="111.2" cy="175.0" r="1.25" fill="#d6621a"/>
<circle cx="103.5" cy="170.6" r="1.25" fill="#d6621a"/>
<circle cx="99.0" cy="171.5" r="1.25" fill="#d6621a"/>
<circle cx="107.5" cy="173.8" r="1.25" fill="#d6621a"/>
<circle cx="101.9" cy="168.0" r="1.25" fill="#d6621a"/>
<circle cx="99.0" cy="166.8" r="1.25" fill="#d6621a"/>
<circle cx="104.9" cy="166.3" r="1.25" fill="#d6621a"/>
<circle cx="108.0" cy="176.7" r="1.25" fill="#d6621a"/>
<circle cx="114.8" cy="178.7" r="1.25" fill="#d6621a"/>
<circle cx="101.9" cy="170.3" r="1.25" fill="#d6621a"/>
<circle cx="107.0" cy="176.0" r="1.25" fill="#d6621a"/>
<circle cx="112.9" cy="178.8" r="1.25" fill="#d6621a"/>
<circle cx="115.0" cy="177.5" r="1.25" fill="#d6621a"/>
<circle cx="114.1" cy="172.9" r="1.25" fill="#d6621a"/>
<circle cx="107.6" cy="174.9" r="1.25" fill="#d6621a"/>
<circle cx="112.0" cy="179.2" r="1.25" fill="#d6621a"/>
<circle cx="101.1" cy="171.6" r="1.25" fill="#d6621a"/>
<circle cx="104.1" cy="173.9" r="1.25" fill="#d6621a"/>
<circle cx="114.5" cy="175.2" r="1.25" fill="#d6621a"/>
<circle cx="103.3" cy="169.2" r="1.25" fill="#d6621a"/>
<circle cx="107.3" cy="176.2" r="1.25" fill="#d6621a"/>
<circle cx="104.1" cy="169.0" r="1.25" fill="#d6621a"/>
<circle cx="106.3" cy="172.0" r="1.25" fill="#d6621a"/>
<circle cx="111.6" cy="182.8" r="1.25" fill="#d6621a"/>
<circle cx="110.0" cy="175.3" r="1.25" fill="#d6621a"/>
<circle cx="103.4" cy="174.3" r="1.25" fill="#d6621a"/>
<circle cx="111.2" cy="172.5" r="1.25" fill="#d6621a"/>
<circle cx="109.1" cy="176.7" r="1.25" fill="#d6621a"/>
<circle cx="113.5" cy="176.0" r="1.25" fill="#d6621a"/>
<circle cx="113.1" cy="179.6" r="1.25" fill="#d6621a"/>
<circle cx="97.2" cy="173.0" r="1.25" fill="#d6621a"/>
<circle cx="107.3" cy="171.5" r="1.25" fill="#d6621a"/>
<circle cx="99.2" cy="165.8" r="1.25" fill="#d6621a"/>
<circle cx="107.6" cy="172.2" r="1.25" fill="#d6621a"/>
<circle cx="102.0" cy="171.2" r="1.25" fill="#d6621a"/>
<circle cx="96.3" cy="168.0" r="1.25" fill="#d6621a"/>
<circle cx="102.1" cy="171.9" r="1.25" fill="#d6621a"/>
<circle cx="98.9" cy="174.6" r="1.25" fill="#d6621a"/>
<circle cx="99.7" cy="168.1" r="1.25" fill="#d6621a"/>
<circle cx="102.8" cy="167.7" r="1.25" fill="#d6621a"/>
<circle cx="108.2" cy="174.6" r="1.25" fill="#d6621a"/>
<circle cx="107.6" cy="172.1" r="1.25" fill="#d6621a"/>
<circle cx="138.2" cy="191.4" r="1.25" fill="#f6c20c"/>
<circle cx="148.7" cy="176.7" r="1.25" fill="#f6c20c"/>
<circle cx="123.4" cy="181.3" r="1.25" fill="#f6c20c"/>
<circle cx="144.1" cy="180.6" r="1.25" fill="#f6c20c"/>
<circle cx="154.9" cy="171.3" r="1.25" fill="#f6c20c"/>
<circle cx="148.0" cy="172.1" r="1.25" fill="#f6c20c"/>
<circle cx="146.2" cy="174.8" r="1.25" fill="#f6c20c"/>
<circle cx="126.1" cy="184.4" r="1.25" fill="#f6c20c"/>
<circle cx="140.2" cy="186.3" r="1.25" fill="#f6c20c"/>
<circle cx="148.2" cy="178.2" r="1.25" fill="#f6c20c"/>
<circle cx="125.5" cy="192.1" r="1.25" fill="#f6c20c"/>
<circle cx="133.5" cy="182.6" r="1.25" fill="#f6c20c"/>
<circle cx="127.4" cy="181.1" r="1.25" fill="#f6c20c"/>
<circle cx="123.1" cy="182.5" r="1.25" fill="#f6c20c"/>
<circle cx="143.1" cy="177.5" r="1.25" fill="#f6c20c"/>
<circle cx="145.7" cy="180.0" r="1.25" fill="#f6c20c"/>
<circle cx="157.6" cy="181.7" r="1.25" fill="#f6c20c"/>
<circle cx="133.7" cy="178.8" r="1.25" fill="#f6c20c"/>
<circle cx="135.8" cy="176.5" r="1.25" fill="#f6c20c"/>
<circle cx="138.7" cy="183.1" r="1.25" fill="#f6c20c"/>
<circle cx="130.5" cy="175.2" r="1.25" fill="#f6c20c"/>
<circle cx="135.4" cy="173.5" r="1.25" fill="#f6c20c"/>
<circle cx="153.5" cy="175.3" r="1.25" fill="#f6c20c"/>
<circle cx="148.3" cy="181.6" r="1.25" fill="#f6c20c"/>
<circle cx="147.7" cy="176.7" r="1.25" fill="#f6c20c"/>
<circle cx="152.6" cy="173.5" r="1.25" fill="#f6c20c"/>
<circle cx="145.6" cy="177.2" r="1.25" fill="#f6c20c"/>
<circle cx="128.9" cy="184.9" r="1.25" fill="#f6c20c"/>
<circle cx="133.6" cy="177.2" r="1.25" fill="#f6c20c"/>
<circle cx="148.2" cy="179.9" r="1.25" fill="#f6c20c"/>
<circle cx="123.6" cy="182.5" r="1.25" fill="#f6c20c"/>
<circle cx="149.3" cy="173.2" r="1.25" fill="#f6c20c"/>
<circle cx="131.0" cy="179.2" r="1.25" fill="#f6c20c"/>
<circle cx="138.0" cy="179.8" r="1.25" fill="#f6c20c"/>
<circle cx="149.1" cy="169.2" r="1.25" fill="#f6c20c"/>
<circle cx="148.6" cy="179.7" r="1.25" fill="#f6c20c"/>
<circle cx="156.3" cy="176.6" r="1.25" fill="#f6c20c"/>
<circle cx="134.4" cy="180.0" r="1.25" fill="#f6c20c"/>
<circle cx="150.2" cy="178.4" r="1.25" fill="#f6c20c"/>
<circle cx="125.9" cy="188.7" r="1.25" fill="#f6c20c"/>
<circle cx="148.5" cy="172.0" r="1.25" fill="#f6c20c"/>
<circle cx="142.5" cy="182.9" r="1.25" fill="#f6c20c"/>
<circle cx="153.6" cy="169.9" r="1.25" fill="#f6c20c"/>
<circle cx="156.3" cy="174.2" r="1.25" fill="#f6c20c"/>
<circle cx="127.6" cy="180.4" r="1.25" fill="#f6c20c"/>
<circle cx="145.9" cy="175.8" r="1.25" fill="#f6c20c"/>
<circle cx="151.4" cy="169.3" r="1.25" fill="#f6c20c"/>
<circle cx="139.2" cy="180.7" r="1.25" fill="#f6c20c"/>
<circle cx="126.8" cy="175.9" r="1.25" fill="#f6c20c"/>
<circle cx="149.3" cy="183.6" r="1.25" fill="#f6c20c"/>
<circle cx="150.5" cy="179.0" r="1.25" fill="#f6c20c"/>
<circle cx="133.3" cy="187.7" r="1.25" fill="#f6c20c"/>
<circle cx="133.1" cy="179.1" r="1.25" fill="#f6c20c"/>
<circle cx="150.9" cy="169.6" r="1.25" fill="#f6c20c"/>
<circle cx="127.2" cy="185.3" r="1.25" fill="#f6c20c"/>
<circle cx="146.6" cy="178.1" r="1.25" fill="#f6c20c"/>
<circle cx="126.4" cy="183.6" r="1.25" fill="#f6c20c"/>
<circle cx="151.2" cy="179.0" r="1.25" fill="#f6c20c"/>
<circle cx="137.8" cy="182.3" r="1.25" fill="#f6c20c"/>
<circle cx="145.8" cy="173.7" r="1.25" fill="#f6c20c"/>
<circle cx="136.4" cy="181.4" r="1.25" fill="#f6c20c"/>
<circle cx="132.5" cy="179.1" r="1.25" fill="#f6c20c"/>
<circle cx="132.1" cy="178.9" r="1.25" fill="#f6c20c"/>
<circle cx="124.2" cy="179.4" r="1.25" fill="#f6c20c"/>
<circle cx="150.9" cy="172.2" r="1.25" fill="#f6c20c"/>
<circle cx="154.4" cy="171.7" r="1.25" fill="#f6c20c"/>
<circle cx="125.9" cy="183.7" r="1.25" fill="#f6c20c"/>
<circle cx="144.5" cy="178.2" r="1.25" fill="#f6c20c"/>
<circle cx="139.8" cy="179.3" r="1.25" fill="#f6c20c"/>
<circle cx="127.4" cy="178.4" r="1.25" fill="#f6c20c"/>
<circle cx="135.8" cy="185.0" r="1.25" fill="#f6c20c"/>
<circle cx="147.8" cy="176.4" r="1.25" fill="#f6c20c"/>
<circle cx="133.6" cy="182.0" r="1.25" fill="#f6c20c"/>
<circle cx="152.2" cy="172.4" r="1.25" fill="#f6c20c"/>
<circle cx="147.6" cy="173.9" r="1.25" fill="#f6c20c"/>
<circle cx="145.8" cy="176.4" r="1.25" fill="#f6c20c"/>
<circle cx="156.1" cy="177.2" r="1.25" fill="#f6c20c"/>
<circle cx="136.6" cy="176.6" r="1.25" fill="#f6c20c"/>
<circle cx="140.2" cy="186.1" r="1.25" fill="#f6c20c"/>
<circle cx="123.5" cy="183.1" r="1.25" fill="#f6c20c"/>
<circle cx="149.8" cy="176.6" r="1.25" fill="#f6c20c"/>
<circle cx="123.1" cy="184.0" r="1.25" fill="#f6c20c"/>
<circle cx="138.4" cy="185.3" r="1.25" fill="#f6c20c"/>
<circle cx="154.0" cy="175.7" r="1.25" fill="#f6c20c"/>
<circle cx="125.6" cy="188.2" r="1.25" fill="#f6c20c"/>
<circle cx="145.5" cy="177.3" r="1.25" fill="#f6c20c"/>
<circle cx="141.7" cy="172.9" r="1.25" fill="#f6c20c"/>
<circle cx="126.0" cy="182.7" r="1.25" fill="#f6c20c"/>
<circle cx="125.1" cy="187.2" r="1.25" fill="#f6c20c"/>
<circle cx="150.9" cy="172.7" r="1.25" fill="#f6c20c"/>
<circle cx="126.5" cy="184.8" r="1.25" fill="#f6c20c"/>
<circle cx="126.9" cy="187.3" r="1.25" fill="#f6c20c"/>
<circle cx="157.4" cy="178.9" r="1.25" fill="#f6c20c"/>
<circle cx="146.1" cy="177.2" r="1.25" fill="#f6c20c"/>
<circle cx="150.3" cy="175.7" r="1.25" fill="#f6c20c"/>
<circle cx="142.3" cy="181.3" r="1.25" fill="#f6c20c"/>
<circle cx="148.9" cy="169.9" r="1.25" fill="#f6c20c"/>
<circle cx="154.9" cy="171.8" r="1.25" fill="#f6c20c"/>
<circle cx="127.2" cy="182.4" r="1.25" fill="#f6c20c"/>
<circle cx="145.5" cy="178.7" r="1.25" fill="#f6c20c"/>
<circle cx="151.5" cy="167.7" r="1.25" fill="#f6c20c"/>
<circle cx="152.2" cy="181.7" r="1.25" fill="#f6c20c"/>
<circle cx="149.5" cy="173.2" r="1.25" fill="#f6c20c"/>
<circle cx="140.5" cy="179.1" r="1.25" fill="#f6c20c"/>
<circle cx="128.8" cy="178.9" r="1.25" fill="#f6c20c"/>
<circle cx="129.1" cy="182.5" r="1.25" fill="#f6c20c"/>
<circle cx="128.9" cy="183.5" r="1.25" fill="#f6c20c"/>
<circle cx="140.0" cy="171.6" r="1.25" fill="#f6c20c"/>
<circle cx="125.6" cy="186.8" r="1.25" fill="#f6c20c"/>
<circle cx="141.0" cy="174.7" r="1.25" fill="#f6c20c"/>
<circle cx="131.3" cy="183.2" r="1.25" fill="#f6c20c"/>
<circle cx="146.8" cy="177.0" r="1.25" fill="#f6c20c"/>
<circle cx="141.4" cy="185.8" r="1.25" fill="#f6c20c"/>
<circle cx="141.8" cy="175.4" r="1.25" fill="#f6c20c"/>
<circle cx="134.1" cy="186.8" r="1.25" fill="#f6c20c"/>
<circle cx="136.7" cy="181.1" r="1.25" fill="#f6c20c"/>
<circle cx="141.6" cy="169.7" r="1.25" fill="#f6c20c"/>
<circle cx="126.4" cy="187.0" r="1.25" fill="#f6c20c"/>
<circle cx="139.5" cy="186.8" r="1.25" fill="#f6c20c"/>
<circle cx="143.8" cy="178.0" r="1.25" fill="#f6c20c"/>
<circle cx="129.6" cy="183.6" r="1.25" fill="#f6c20c"/>
<circle cx="139.2" cy="178.1" r="1.25" fill="#f6c20c"/>
<circle cx="136.3" cy="182.0" r="1.25" fill="#f6c20c"/>
<circle cx="132.2" cy="187.4" r="1.25" fill="#f6c20c"/>
<circle cx="142.2" cy="176.5" r="1.25" fill="#f6c20c"/>
<circle cx="164.1" cy="166.6" r="1.25" fill="#f0a43a"/>
<circle cx="169.3" cy="165.7" r="1.25" fill="#f0a43a"/>
<circle cx="166.1" cy="164.1" r="1.25" fill="#f0a43a"/>
<circle cx="163.1" cy="168.1" r="1.25" fill="#f0a43a"/>
<circle cx="161.0" cy="170.4" r="1.25" fill="#f0a43a"/>
<circle cx="166.4" cy="165.5" r="1.25" fill="#f0a43a"/>
<circle cx="167.8" cy="165.0" r="1.25" fill="#f0a43a"/>
<circle cx="174.9" cy="167.0" r="1.25" fill="#f0a43a"/>
<circle cx="158.6" cy="167.3" r="1.25" fill="#f0a43a"/>
<circle cx="156.5" cy="173.4" r="1.25" fill="#f0a43a"/>
<circle cx="166.4" cy="166.6" r="1.25" fill="#f0a43a"/>
<circle cx="164.4" cy="164.2" r="1.25" fill="#f0a43a"/>
<circle cx="161.8" cy="169.4" r="1.25" fill="#f0a43a"/>
<circle cx="155.1" cy="169.3" r="1.25" fill="#f0a43a"/>
<circle cx="173.3" cy="162.4" r="1.25" fill="#f0a43a"/>
<circle cx="173.9" cy="165.8" r="1.25" fill="#f0a43a"/>
<circle cx="174.2" cy="164.4" r="1.25" fill="#f0a43a"/>
<circle cx="158.1" cy="161.5" r="1.25" fill="#f0a43a"/>
<circle cx="155.1" cy="166.5" r="1.25" fill="#f0a43a"/>
<circle cx="155.9" cy="169.9" r="1.25" fill="#f0a43a"/>
<circle cx="171.4" cy="167.6" r="1.25" fill="#f0a43a"/>
<circle cx="161.6" cy="168.2" r="1.25" fill="#f0a43a"/>
<circle cx="166.4" cy="165.5" r="1.25" fill="#f0a43a"/>
<circle cx="162.7" cy="169.8" r="1.25" fill="#f0a43a"/>
<circle cx="171.0" cy="167.0" r="1.25" fill="#f0a43a"/>
<circle cx="157.2" cy="169.1" r="1.25" fill="#f0a43a"/>
<circle cx="158.6" cy="167.0" r="1.25" fill="#f0a43a"/>
<circle cx="170.3" cy="165.8" r="1.25" fill="#f0a43a"/>
<circle cx="170.1" cy="164.8" r="1.25" fill="#f0a43a"/>
<circle cx="167.4" cy="166.6" r="1.25" fill="#f0a43a"/>
<circle cx="172.8" cy="169.0" r="1.25" fill="#f0a43a"/>
<circle cx="167.3" cy="165.7" r="1.25" fill="#f0a43a"/>
<circle cx="169.6" cy="166.5" r="1.25" fill="#f0a43a"/>
<circle cx="174.7" cy="167.8" r="1.25" fill="#f0a43a"/>
<circle cx="171.7" cy="167.0" r="1.25" fill="#f0a43a"/>
<circle cx="171.5" cy="163.5" r="1.25" fill="#f0a43a"/>
</g>
<text x="19" y="37" font-size="7.2" fill="#444" text-anchor="middle">20</text>
<text x="19" y="71.5" font-size="7.2" fill="#444" text-anchor="middle">10</text>
<text x="20" y="104.5" font-size="7.2" fill="#444" text-anchor="middle">0</text>
<text x="20" y="138" font-size="7.2" fill="#444" text-anchor="middle">−10</text>
<text x="20" y="171" font-size="7.2" fill="#444" text-anchor="middle">−20</text>
<text x="21.5" y="202.5" font-size="7.2" fill="#444" text-anchor="middle">−30</text>
<text x="6" y="111" font-size="8" fill="#444" text-anchor="middle">V2</text>
<text x="47" y="208" font-size="7.2" fill="#444" text-anchor="middle" transform="rotate(-28 47 205.5)">−20</text>
<text x="74.5" y="212.5" font-size="7.2" fill="#444" text-anchor="middle" transform="rotate(-28 74.5 210.0)">−10</text>
<text x="104.5" y="216.5" font-size="7.2" fill="#444" text-anchor="middle" transform="rotate(-28 104.5 214.0)">0</text>
<text x="137.5" y="223" font-size="7.2" fill="#444" text-anchor="middle" transform="rotate(-28 137.5 220.5)">10</text>
<text x="175" y="229" font-size="7.2" fill="#444" text-anchor="middle" transform="rotate(-28 175 226.5)">20</text>
<text x="91.5" y="223" font-size="8" fill="#444" text-anchor="middle">V1</text>
<text x="268" y="192.5" font-size="7.2" fill="#444" text-anchor="middle" font-style="italic" transform="rotate(-6 268 190.0)">−20</text>
<text x="263" y="200" font-size="7.2" fill="#444" text-anchor="middle" font-style="italic" transform="rotate(-6 263 197.5)">−10</text>
<text x="256" y="207.5" font-size="7.2" fill="#444" text-anchor="middle" font-style="italic" transform="rotate(-6 256 205.0)">0</text>
<text x="248" y="216.5" font-size="7.2" fill="#444" text-anchor="middle" font-style="italic" transform="rotate(-6 248 214.0)">10</text>
<text x="238" y="227" font-size="7.2" fill="#444" text-anchor="middle" font-style="italic" transform="rotate(-6 238 224.5)">20</text>
<text x="274.5" y="212" font-size="8" fill="#444" text-anchor="middle">V3</text>
<text x="8.9" y="9.5" font-size="12" text-anchor="start" font-weight="normal" font-style="normal" fill="#222" >A</text>
<text x="150.7" y="8.3" font-size="9.85" text-anchor="middle" font-weight="bold" font-style="normal" fill="#111" >Subcellular proteins localization in cluster</text>
<text x="150.7" y="19.4" font-size="9.85" text-anchor="middle" font-weight="bold" font-style="normal" fill="#111" >(<tspan font-style="italic">n</tspan>=4,464)</text>
<circle cx="289.4" cy="35.30" r="3.8" fill="#c4f36a"/>
<text x="297.6" y="37.75" font-size="6.8" fill="#222">S1 (<tspan font-style="italic">n</tspan>=270)</text>
<circle cx="289.4" cy="44.23" r="3.8" fill="#7dd63a"/>
<text x="297.6" y="46.68" font-size="6.8" fill="#222">S2 (<tspan font-style="italic">n</tspan>=130)</text>
<circle cx="289.4" cy="53.16" r="3.8" fill="#1ba33a"/>
<text x="297.6" y="55.61" font-size="6.8" fill="#222">S3 (<tspan font-style="italic">n</tspan>=68)</text>
<circle cx="289.4" cy="62.09" r="3.8" fill="#fff01a"/>
<text x="297.6" y="64.54" font-size="6.8" fill="#222">M1 (<tspan font-style="italic">n</tspan>=340)</text>
<circle cx="289.4" cy="71.02" r="3.8" fill="#ffd512"/>
<text x="297.6" y="73.47" font-size="6.8" fill="#222">M2 (<tspan font-style="italic">n</tspan>=101)</text>
<circle cx="289.4" cy="79.95" r="3.8" fill="#f6b84c"/>
<text x="297.6" y="82.40" font-size="6.8" fill="#222">M3 (<tspan font-style="italic">n</tspan>=30)</text>
<circle cx="289.4" cy="88.88" r="3.8" fill="#e18a3c"/>
<text x="297.6" y="91.33" font-size="6.8" fill="#222">M4 (<tspan font-style="italic">n</tspan>=28)</text>
<circle cx="289.4" cy="97.81" r="3.8" fill="#a9693a"/>
<text x="297.6" y="100.26" font-size="6.8" fill="#222">M5 (<tspan font-style="italic">n</tspan>=66)</text>
<circle cx="289.4" cy="106.74" r="3.8" fill="#22eefc"/>
<text x="297.6" y="109.19" font-size="6.8" fill="#222">N1 (<tspan font-style="italic">n</tspan>=1)</text>
<circle cx="289.4" cy="115.67" r="3.8" fill="#14ccf0"/>
<text x="297.6" y="118.12" font-size="6.8" fill="#222">N2 (<tspan font-style="italic">n</tspan>=579)</text>
<circle cx="289.4" cy="124.60" r="3.8" fill="#2a8aaa"/>
<text x="297.6" y="127.05" font-size="6.8" fill="#222">N3 (<tspan font-style="italic">n</tspan>=129)</text>
<circle cx="289.4" cy="133.53" r="3.8" fill="#f8c8d8"/>
<text x="297.6" y="135.98" font-size="6.8" fill="#222">C1 (<tspan font-style="italic">n</tspan>=111)</text>
<circle cx="289.4" cy="142.46" r="3.8" fill="#dd88aa"/>
<text x="297.6" y="144.91" font-size="6.8" fill="#222">C2 (<tspan font-style="italic">n</tspan>=112)</text>
<circle cx="289.4" cy="151.39" r="3.8" fill="#ee5566"/>
<text x="297.6" y="153.84" font-size="6.8" fill="#222">C3 (<tspan font-style="italic">n</tspan>=149)</text>
<circle cx="289.4" cy="160.32" r="3.8" fill="#f97030"/>
<text x="297.6" y="162.77" font-size="6.8" fill="#222">C4 (<tspan font-style="italic">n</tspan>=126)</text>
<circle cx="289.4" cy="169.25" r="3.8" fill="#ee3040"/>
<text x="297.6" y="171.70" font-size="6.8" fill="#222">C5 (<tspan font-style="italic">n</tspan>=25)</text>
<circle cx="289.4" cy="178.18" r="3.8" fill="#b03848"/>
<text x="297.6" y="180.63" font-size="6.8" fill="#222">C6 (<tspan font-style="italic">n</tspan>=169)</text>
<circle cx="289.4" cy="187.11" r="3.8" fill="#7a70bb"/>
<text x="297.6" y="189.56" font-size="6.8" fill="#222">R1 (<tspan font-style="italic">n</tspan>=76)</text>
<circle cx="289.4" cy="196.04" r="3.8" fill="#d8d8d8"/>
<text x="297.6" y="198.49" font-size="6.8" fill="#222">Unclassified</text>
<text x="348.1" y="9.3" font-size="11" text-anchor="start" font-weight="normal" font-style="normal" fill="#222" >B</text>
<text x="367.8" y="9.1" font-size="9.85" text-anchor="start" font-weight="bold" font-style="normal" fill="#111" >Classified proteins (<tspan font-style="italic">n</tspan>=2,510)</text>
<circle cx="413" cy="60" r="29.8" fill="#4580b6" stroke="#1d3f66" stroke-width="0.8"/>
<path d="M413,60 L442.8,60 A29.8,29.8 0 0 1 425.69,86.96 Z" fill="#89cdea" stroke="#1d3f66" stroke-width="0.8"/>
<line x1="429" y1="33" x2="433.5" y2="27.5" stroke="#333" stroke-width="0.7"/>
<line x1="438" y1="76.7" x2="443" y2="81.3" stroke="#333" stroke-width="0.7"/>
<text x="420.0" y="26.0" font-size="8.45" text-anchor="start" font-weight="normal" font-style="normal" fill="#222"  stroke="#222" stroke-width="0.1"><tspan font-style="italic">n</tspan>=2,058 (82%)</text>
<text x="436.0" y="90.0" font-size="8.45" text-anchor="start" font-weight="normal" font-style="normal" fill="#222"  stroke="#222" stroke-width="0.1">n=452 (18%)</text>
<rect x="363" y="101.5" width="8.6" height="8.2" fill="#4580b6"/>
<rect x="363" y="115.3" width="8.6" height="8.2" fill="#89cdea"/>
<text x="378.8" y="108.8" font-size="8.5" text-anchor="start" font-weight="normal" font-style="normal" fill="#222"  stroke="#222" stroke-width="0.1">Consistent in triplicate</text>
<text x="378.8" y="122.6" font-size="8.5" text-anchor="start" font-weight="normal" font-style="normal" fill="#222"  stroke="#222" stroke-width="0.1">Consistent in any two replicate</text>
<text x="348.0" y="160.3" font-size="11.5" text-anchor="start" font-weight="normal" font-style="normal" fill="#222" >D</text>
<text x="364.2" y="168.5" font-size="8.5" text-anchor="start" font-weight="normal" font-style="normal" fill="#222"  stroke="#222" stroke-width="0.1">GO (<tspan font-style="italic">n</tspan>=6,664)</text>
<text x="438.6" y="168.5" font-size="8.5" text-anchor="start" font-weight="normal" font-style="normal" fill="#222"  stroke="#222" stroke-width="0.1">PSL_LCCL (<tspan font-style="italic">n</tspan>=2,510)</text>
<ellipse cx="418.2" cy="199.5" rx="29.4" ry="27.3" fill="#efefef"/>
<ellipse cx="446.7" cy="199.5" rx="29.4" ry="27.3" fill="#a3dbf6"/>
<ellipse cx="432.5" cy="223.1" rx="29.4" ry="27.3" fill="#fdf1ea"/>
<defs><clipPath id="cg"><ellipse cx="418.2" cy="199.5" rx="29.4" ry="27.3" fill="none"/></clipPath><clipPath id="cp"><ellipse cx="446.7" cy="199.5" rx="29.4" ry="27.3" fill="none"/></clipPath><clipPath id="cu"><ellipse cx="432.5" cy="223.1" rx="29.4" ry="27.3" fill="none"/></clipPath></defs>
<g clip-path="url(#cg)"><ellipse cx="432.5" cy="223.1" rx="29.4" ry="27.3" fill="#f1ebe7"/></g>
<g clip-path="url(#cg)"><ellipse cx="446.7" cy="199.5" rx="29.4" ry="27.3" fill="#f4a3bb"/></g>
<g clip-path="url(#cp)"><ellipse cx="432.5" cy="223.1" rx="29.4" ry="27.3" fill="#f4a3bb"/></g>
<ellipse cx="418.2" cy="199.5" rx="29.4" ry="27.3" fill="none" stroke="#8a8a8a" stroke-width="1"/>
<ellipse cx="446.7" cy="199.5" rx="29.4" ry="27.3" fill="none" stroke="#3c9fd8" stroke-width="1"/>
<ellipse cx="432.5" cy="223.1" rx="29.4" ry="27.3" fill="none" stroke="#e2b04a" stroke-width="1"/>
<g clip-path="url(#cp)"><ellipse cx="418.2" cy="199.5" rx="29.4" ry="27.3" fill="none" stroke="#222" stroke-width="1.3"/><ellipse cx="432.5" cy="223.1" rx="29.4" ry="27.3" fill="none" stroke="#222" stroke-width="1.3"/></g>
<g clip-path="url(#cg)"><ellipse cx="446.7" cy="199.5" rx="29.4" ry="27.3" fill="none" stroke="#222" stroke-width="1.3"/></g>
<g clip-path="url(#cu)"><ellipse cx="446.7" cy="199.5" rx="29.4" ry="27.3" fill="none" stroke="#222" stroke-width="1.3"/></g>
<text x="405.5" y="195.8" font-size="6.8" text-anchor="middle" font-weight="normal" font-style="normal" fill="#1a1a1a"  stroke="#1a1a1a" stroke-width="0.2">1838</text>
<text x="433.0" y="190.2" font-size="6.8" text-anchor="middle" font-weight="normal" font-style="normal" fill="#1a1a1a"  stroke="#1a1a1a" stroke-width="0.2">172</text>
<text x="459.6" y="195.8" font-size="6.8" text-anchor="middle" font-weight="normal" font-style="normal" fill="#1a1a1a"  stroke="#1a1a1a" stroke-width="0.2">1405</text>
<text x="433.0" y="208.9" font-size="6.8" text-anchor="middle" font-weight="normal" font-style="normal" fill="#1a1a1a"  stroke="#1a1a1a" stroke-width="0.2">451</text>
<text x="412.5" y="221.4" font-size="6.8" text-anchor="middle" font-weight="normal" font-style="normal" fill="#1a1a1a"  stroke="#1a1a1a" stroke-width="0.2">4203</text>
<text x="451.3" y="220.8" font-size="6.8" text-anchor="middle" font-weight="normal" font-style="normal" fill="#1a1a1a"  stroke="#1a1a1a" stroke-width="0.2">482</text>
<text x="432.0" y="239.2" font-size="6.8" text-anchor="middle" font-weight="normal" font-style="normal" fill="#1a1a1a"  stroke="#1a1a1a" stroke-width="0.2">2011</text>
<text x="430.9" y="260.5" font-size="8.5" text-anchor="middle" font-weight="normal" font-style="normal" fill="#222"  stroke="#222" stroke-width="0.1">UniProt (<tspan font-style="italic">n</tspan>=7,147)</text>
<path d="M361.7,238.4 L340.8,262.9 M342.3,255.2 L340.8,262.9 L348.5,260.5" fill="none" stroke="#e0506e" stroke-width="1.3" stroke-linecap="round" stroke-linejoin="round"/>
<text x="8.4" y="245.9" font-size="12" text-anchor="start" font-weight="normal" font-style="normal" fill="#222" >C</text>
<rect x="46.9" y="252.8" width="37.4" height="12.4" fill="#cfcfcf"/>
<rect x="85.7" y="252.8" width="36.2" height="12.4" fill="#cfcfcf"/>
<rect x="123.5" y="252.8" width="28.9" height="12.4" fill="#cfcfcf"/>
<text x="65.6" y="261.6" font-size="6.8" text-anchor="middle" font-weight="normal" font-style="normal" fill="#222"  stroke="#222" stroke-width="0.1">Classified</text>
<text x="103.8" y="261.6" font-size="6.8" text-anchor="middle" font-weight="normal" font-style="normal" fill="#222"  stroke="#222" stroke-width="0.1">Predicted</text>
<text x="137.9" y="261.6" font-size="6.8" text-anchor="middle" font-weight="normal" font-style="normal" fill="#222"  stroke="#222" stroke-width="0.1">%</text>
<rect x="46.9" y="265.20" width="37.4" height="13.15" fill="#f1f1f1"/>
<rect x="85.7" y="265.20" width="36.2" height="13.15" fill="#f1f1f1"/>
<rect x="123.5" y="265.20" width="28.9" height="13.15" fill="#f1f1f1"/>
<text x="83.1" y="274.8" font-size="6.8" text-anchor="end" font-weight="normal" font-style="normal" fill="#1e1e1e"  stroke="#1e1e1e" stroke-width="0.1">117</text>
<text x="120.7" y="274.8" font-size="6.8" text-anchor="end" font-weight="normal" font-style="normal" fill="#1e1e1e"  stroke="#1e1e1e" stroke-width="0.1">115</text>
<text x="151.2" y="274.8" font-size="6.8" text-anchor="end" font-weight="normal" font-style="normal" fill="#1e1e1e"  stroke="#1e1e1e" stroke-width="0.1">98.29</text>
<rect x="46.9" y="278.35" width="37.4" height="13.15" fill="#e1e1e1"/>
<rect x="85.7" y="278.35" width="36.2" height="13.15" fill="#e1e1e1"/>
<rect x="123.5" y="278.35" width="28.9" height="13.15" fill="#e1e1e1"/>
<text x="83.1" y="287.9" font-size="6.8" text-anchor="end" font-weight="normal" font-style="normal" fill="#1e1e1e"  stroke="#1e1e1e" stroke-width="0.1">39</text>
<text x="120.7" y="287.9" font-size="6.8" text-anchor="end" font-weight="normal" font-style="normal" fill="#1e1e1e"  stroke="#1e1e1e" stroke-width="0.1">38</text>
<text x="151.2" y="287.9" font-size="6.8" text-anchor="end" font-weight="normal" font-style="normal" fill="#1e1e1e"  stroke="#1e1e1e" stroke-width="0.1">97.44</text>
<rect x="46.9" y="291.50" width="37.4" height="13.15" fill="#f1f1f1"/>
<rect x="85.7" y="291.50" width="36.2" height="13.15" fill="#f1f1f1"/>
<rect x="123.5" y="291.50" width="28.9" height="13.15" fill="#f1f1f1"/>
<text x="83.1" y="301.1" font-size="6.8" text-anchor="end" font-weight="normal" font-style="normal" fill="#1e1e1e"  stroke="#1e1e1e" stroke-width="0.1">41</text>
<text x="120.7" y="301.1" font-size="6.8" text-anchor="end" font-weight="normal" font-style="normal" fill="#1e1e1e"  stroke="#1e1e1e" stroke-width="0.1">37</text>
<text x="151.2" y="301.1" font-size="6.8" text-anchor="end" font-weight="normal" font-style="normal" fill="#1e1e1e"  stroke="#1e1e1e" stroke-width="0.1">90.24</text>
<rect x="46.9" y="304.65" width="37.4" height="13.15" fill="#e1e1e1"/>
<rect x="85.7" y="304.65" width="36.2" height="13.15" fill="#e1e1e1"/>
<rect x="123.5" y="304.65" width="28.9" height="13.15" fill="#e1e1e1"/>
<text x="83.1" y="314.2" font-size="6.8" text-anchor="end" font-weight="normal" font-style="normal" fill="#1e1e1e"  stroke="#1e1e1e" stroke-width="0.1">39</text>
<text x="120.7" y="314.2" font-size="6.8" text-anchor="end" font-weight="normal" font-style="normal" fill="#1e1e1e"  stroke="#1e1e1e" stroke-width="0.1">38</text>
<text x="151.2" y="314.2" font-size="6.8" text-anchor="end" font-weight="normal" font-style="normal" fill="#1e1e1e"  stroke="#1e1e1e" stroke-width="0.1">97.44</text>
<rect x="46.9" y="317.80" width="37.4" height="13.15" fill="#f1f1f1"/>
<rect x="85.7" y="317.80" width="36.2" height="13.15" fill="#f1f1f1"/>
<rect x="123.5" y="317.80" width="28.9" height="13.15" fill="#f1f1f1"/>
<text x="83.1" y="327.4" font-size="6.8" text-anchor="end" font-weight="normal" font-style="normal" fill="#1e1e1e"  stroke="#1e1e1e" stroke-width="0.1">77</text>
<text x="120.7" y="327.4" font-size="6.8" text-anchor="end" font-weight="normal" font-style="normal" fill="#1e1e1e"  stroke="#1e1e1e" stroke-width="0.1">74</text>
<text x="151.2" y="327.4" font-size="6.8" text-anchor="end" font-weight="normal" font-style="normal" fill="#1e1e1e"  stroke="#1e1e1e" stroke-width="0.1">96.11</text>
<rect x="46.9" y="330.95" width="37.4" height="13.15" fill="#e1e1e1"/>
<rect x="85.7" y="330.95" width="36.2" height="13.15" fill="#e1e1e1"/>
<rect x="123.5" y="330.95" width="28.9" height="13.15" fill="#e1e1e1"/>
<text x="83.1" y="340.5" font-size="6.8" text-anchor="end" font-weight="normal" font-style="normal" fill="#1e1e1e"  stroke="#1e1e1e" stroke-width="0.1">27</text>
<text x="120.7" y="340.5" font-size="6.8" text-anchor="end" font-weight="normal" font-style="normal" fill="#1e1e1e"  stroke="#1e1e1e" stroke-width="0.1">23</text>
<text x="151.2" y="340.5" font-size="6.8" text-anchor="end" font-weight="normal" font-style="normal" fill="#1e1e1e"  stroke="#1e1e1e" stroke-width="0.1">85.19</text>
<rect x="46.9" y="344.10" width="37.4" height="13.15" fill="#f1f1f1"/>
<rect x="85.7" y="344.10" width="36.2" height="13.15" fill="#f1f1f1"/>
<rect x="123.5" y="344.10" width="28.9" height="13.15" fill="#f1f1f1"/>
<text x="83.1" y="353.7" font-size="6.8" text-anchor="end" font-weight="normal" font-style="normal" fill="#1e1e1e"  stroke="#1e1e1e" stroke-width="0.1">29</text>
<text x="120.7" y="353.7" font-size="6.8" text-anchor="end" font-weight="normal" font-style="normal" fill="#1e1e1e"  stroke="#1e1e1e" stroke-width="0.1">25</text>
<text x="151.2" y="353.7" font-size="6.8" text-anchor="end" font-weight="normal" font-style="normal" fill="#1e1e1e"  stroke="#1e1e1e" stroke-width="0.1">86.21</text>
<rect x="46.9" y="357.25" width="37.4" height="13.15" fill="#e1e1e1"/>
<rect x="85.7" y="357.25" width="36.2" height="13.15" fill="#e1e1e1"/>
<rect x="123.5" y="357.25" width="28.9" height="13.15" fill="#e1e1e1"/>
<text x="83.1" y="366.8" font-size="6.8" text-anchor="end" font-weight="normal" font-style="normal" fill="#1e1e1e"  stroke="#1e1e1e" stroke-width="0.1">62</text>
<text x="120.7" y="366.8" font-size="6.8" text-anchor="end" font-weight="normal" font-style="normal" fill="#1e1e1e"  stroke="#1e1e1e" stroke-width="0.1">61</text>
<text x="151.2" y="366.8" font-size="6.8" text-anchor="end" font-weight="normal" font-style="normal" fill="#1e1e1e"  stroke="#1e1e1e" stroke-width="0.1">98.39</text>
<rect x="46.9" y="370.40" width="37.4" height="13.15" fill="#f1f1f1"/>
<rect x="85.7" y="370.40" width="36.2" height="13.15" fill="#f1f1f1"/>
<rect x="123.5" y="370.40" width="28.9" height="13.15" fill="#f1f1f1"/>
<text x="83.1" y="380.0" font-size="6.8" text-anchor="end" font-weight="normal" font-style="normal" fill="#1e1e1e"  stroke="#1e1e1e" stroke-width="0.1">3</text>
<text x="120.7" y="380.0" font-size="6.8" text-anchor="end" font-weight="normal" font-style="normal" fill="#1e1e1e"  stroke="#1e1e1e" stroke-width="0.1">1</text>
<text x="151.2" y="380.0" font-size="6.8" text-anchor="end" font-weight="normal" font-style="normal" fill="#1e1e1e"  stroke="#1e1e1e" stroke-width="0.1">33.33</text>
<rect x="46.9" y="383.55" width="37.4" height="13.15" fill="#e1e1e1"/>
<rect x="85.7" y="383.55" width="36.2" height="13.15" fill="#e1e1e1"/>
<rect x="123.5" y="383.55" width="28.9" height="13.15" fill="#e1e1e1"/>
<text x="83.1" y="393.1" font-size="6.8" text-anchor="end" font-weight="normal" font-style="normal" fill="#1e1e1e"  stroke="#1e1e1e" stroke-width="0.1">83</text>
<text x="120.7" y="393.1" font-size="6.8" text-anchor="end" font-weight="normal" font-style="normal" fill="#1e1e1e"  stroke="#1e1e1e" stroke-width="0.1">82</text>
<text x="151.2" y="393.1" font-size="6.8" text-anchor="end" font-weight="normal" font-style="normal" fill="#1e1e1e"  stroke="#1e1e1e" stroke-width="0.1">98.81</text>
<rect x="46.9" y="396.70" width="37.4" height="13.15" fill="#f1f1f1"/>
<rect x="85.7" y="396.70" width="36.2" height="13.15" fill="#f1f1f1"/>
<rect x="123.5" y="396.70" width="28.9" height="13.15" fill="#f1f1f1"/>
<text x="83.1" y="406.3" font-size="6.8" text-anchor="end" font-weight="normal" font-style="normal" fill="#1e1e1e"  stroke="#1e1e1e" stroke-width="0.1">60</text>
<text x="120.7" y="406.3" font-size="6.8" text-anchor="end" font-weight="normal" font-style="normal" fill="#1e1e1e"  stroke="#1e1e1e" stroke-width="0.1">58</text>
<text x="151.2" y="406.3" font-size="6.8" text-anchor="end" font-weight="normal" font-style="normal" fill="#1e1e1e"  stroke="#1e1e1e" stroke-width="0.1">96.67</text>
<rect x="46.9" y="409.85" width="37.4" height="13.15" fill="#e1e1e1"/>
<rect x="85.7" y="409.85" width="36.2" height="13.15" fill="#e1e1e1"/>
<rect x="123.5" y="409.85" width="28.9" height="13.15" fill="#e1e1e1"/>
<text x="83.1" y="419.4" font-size="6.8" text-anchor="end" font-weight="normal" font-style="normal" fill="#1e1e1e"  stroke="#1e1e1e" stroke-width="0.1">84</text>
<text x="120.7" y="419.4" font-size="6.8" text-anchor="end" font-weight="normal" font-style="normal" fill="#1e1e1e"  stroke="#1e1e1e" stroke-width="0.1">73</text>
<text x="151.2" y="419.4" font-size="6.8" text-anchor="end" font-weight="normal" font-style="normal" fill="#1e1e1e"  stroke="#1e1e1e" stroke-width="0.1">86.91</text>
<rect x="46.9" y="423.00" width="37.4" height="13.15" fill="#f1f1f1"/>
<rect x="85.7" y="423.00" width="36.2" height="13.15" fill="#f1f1f1"/>
<rect x="123.5" y="423.00" width="28.9" height="13.15" fill="#f1f1f1"/>
<text x="83.1" y="432.6" font-size="6.8" text-anchor="end" font-weight="normal" font-style="normal" fill="#1e1e1e"  stroke="#1e1e1e" stroke-width="0.1">73</text>
<text x="120.7" y="432.6" font-size="6.8" text-anchor="end" font-weight="normal" font-style="normal" fill="#1e1e1e"  stroke="#1e1e1e" stroke-width="0.1">72</text>
<text x="151.2" y="432.6" font-size="6.8" text-anchor="end" font-weight="normal" font-style="normal" fill="#1e1e1e"  stroke="#1e1e1e" stroke-width="0.1">98.63</text>
<rect x="46.9" y="436.15" width="37.4" height="13.15" fill="#e1e1e1"/>
<rect x="85.7" y="436.15" width="36.2" height="13.15" fill="#e1e1e1"/>
<rect x="123.5" y="436.15" width="28.9" height="13.15" fill="#e1e1e1"/>
<text x="83.1" y="445.7" font-size="6.8" text-anchor="end" font-weight="normal" font-style="normal" fill="#1e1e1e"  stroke="#1e1e1e" stroke-width="0.1">92</text>
<text x="120.7" y="445.7" font-size="6.8" text-anchor="end" font-weight="normal" font-style="normal" fill="#1e1e1e"  stroke="#1e1e1e" stroke-width="0.1">87</text>
<text x="151.2" y="445.7" font-size="6.8" text-anchor="end" font-weight="normal" font-style="normal" fill="#1e1e1e"  stroke="#1e1e1e" stroke-width="0.1">94.57</text>
<rect x="46.9" y="449.30" width="37.4" height="13.15" fill="#f1f1f1"/>
<rect x="85.7" y="449.30" width="36.2" height="13.15" fill="#f1f1f1"/>
<rect x="123.5" y="449.30" width="28.9" height="13.15" fill="#f1f1f1"/>
<text x="83.1" y="458.9" font-size="6.8" text-anchor="end" font-weight="normal" font-style="normal" fill="#1e1e1e"  stroke="#1e1e1e" stroke-width="0.1">69</text>
<text x="120.7" y="458.9" font-size="6.8" text-anchor="end" font-weight="normal" font-style="normal" fill="#1e1e1e"  stroke="#1e1e1e" stroke-width="0.1">65</text>
<text x="151.2" y="458.9" font-size="6.8" text-anchor="end" font-weight="normal" font-style="normal" fill="#1e1e1e"  stroke="#1e1e1e" stroke-width="0.1">94.21</text>
<rect x="46.9" y="462.45" width="37.4" height="13.15" fill="#e1e1e1"/>
<rect x="85.7" y="462.45" width="36.2" height="13.15" fill="#e1e1e1"/>
<rect x="123.5" y="462.45" width="28.9" height="13.15" fill="#e1e1e1"/>
<text x="83.1" y="472.0" font-size="6.8" text-anchor="end" font-weight="normal" font-style="normal" fill="#1e1e1e"  stroke="#1e1e1e" stroke-width="0.1">18</text>
<text x="120.7" y="472.0" font-size="6.8" text-anchor="end" font-weight="normal" font-style="normal" fill="#1e1e1e"  stroke="#1e1e1e" stroke-width="0.1">13</text>
<text x="151.2" y="472.0" font-size="6.8" text-anchor="end" font-weight="normal" font-style="normal" fill="#1e1e1e"  stroke="#1e1e1e" stroke-width="0.1">72.22</text>
<rect x="46.9" y="475.60" width="37.4" height="13.15" fill="#f1f1f1"/>
<rect x="85.7" y="475.60" width="36.2" height="13.15" fill="#f1f1f1"/>
<rect x="123.5" y="475.60" width="28.9" height="13.15" fill="#f1f1f1"/>
<text x="83.1" y="485.2" font-size="6.8" text-anchor="end" font-weight="normal" font-style="normal" fill="#1e1e1e"  stroke="#1e1e1e" stroke-width="0.1">59</text>
<text x="120.7" y="485.2" font-size="6.8" text-anchor="end" font-weight="normal" font-style="normal" fill="#1e1e1e"  stroke="#1e1e1e" stroke-width="0.1">59</text>
<text x="151.2" y="485.2" font-size="6.8" text-anchor="end" font-weight="normal" font-style="normal" fill="#1e1e1e"  stroke="#1e1e1e" stroke-width="0.1">100.00</text>
<rect x="46.9" y="488.75" width="37.4" height="13.15" fill="#e1e1e1"/>
<rect x="85.7" y="488.75" width="36.2" height="13.15" fill="#e1e1e1"/>
<rect x="123.5" y="488.75" width="28.9" height="13.15" fill="#e1e1e1"/>
<text x="83.1" y="498.3" font-size="6.8" text-anchor="end" font-weight="normal" font-style="normal" fill="#1e1e1e"  stroke="#1e1e1e" stroke-width="0.1">58</text>
<text x="120.7" y="498.3" font-size="6.8" text-anchor="end" font-weight="normal" font-style="normal" fill="#1e1e1e"  stroke="#1e1e1e" stroke-width="0.1">41</text>
<text x="151.2" y="498.3" font-size="6.8" text-anchor="end" font-weight="normal" font-style="normal" fill="#1e1e1e"  stroke="#1e1e1e" stroke-width="0.1">70.69</text>
<rect x="46.9" y="501.90" width="37.4" height="13.15" fill="#f1f1f1"/>
<rect x="85.7" y="501.90" width="36.2" height="13.15" fill="#f1f1f1"/>
<rect x="123.5" y="501.90" width="28.9" height="13.15" fill="#f1f1f1"/>
<text x="83.1" y="511.5" font-size="6.8" text-anchor="end" font-weight="normal" font-style="normal" fill="#1e1e1e"  stroke="#1e1e1e" stroke-width="0.1">1030</text>
<text x="120.7" y="511.5" font-size="6.8" text-anchor="end" font-weight="normal" font-style="normal" fill="#1e1e1e"  stroke="#1e1e1e" stroke-width="0.1">962</text>
<text x="151.2" y="511.5" font-size="6.8" text-anchor="end" font-weight="normal" font-style="normal" fill="#1e1e1e"  stroke="#1e1e1e" stroke-width="0.1">93.41</text>
<text x="45.5" y="274.9" font-size="7.4" text-anchor="end" font-weight="normal" font-style="normal" fill="#222"  stroke="#222" stroke-width="0.1"><tspan font-style="italic">S1</tspan> -</text>
<text x="45.5" y="288.9" font-size="7.4" text-anchor="end" font-weight="normal" font-style="normal" fill="#222"  stroke="#222" stroke-width="0.1"><tspan font-style="italic">S2</tspan> -</text>
<text x="45.5" y="302.8" font-size="7.4" text-anchor="end" font-weight="normal" font-style="normal" fill="#222"  stroke="#222" stroke-width="0.1"><tspan font-style="italic">S3</tspan> -</text>
<text x="45.5" y="316.8" font-size="7.4" text-anchor="end" font-weight="normal" font-style="normal" fill="#222"  stroke="#222" stroke-width="0.1"><tspan font-style="italic">M1</tspan> -</text>
<text x="45.5" y="330.8" font-size="7.4" text-anchor="end" font-weight="normal" font-style="normal" fill="#222"  stroke="#222" stroke-width="0.1"><tspan font-style="italic">M2</tspan> -</text>
<text x="45.5" y="344.8" font-size="7.4" text-anchor="end" font-weight="normal" font-style="normal" fill="#222"  stroke="#222" stroke-width="0.1"><tspan font-style="italic">M3</tspan> -</text>
<text x="45.5" y="358.7" font-size="7.4" text-anchor="end" font-weight="normal" font-style="normal" fill="#222"  stroke="#222" stroke-width="0.1"><tspan font-style="italic">M4</tspan> -</text>
<text x="45.5" y="372.7" font-size="7.4" text-anchor="end" font-weight="normal" font-style="normal" fill="#222"  stroke="#222" stroke-width="0.1"><tspan font-style="italic">M5</tspan> -</text>
<text x="45.5" y="386.7" font-size="7.4" text-anchor="end" font-weight="normal" font-style="normal" fill="#222"  stroke="#222" stroke-width="0.1"><tspan font-style="italic">N1</tspan> -</text>
<text x="45.5" y="400.6" font-size="7.4" text-anchor="end" font-weight="normal" font-style="normal" fill="#222"  stroke="#222" stroke-width="0.1"><tspan font-style="italic">N2</tspan> -</text>
<text x="45.5" y="414.6" font-size="7.4" text-anchor="end" font-weight="normal" font-style="normal" fill="#222"  stroke="#222" stroke-width="0.1"><tspan font-style="italic">N3</tspan> -</text>
<text x="45.5" y="428.6" font-size="7.4" text-anchor="end" font-weight="normal" font-style="normal" fill="#222"  stroke="#222" stroke-width="0.1"><tspan font-style="italic">C1</tspan> -</text>
<text x="45.5" y="442.5" font-size="7.4" text-anchor="end" font-weight="normal" font-style="normal" fill="#222"  stroke="#222" stroke-width="0.1"><tspan font-style="italic">C2</tspan> -</text>
<text x="45.5" y="456.5" font-size="7.4" text-anchor="end" font-weight="normal" font-style="normal" fill="#222"  stroke="#222" stroke-width="0.1"><tspan font-style="italic">C3</tspan> -</text>
<text x="45.5" y="470.5" font-size="7.4" text-anchor="end" font-weight="normal" font-style="normal" fill="#222"  stroke="#222" stroke-width="0.1"><tspan font-style="italic">C4</tspan> -</text>
<text x="45.5" y="484.5" font-size="7.4" text-anchor="end" font-weight="normal" font-style="normal" fill="#222"  stroke="#222" stroke-width="0.1"><tspan font-style="italic">C5</tspan> -</text>
<text x="45.5" y="498.4" font-size="7.4" text-anchor="end" font-weight="normal" font-style="normal" fill="#222"  stroke="#222" stroke-width="0.1"><tspan font-style="italic">C6</tspan> -</text>
<text x="45.5" y="512.4" font-size="7.4" text-anchor="end" font-weight="normal" font-style="normal" fill="#222"  stroke="#222" stroke-width="0.1"><tspan font-style="italic">R1</tspan> -</text>
<text x="184.2" y="246.3" font-size="12" text-anchor="start" font-weight="normal" font-style="normal" fill="#222" >E</text>
<line x1="236.6" y1="270" x2="236.6" y2="389.2" stroke="#333" stroke-width="0.8"/>
<line x1="236.2" y1="389.2" x2="518" y2="389.2" stroke="#333" stroke-width="0.8"/>
<line x1="233.8" y1="384.7" x2="236.6" y2="384.7" stroke="#333" stroke-width="0.8"/>
<text x="232.2" y="387.3" font-size="7.2" text-anchor="end" font-weight="normal" font-style="normal" fill="#444"  stroke="#444" stroke-width="0.1">0</text>
<line x1="233.8" y1="359.4" x2="236.6" y2="359.4" stroke="#333" stroke-width="0.8"/>
<text x="232.2" y="362.0" font-size="7.2" text-anchor="end" font-weight="normal" font-style="normal" fill="#444"  stroke="#444" stroke-width="0.1">50</text>
<line x1="233.8" y1="334.1" x2="236.6" y2="334.1" stroke="#333" stroke-width="0.8"/>
<text x="232.2" y="336.7" font-size="7.2" text-anchor="end" font-weight="normal" font-style="normal" fill="#444"  stroke="#444" stroke-width="0.1">100</text>
<line x1="233.8" y1="308.7" x2="236.6" y2="308.7" stroke="#333" stroke-width="0.8"/>
<text x="232.2" y="311.3" font-size="7.2" text-anchor="end" font-weight="normal" font-style="normal" fill="#444"  stroke="#444" stroke-width="0.1">150</text>
<line x1="233.8" y1="283.4" x2="236.6" y2="283.4" stroke="#333" stroke-width="0.8"/>
<text x="232.2" y="286.0" font-size="7.2" text-anchor="end" font-weight="normal" font-style="normal" fill="#444"  stroke="#444" stroke-width="0.1">200</text>
<text x="216.6" y="330" font-size="9.1" fill="#222" text-anchor="middle" transform="rotate(-90 216.6 330)">Number of proteins</text>
<rect x="240.05" y="376.31" width="10.9" height="8.39" fill="#075e07"/>
<rect x="240.05" y="374.64" width="10.9" height="1.68" fill="#11801a"/>
<rect x="240.05" y="367.93" width="10.9" height="6.71" fill="#22d27a"/>
<rect x="240.05" y="364.01" width="10.9" height="3.91" fill="#5ec820"/>
<rect x="240.05" y="336.05" width="10.9" height="27.96" fill="#9acd32"/>
<rect x="240.05" y="333.82" width="10.9" height="2.24" fill="#c2f244"/>
<rect x="240.05" y="332.70" width="10.9" height="1.12" fill="#4a80b8"/>
<rect x="240.05" y="331.58" width="10.9" height="1.12" fill="#ffd200"/>
<rect x="240.05" y="330.46" width="10.9" height="1.12" fill="#c5608b"/>
<rect x="240.05" y="328.23" width="10.9" height="2.24" fill="#f9b9cc"/>
<line x1="245.5" y1="389.2" x2="245.5" y2="391.8" stroke="#333" stroke-width="0.8"/>
<text x="245.1" y="402.3" font-size="7.4" text-anchor="middle" font-weight="normal" font-style="normal" fill="#1a1a1a" stroke="#1a1a1a" stroke-width="0.1">4</text>
<text x="245.1" y="411.5" font-size="7.4" text-anchor="middle" font-weight="normal" font-style="normal" fill="#1a1a1a" stroke="#1a1a1a" stroke-width="0.1">2</text>
<text x="245.1" y="420.7" font-size="7.4" text-anchor="middle" font-weight="normal" font-style="normal" fill="#1a1a1a" stroke="#1a1a1a" stroke-width="0.1">2</text>
<text x="245.1" y="430.0" font-size="7.4" text-anchor="middle" font-weight="normal" font-style="normal" fill="#1a1a1a" stroke="#1a1a1a" stroke-width="0.1">2</text>
<text x="245.1" y="439.2" font-size="7.4" text-anchor="middle" font-weight="normal" font-style="normal" fill="#1a1a1a" stroke="#1a1a1a" stroke-width="0.1">4</text>
<text x="245.1" y="448.4" font-size="7.4" text-anchor="middle" font-weight="normal" font-style="normal" fill="#e3121c" stroke="#e3121c" stroke-width="0.1">50</text>
<text x="245.1" y="457.6" font-size="7.4" text-anchor="middle" font-weight="normal" font-style="normal" fill="#e3121c" stroke="#e3121c" stroke-width="0.1">7</text>
<text x="245.1" y="466.8" font-size="7.4" text-anchor="middle" font-weight="normal" font-style="normal" fill="#e3121c" stroke="#e3121c" stroke-width="0.1">12</text>
<text x="245.1" y="476.1" font-size="7.4" text-anchor="middle" font-weight="normal" font-style="normal" fill="#1a1a1a" stroke="#1a1a1a" stroke-width="0.1">3</text>
<text x="245.1" y="485.3" font-size="7.4" text-anchor="middle" font-weight="normal" font-style="normal" fill="#e3121c" stroke="#e3121c" stroke-width="0.1">15</text>
<text x="245.1" y="494.5" font-size="7.4" text-anchor="middle" font-weight="normal" font-style="normal" fill="#1a1a1a" stroke="#1a1a1a" stroke-width="0.1">0</text>
<line x1="245.0" y1="500" x2="245.0" y2="501.6" stroke="#333" stroke-width="0.9"/>
<text x="246.5" y="508.0" font-size="7.4" fill="#333" text-anchor="end" transform="rotate(-35 246.5 506)">S1</text>
<rect x="255.55" y="380.64" width="10.9" height="4.06" fill="#075e07"/>
<rect x="255.55" y="379.56" width="10.9" height="1.08" fill="#11801a"/>
<rect x="255.55" y="372.79" width="10.9" height="6.77" fill="#22d27a"/>
<rect x="255.55" y="370.36" width="10.9" height="2.44" fill="#5ec820"/>
<rect x="255.55" y="361.97" width="10.9" height="8.39" fill="#9acd32"/>
<rect x="255.55" y="360.88" width="10.9" height="1.08" fill="#c2f244"/>
<rect x="255.55" y="359.80" width="10.9" height="1.08" fill="#4a80b8"/>
<rect x="255.55" y="359.26" width="10.9" height="0.54" fill="#ffd200"/>
<rect x="255.55" y="358.18" width="10.9" height="1.08" fill="#c5608b"/>
<rect x="255.55" y="357.10" width="10.9" height="1.08" fill="#f9b9cc"/>
<line x1="261.0" y1="389.2" x2="261.0" y2="391.8" stroke="#333" stroke-width="0.8"/>
<text x="260.6" y="402.3" font-size="7.4" text-anchor="middle" font-weight="normal" font-style="normal" fill="#1a1a1a" stroke="#1a1a1a" stroke-width="0.1">4</text>
<text x="260.6" y="411.5" font-size="7.4" text-anchor="middle" font-weight="normal" font-style="normal" fill="#1a1a1a" stroke="#1a1a1a" stroke-width="0.1">4</text>
<text x="260.6" y="420.7" font-size="7.4" text-anchor="middle" font-weight="normal" font-style="normal" fill="#1a1a1a" stroke="#1a1a1a" stroke-width="0.1">2</text>
<text x="260.6" y="430.0" font-size="7.4" text-anchor="middle" font-weight="normal" font-style="normal" fill="#1a1a1a" stroke="#1a1a1a" stroke-width="0.1">4</text>
<text x="260.6" y="439.2" font-size="7.4" text-anchor="middle" font-weight="normal" font-style="normal" fill="#1a1a1a" stroke="#1a1a1a" stroke-width="0.1">4</text>
<text x="260.6" y="448.4" font-size="7.4" text-anchor="middle" font-weight="normal" font-style="normal" fill="#e3121c" stroke="#e3121c" stroke-width="0.1">31</text>
<text x="260.6" y="457.6" font-size="7.4" text-anchor="middle" font-weight="normal" font-style="normal" fill="#1a1a1a" stroke="#1a1a1a" stroke-width="0.1">9</text>
<text x="260.6" y="466.8" font-size="7.4" text-anchor="middle" font-weight="normal" font-style="normal" fill="#e3121c" stroke="#e3121c" stroke-width="0.1">25</text>
<text x="260.6" y="476.1" font-size="7.4" text-anchor="middle" font-weight="normal" font-style="normal" fill="#1a1a1a" stroke="#1a1a1a" stroke-width="0.1">4</text>
<text x="260.6" y="485.3" font-size="7.4" text-anchor="middle" font-weight="normal" font-style="normal" fill="#e3121c" stroke="#e3121c" stroke-width="0.1">15</text>
<text x="260.6" y="494.5" font-size="7.4" text-anchor="middle" font-weight="normal" font-style="normal" fill="#1a1a1a" stroke="#1a1a1a" stroke-width="0.1">0</text>
<line x1="260.5" y1="500" x2="260.5" y2="501.6" stroke="#333" stroke-width="0.9"/>
<text x="262.0" y="508.0" font-size="7.4" fill="#333" text-anchor="end" transform="rotate(-35 262.0 506)">S2</text>
<rect x="271.05" y="384.14" width="10.9" height="0.56" fill="#075e07"/>
<rect x="271.05" y="383.57" width="10.9" height="0.56" fill="#22d27a"/>
<rect x="271.05" y="380.86" width="10.9" height="2.72" fill="#9acd32"/>
<rect x="271.05" y="380.29" width="10.9" height="0.56" fill="#4a80b8"/>
<rect x="271.05" y="376.45" width="10.9" height="3.84" fill="#ffd200"/>
<rect x="271.05" y="375.89" width="10.9" height="0.56" fill="#f9b9cc"/>
<line x1="276.5" y1="389.2" x2="276.5" y2="391.8" stroke="#333" stroke-width="0.8"/>
<text x="276.0" y="402.3" font-size="7.4" text-anchor="middle" font-weight="normal" font-style="normal" fill="#1a1a1a" stroke="#1a1a1a" stroke-width="0.1">6</text>
<text x="276.0" y="411.5" font-size="7.4" text-anchor="middle" font-weight="normal" font-style="normal" fill="#1a1a1a" stroke="#1a1a1a" stroke-width="0.1">0</text>
<text x="276.0" y="420.7" font-size="7.4" text-anchor="middle" font-weight="normal" font-style="normal" fill="#1a1a1a" stroke="#1a1a1a" stroke-width="0.1">41</text>
<text x="276.0" y="430.0" font-size="7.4" text-anchor="middle" font-weight="normal" font-style="normal" fill="#1a1a1a" stroke="#1a1a1a" stroke-width="0.1">6</text>
<text x="276.0" y="439.2" font-size="7.4" text-anchor="middle" font-weight="normal" font-style="normal" fill="#1a1a1a" stroke="#1a1a1a" stroke-width="0.1">0</text>
<text x="276.0" y="448.4" font-size="7.4" text-anchor="middle" font-weight="normal" font-style="normal" fill="#1a1a1a" stroke="#1a1a1a" stroke-width="0.1">29</text>
<text x="276.0" y="457.6" font-size="7.4" text-anchor="middle" font-weight="normal" font-style="normal" fill="#1a1a1a" stroke="#1a1a1a" stroke-width="0.1">0</text>
<text x="276.0" y="466.8" font-size="7.4" text-anchor="middle" font-weight="normal" font-style="normal" fill="#1a1a1a" stroke="#1a1a1a" stroke-width="0.1">6</text>
<text x="276.0" y="476.1" font-size="7.4" text-anchor="middle" font-weight="normal" font-style="normal" fill="#1a1a1a" stroke="#1a1a1a" stroke-width="0.1">0</text>
<text x="276.0" y="485.3" font-size="7.4" text-anchor="middle" font-weight="normal" font-style="normal" fill="#1a1a1a" stroke="#1a1a1a" stroke-width="0.1">6</text>
<text x="276.0" y="494.5" font-size="7.4" text-anchor="middle" font-weight="normal" font-style="normal" fill="#1a1a1a" stroke="#1a1a1a" stroke-width="0.1">0</text>
<line x1="276.0" y1="500" x2="276.0" y2="501.6" stroke="#333" stroke-width="0.9"/>
<text x="277.5" y="508.0" font-size="7.4" fill="#333" text-anchor="end" transform="rotate(-35 277.5 506)">S3</text>
<rect x="286.55" y="379.04" width="10.9" height="5.66" fill="#075e07"/>
<rect x="286.55" y="375.01" width="10.9" height="4.04" fill="#5ec820"/>
<rect x="286.55" y="370.16" width="10.9" height="4.85" fill="#9acd32"/>
<rect x="286.55" y="367.73" width="10.9" height="2.42" fill="#c2f244"/>
<rect x="286.55" y="350.77" width="10.9" height="16.97" fill="#4a80b8"/>
<rect x="286.55" y="319.26" width="10.9" height="31.51" fill="#ffd200"/>
<rect x="286.55" y="309.57" width="10.9" height="9.69" fill="#c5608b"/>
<rect x="286.55" y="303.91" width="10.9" height="5.66" fill="#f9b9cc"/>
<line x1="292.0" y1="389.2" x2="292.0" y2="391.8" stroke="#333" stroke-width="0.8"/>
<text x="291.4" y="402.3" font-size="7.4" text-anchor="middle" font-weight="normal" font-style="normal" fill="#1a1a1a" stroke="#1a1a1a" stroke-width="0.1">7</text>
<text x="291.4" y="411.5" font-size="7.4" text-anchor="middle" font-weight="normal" font-style="normal" fill="#1a1a1a" stroke="#1a1a1a" stroke-width="0.1">12</text>
<text x="291.4" y="420.7" font-size="7.4" text-anchor="middle" font-weight="normal" font-style="normal" fill="#1a1a1a" stroke="#1a1a1a" stroke-width="0.1">39</text>
<text x="291.4" y="430.0" font-size="7.4" text-anchor="middle" font-weight="normal" font-style="normal" fill="#1a1a1a" stroke="#1a1a1a" stroke-width="0.1">21</text>
<text x="291.4" y="439.2" font-size="7.4" text-anchor="middle" font-weight="normal" font-style="normal" fill="#1a1a1a" stroke="#1a1a1a" stroke-width="0.1">3</text>
<text x="291.4" y="448.4" font-size="7.4" text-anchor="middle" font-weight="normal" font-style="normal" fill="#1a1a1a" stroke="#1a1a1a" stroke-width="0.1">6</text>
<text x="291.4" y="457.6" font-size="7.4" text-anchor="middle" font-weight="normal" font-style="normal" fill="#1a1a1a" stroke="#1a1a1a" stroke-width="0.1">5</text>
<text x="291.4" y="466.8" font-size="7.4" text-anchor="middle" font-weight="normal" font-style="normal" fill="#1a1a1a" stroke="#1a1a1a" stroke-width="0.1">0</text>
<text x="291.4" y="476.1" font-size="7.4" text-anchor="middle" font-weight="normal" font-style="normal" fill="#1a1a1a" stroke="#1a1a1a" stroke-width="0.1">0</text>
<text x="291.4" y="485.3" font-size="7.4" text-anchor="middle" font-weight="normal" font-style="normal" fill="#1a1a1a" stroke="#1a1a1a" stroke-width="0.1">7</text>
<text x="291.4" y="494.5" font-size="7.4" text-anchor="middle" font-weight="normal" font-style="normal" fill="#1a1a1a" stroke="#1a1a1a" stroke-width="0.1">0</text>
<line x1="291.5" y1="500" x2="291.5" y2="501.6" stroke="#333" stroke-width="0.9"/>
<text x="293.0" y="508.0" font-size="7.4" fill="#333" text-anchor="end" transform="rotate(-35 293.0 506)">M1</text>
<rect x="302.05" y="384.25" width="10.9" height="0.45" fill="#075e07"/>
<rect x="302.05" y="383.34" width="10.9" height="0.91" fill="#5ec820"/>
<rect x="302.05" y="381.98" width="10.9" height="1.36" fill="#9acd32"/>
<rect x="302.05" y="381.52" width="10.9" height="0.45" fill="#4a80b8"/>
<rect x="302.05" y="340.23" width="10.9" height="41.30" fill="#ffd200"/>
<rect x="302.05" y="339.77" width="10.9" height="0.45" fill="#c5608b"/>
<line x1="307.5" y1="389.2" x2="307.5" y2="391.8" stroke="#333" stroke-width="0.8"/>
<text x="306.9" y="402.3" font-size="7.4" text-anchor="middle" font-weight="normal" font-style="normal" fill="#1a1a1a" stroke="#1a1a1a" stroke-width="0.1">0</text>
<text x="306.9" y="411.5" font-size="7.4" text-anchor="middle" font-weight="normal" font-style="normal" fill="#1a1a1a" stroke="#1a1a1a" stroke-width="0.1">1</text>
<text x="306.9" y="420.7" font-size="7.4" text-anchor="middle" font-weight="normal" font-style="normal" fill="#e3121c" stroke="#e3121c" stroke-width="0.1">91</text>
<text x="306.9" y="430.0" font-size="7.4" text-anchor="middle" font-weight="normal" font-style="normal" fill="#1a1a1a" stroke="#1a1a1a" stroke-width="0.1">1</text>
<text x="306.9" y="439.2" font-size="7.4" text-anchor="middle" font-weight="normal" font-style="normal" fill="#1a1a1a" stroke="#1a1a1a" stroke-width="0.1">0</text>
<text x="306.9" y="448.4" font-size="7.4" text-anchor="middle" font-weight="normal" font-style="normal" fill="#1a1a1a" stroke="#1a1a1a" stroke-width="0.1">3</text>
<text x="306.9" y="457.6" font-size="7.4" text-anchor="middle" font-weight="normal" font-style="normal" fill="#1a1a1a" stroke="#1a1a1a" stroke-width="0.1">2</text>
<text x="306.9" y="466.8" font-size="7.4" text-anchor="middle" font-weight="normal" font-style="normal" fill="#1a1a1a" stroke="#1a1a1a" stroke-width="0.1">0</text>
<text x="306.9" y="476.1" font-size="7.4" text-anchor="middle" font-weight="normal" font-style="normal" fill="#1a1a1a" stroke="#1a1a1a" stroke-width="0.1">0</text>
<text x="306.9" y="485.3" font-size="7.4" text-anchor="middle" font-weight="normal" font-style="normal" fill="#1a1a1a" stroke="#1a1a1a" stroke-width="0.1">1</text>
<text x="306.9" y="494.5" font-size="7.4" text-anchor="middle" font-weight="normal" font-style="normal" fill="#1a1a1a" stroke="#1a1a1a" stroke-width="0.1">0</text>
<line x1="307.0" y1="500" x2="307.0" y2="501.6" stroke="#333" stroke-width="0.9"/>
<text x="308.5" y="508.0" font-size="7.4" fill="#333" text-anchor="end" transform="rotate(-35 308.5 506)">M2</text>
<rect x="317.55" y="384.14" width="10.9" height="0.56" fill="#4a80b8"/>
<rect x="317.55" y="373.56" width="10.9" height="10.59" fill="#ffd200"/>
<line x1="323.0" y1="389.2" x2="323.0" y2="391.8" stroke="#333" stroke-width="0.8"/>
<text x="322.4" y="402.3" font-size="7.4" text-anchor="middle" font-weight="normal" font-style="normal" fill="#1a1a1a" stroke="#1a1a1a" stroke-width="0.1">0</text>
<text x="322.4" y="411.5" font-size="7.4" text-anchor="middle" font-weight="normal" font-style="normal" fill="#1a1a1a" stroke="#1a1a1a" stroke-width="0.1">0</text>
<text x="322.4" y="420.7" font-size="7.4" text-anchor="middle" font-weight="normal" font-style="normal" fill="#e3121c" stroke="#e3121c" stroke-width="0.1">95</text>
<text x="322.4" y="430.0" font-size="7.4" text-anchor="middle" font-weight="normal" font-style="normal" fill="#1a1a1a" stroke="#1a1a1a" stroke-width="0.1">5</text>
<text x="322.4" y="439.2" font-size="7.4" text-anchor="middle" font-weight="normal" font-style="normal" fill="#1a1a1a" stroke="#1a1a1a" stroke-width="0.1">0</text>
<text x="322.4" y="448.4" font-size="7.4" text-anchor="middle" font-weight="normal" font-style="normal" fill="#1a1a1a" stroke="#1a1a1a" stroke-width="0.1">0</text>
<text x="322.4" y="457.6" font-size="7.4" text-anchor="middle" font-weight="normal" font-style="normal" fill="#1a1a1a" stroke="#1a1a1a" stroke-width="0.1">0</text>
<text x="322.4" y="466.8" font-size="7.4" text-anchor="middle" font-weight="normal" font-style="normal" fill="#1a1a1a" stroke="#1a1a1a" stroke-width="0.1">0</text>
<text x="322.4" y="476.1" font-size="7.4" text-anchor="middle" font-weight="normal" font-style="normal" fill="#1a1a1a" stroke="#1a1a1a" stroke-width="0.1">0</text>
<text x="322.4" y="485.3" font-size="7.4" text-anchor="middle" font-weight="normal" font-style="normal" fill="#1a1a1a" stroke="#1a1a1a" stroke-width="0.1">0</text>
<text x="322.4" y="494.5" font-size="7.4" text-anchor="middle" font-weight="normal" font-style="normal" fill="#1a1a1a" stroke="#1a1a1a" stroke-width="0.1">0</text>
<line x1="322.5" y1="500" x2="322.5" y2="501.6" stroke="#333" stroke-width="0.9"/>
<text x="324.0" y="508.0" font-size="7.4" fill="#333" text-anchor="end" transform="rotate(-35 324.0 506)">M3</text>
<rect x="333.05" y="384.19" width="10.9" height="0.51" fill="#c2f244"/>
<rect x="333.05" y="383.69" width="10.9" height="0.51" fill="#4a80b8"/>
<rect x="333.05" y="372.04" width="10.9" height="11.65" fill="#ffd200"/>
<line x1="338.5" y1="389.2" x2="338.5" y2="391.8" stroke="#333" stroke-width="0.8"/>
<text x="337.8" y="402.3" font-size="7.4" text-anchor="middle" font-weight="normal" font-style="normal" fill="#1a1a1a" stroke="#1a1a1a" stroke-width="0.1">0</text>
<text x="337.8" y="411.5" font-size="7.4" text-anchor="middle" font-weight="normal" font-style="normal" fill="#1a1a1a" stroke="#1a1a1a" stroke-width="0.1">0</text>
<text x="337.8" y="420.7" font-size="7.4" text-anchor="middle" font-weight="normal" font-style="normal" fill="#e3121c" stroke="#e3121c" stroke-width="0.1">92</text>
<text x="337.8" y="430.0" font-size="7.4" text-anchor="middle" font-weight="normal" font-style="normal" fill="#1a1a1a" stroke="#1a1a1a" stroke-width="0.1">4</text>
<text x="337.8" y="439.2" font-size="7.4" text-anchor="middle" font-weight="normal" font-style="normal" fill="#1a1a1a" stroke="#1a1a1a" stroke-width="0.1">4</text>
<text x="337.8" y="448.4" font-size="7.4" text-anchor="middle" font-weight="normal" font-style="normal" fill="#1a1a1a" stroke="#1a1a1a" stroke-width="0.1">0</text>
<text x="337.8" y="457.6" font-size="7.4" text-anchor="middle" font-weight="normal" font-style="normal" fill="#1a1a1a" stroke="#1a1a1a" stroke-width="0.1">0</text>
<text x="337.8" y="466.8" font-size="7.4" text-anchor="middle" font-weight="normal" font-style="normal" fill="#1a1a1a" stroke="#1a1a1a" stroke-width="0.1">0</text>
<text x="337.8" y="476.1" font-size="7.4" text-anchor="middle" font-weight="normal" font-style="normal" fill="#1a1a1a" stroke="#1a1a1a" stroke-width="0.1">0</text>
<text x="337.8" y="485.3" font-size="7.4" text-anchor="middle" font-weight="normal" font-style="normal" fill="#1a1a1a" stroke="#1a1a1a" stroke-width="0.1">0</text>
<text x="337.8" y="494.5" font-size="7.4" text-anchor="middle" font-weight="normal" font-style="normal" fill="#1a1a1a" stroke="#1a1a1a" stroke-width="0.1">0</text>
<line x1="338.0" y1="500" x2="338.0" y2="501.6" stroke="#333" stroke-width="0.9"/>
<text x="339.5" y="508.0" font-size="7.4" fill="#333" text-anchor="end" transform="rotate(-35 339.5 506)">M4</text>
<rect x="348.55" y="383.64" width="10.9" height="1.06" fill="#9acd32"/>
<rect x="348.55" y="383.11" width="10.9" height="0.53" fill="#4a80b8"/>
<rect x="348.55" y="358.16" width="10.9" height="24.95" fill="#ffd200"/>
<line x1="354.0" y1="389.2" x2="354.0" y2="391.8" stroke="#333" stroke-width="0.8"/>
<text x="353.2" y="402.3" font-size="7.4" text-anchor="middle" font-weight="normal" font-style="normal" fill="#1a1a1a" stroke="#1a1a1a" stroke-width="0.1">0</text>
<text x="353.2" y="411.5" font-size="7.4" text-anchor="middle" font-weight="normal" font-style="normal" fill="#1a1a1a" stroke="#1a1a1a" stroke-width="0.1">0</text>
<text x="353.2" y="420.7" font-size="7.4" text-anchor="middle" font-weight="normal" font-style="normal" fill="#e3121c" stroke="#e3121c" stroke-width="0.1">94</text>
<text x="353.2" y="430.0" font-size="7.4" text-anchor="middle" font-weight="normal" font-style="normal" fill="#1a1a1a" stroke="#1a1a1a" stroke-width="0.1">2</text>
<text x="353.2" y="439.2" font-size="7.4" text-anchor="middle" font-weight="normal" font-style="normal" fill="#1a1a1a" stroke="#1a1a1a" stroke-width="0.1">0</text>
<text x="353.2" y="448.4" font-size="7.4" text-anchor="middle" font-weight="normal" font-style="normal" fill="#1a1a1a" stroke="#1a1a1a" stroke-width="0.1">4</text>
<text x="353.2" y="457.6" font-size="7.4" text-anchor="middle" font-weight="normal" font-style="normal" fill="#1a1a1a" stroke="#1a1a1a" stroke-width="0.1">0</text>
<text x="353.2" y="466.8" font-size="7.4" text-anchor="middle" font-weight="normal" font-style="normal" fill="#1a1a1a" stroke="#1a1a1a" stroke-width="0.1">0</text>
<text x="353.2" y="476.1" font-size="7.4" text-anchor="middle" font-weight="normal" font-style="normal" fill="#1a1a1a" stroke="#1a1a1a" stroke-width="0.1">0</text>
<text x="353.2" y="485.3" font-size="7.4" text-anchor="middle" font-weight="normal" font-style="normal" fill="#1a1a1a" stroke="#1a1a1a" stroke-width="0.1">0</text>
<text x="353.2" y="494.5" font-size="7.4" text-anchor="middle" font-weight="normal" font-style="normal" fill="#1a1a1a" stroke="#1a1a1a" stroke-width="0.1">0</text>
<line x1="353.5" y1="500" x2="353.5" y2="501.6" stroke="#333" stroke-width="0.9"/>
<text x="355.0" y="508.0" font-size="7.4" fill="#333" text-anchor="end" transform="rotate(-35 355.0 506)">M5</text>
<rect x="364.05" y="384.09" width="10.9" height="0.61" fill="#b9b3d6"/>
<line x1="369.5" y1="389.2" x2="369.5" y2="391.8" stroke="#333" stroke-width="0.8"/>
<text x="368.7" y="402.3" font-size="7.4" text-anchor="middle" font-weight="normal" font-style="normal" fill="#1a1a1a" stroke="#1a1a1a" stroke-width="0.1">0</text>
<text x="368.7" y="411.5" font-size="7.4" text-anchor="middle" font-weight="normal" font-style="normal" fill="#1a1a1a" stroke="#1a1a1a" stroke-width="0.1">0</text>
<text x="368.7" y="420.7" font-size="7.4" text-anchor="middle" font-weight="normal" font-style="normal" fill="#1a1a1a" stroke="#1a1a1a" stroke-width="0.1">0</text>
<text x="368.7" y="430.0" font-size="7.4" text-anchor="middle" font-weight="normal" font-style="normal" fill="#1a1a1a" stroke="#1a1a1a" stroke-width="0.1">0</text>
<text x="368.7" y="439.2" font-size="7.4" text-anchor="middle" font-weight="normal" font-style="normal" fill="#1a1a1a" stroke="#1a1a1a" stroke-width="0.1">0</text>
<text x="368.7" y="448.4" font-size="7.4" text-anchor="middle" font-weight="normal" font-style="normal" fill="#1a1a1a" stroke="#1a1a1a" stroke-width="0.1">0</text>
<text x="368.7" y="457.6" font-size="7.4" text-anchor="middle" font-weight="normal" font-style="normal" fill="#1a1a1a" stroke="#1a1a1a" stroke-width="0.1">0</text>
<text x="368.7" y="466.8" font-size="7.4" text-anchor="middle" font-weight="normal" font-style="normal" fill="#1a1a1a" stroke="#1a1a1a" stroke-width="0.1">0</text>
<text x="368.7" y="476.1" font-size="7.4" text-anchor="middle" font-weight="normal" font-style="normal" fill="#1a1a1a" stroke="#1a1a1a" stroke-width="0.1">0</text>
<text x="368.7" y="485.3" font-size="7.4" text-anchor="middle" font-weight="normal" font-style="normal" fill="#1a1a1a" stroke="#1a1a1a" stroke-width="0.1">0</text>
<text x="368.7" y="494.5" font-size="7.4" text-anchor="middle" font-weight="normal" font-style="normal" fill="#1a1a1a" stroke="#1a1a1a" stroke-width="0.1">0</text>
<line x1="369.0" y1="500" x2="369.0" y2="501.6" stroke="#333" stroke-width="0.9"/>
<text x="370.5" y="508.0" font-size="7.4" fill="#333" text-anchor="end" transform="rotate(-35 370.5 506)">N1</text>
<rect x="379.55" y="382.49" width="10.9" height="2.21" fill="#463c94"/>
<rect x="379.55" y="379.19" width="10.9" height="3.31" fill="#075e07"/>
<rect x="379.55" y="378.08" width="10.9" height="1.10" fill="#22d27a"/>
<rect x="379.55" y="372.57" width="10.9" height="5.51" fill="#5ec820"/>
<rect x="379.55" y="369.26" width="10.9" height="3.31" fill="#9acd32"/>
<rect x="379.55" y="365.96" width="10.9" height="3.31" fill="#c2f244"/>
<rect x="379.55" y="313.04" width="10.9" height="52.92" fill="#4a80b8"/>
<rect x="379.55" y="312.38" width="10.9" height="0.66" fill="#ffd200"/>
<rect x="379.55" y="288.12" width="10.9" height="24.26" fill="#c5608b"/>
<rect x="379.55" y="274.89" width="10.9" height="13.23" fill="#f9b9cc"/>
<line x1="385.0" y1="389.2" x2="385.0" y2="391.8" stroke="#333" stroke-width="0.8"/>
<text x="384.1" y="402.3" font-size="7.4" text-anchor="middle" font-weight="normal" font-style="normal" fill="#1a1a1a" stroke="#1a1a1a" stroke-width="0.1">12</text>
<text x="384.1" y="411.5" font-size="7.4" text-anchor="middle" font-weight="normal" font-style="normal" fill="#1a1a1a" stroke="#1a1a1a" stroke-width="0.1">22</text>
<text x="384.1" y="420.7" font-size="7.4" text-anchor="middle" font-weight="normal" font-style="normal" fill="#1a1a1a" stroke="#1a1a1a" stroke-width="0.1">0</text>
<text x="384.1" y="430.0" font-size="7.4" text-anchor="middle" font-weight="normal" font-style="normal" fill="#e3121c" stroke="#e3121c" stroke-width="0.1">48</text>
<text x="384.1" y="439.2" font-size="7.4" text-anchor="middle" font-weight="normal" font-style="normal" fill="#1a1a1a" stroke="#1a1a1a" stroke-width="0.1">3</text>
<text x="384.1" y="448.4" font-size="7.4" text-anchor="middle" font-weight="normal" font-style="normal" fill="#1a1a1a" stroke="#1a1a1a" stroke-width="0.1">3</text>
<text x="384.1" y="457.6" font-size="7.4" text-anchor="middle" font-weight="normal" font-style="normal" fill="#1a1a1a" stroke="#1a1a1a" stroke-width="0.1">5</text>
<text x="384.1" y="466.8" font-size="7.4" text-anchor="middle" font-weight="normal" font-style="normal" fill="#1a1a1a" stroke="#1a1a1a" stroke-width="0.1">1</text>
<text x="384.1" y="476.1" font-size="7.4" text-anchor="middle" font-weight="normal" font-style="normal" fill="#1a1a1a" stroke="#1a1a1a" stroke-width="0.1">0</text>
<text x="384.1" y="485.3" font-size="7.4" text-anchor="middle" font-weight="normal" font-style="normal" fill="#1a1a1a" stroke="#1a1a1a" stroke-width="0.1">3</text>
<text x="384.1" y="494.5" font-size="7.4" text-anchor="middle" font-weight="normal" font-style="normal" fill="#1a1a1a" stroke="#1a1a1a" stroke-width="0.1">2</text>
<line x1="384.5" y1="500" x2="384.5" y2="501.6" stroke="#333" stroke-width="0.9"/>
<text x="386.0" y="508.0" font-size="7.4" fill="#333" text-anchor="end" transform="rotate(-35 386.0 506)">N2</text>
<rect x="395.05" y="372.66" width="10.9" height="12.04" fill="#463c94"/>
<rect x="395.05" y="371.76" width="10.9" height="0.90" fill="#075e07"/>
<rect x="395.05" y="363.04" width="10.9" height="8.73" fill="#4a80b8"/>
<rect x="395.05" y="357.32" width="10.9" height="5.72" fill="#c5608b"/>
<rect x="395.05" y="354.31" width="10.9" height="3.01" fill="#f9b9cc"/>
<line x1="400.5" y1="389.2" x2="400.5" y2="391.8" stroke="#333" stroke-width="0.8"/>
<text x="399.6" y="402.3" font-size="7.4" text-anchor="middle" font-weight="normal" font-style="normal" fill="#1a1a1a" stroke="#1a1a1a" stroke-width="0.1">10</text>
<text x="399.6" y="411.5" font-size="7.4" text-anchor="middle" font-weight="normal" font-style="normal" fill="#1a1a1a" stroke="#1a1a1a" stroke-width="0.1">19</text>
<text x="399.6" y="420.7" font-size="7.4" text-anchor="middle" font-weight="normal" font-style="normal" fill="#1a1a1a" stroke="#1a1a1a" stroke-width="0.1">0</text>
<text x="399.6" y="430.0" font-size="7.4" text-anchor="middle" font-weight="normal" font-style="normal" fill="#1a1a1a" stroke="#1a1a1a" stroke-width="0.1">29</text>
<text x="399.6" y="439.2" font-size="7.4" text-anchor="middle" font-weight="normal" font-style="normal" fill="#1a1a1a" stroke="#1a1a1a" stroke-width="0.1">0</text>
<text x="399.6" y="448.4" font-size="7.4" text-anchor="middle" font-weight="normal" font-style="normal" fill="#1a1a1a" stroke="#1a1a1a" stroke-width="0.1">0</text>
<text x="399.6" y="457.6" font-size="7.4" text-anchor="middle" font-weight="normal" font-style="normal" fill="#1a1a1a" stroke="#1a1a1a" stroke-width="0.1">0</text>
<text x="399.6" y="466.8" font-size="7.4" text-anchor="middle" font-weight="normal" font-style="normal" fill="#1a1a1a" stroke="#1a1a1a" stroke-width="0.1">0</text>
<text x="399.6" y="476.1" font-size="7.4" text-anchor="middle" font-weight="normal" font-style="normal" fill="#1a1a1a" stroke="#1a1a1a" stroke-width="0.1">0</text>
<text x="399.6" y="485.3" font-size="7.4" text-anchor="middle" font-weight="normal" font-style="normal" fill="#1a1a1a" stroke="#1a1a1a" stroke-width="0.1">3</text>
<text x="399.6" y="494.5" font-size="7.4" text-anchor="middle" font-weight="normal" font-style="normal" fill="#e3121c" stroke="#e3121c" stroke-width="0.1">40</text>
<line x1="400.0" y1="500" x2="400.0" y2="501.6" stroke="#333" stroke-width="0.9"/>
<text x="401.5" y="508.0" font-size="7.4" fill="#333" text-anchor="end" transform="rotate(-35 401.5 506)">N3</text>
<rect x="410.55" y="383.66" width="10.9" height="1.04" fill="#075e07"/>
<rect x="410.55" y="383.14" width="10.9" height="0.52" fill="#5ec820"/>
<rect x="410.55" y="382.62" width="10.9" height="0.52" fill="#9acd32"/>
<rect x="410.55" y="379.51" width="10.9" height="3.11" fill="#4a80b8"/>
<rect x="410.55" y="371.38" width="10.9" height="8.13" fill="#c5608b"/>
<rect x="410.55" y="367.23" width="10.9" height="4.15" fill="#f9b9cc"/>
<line x1="416.0" y1="389.2" x2="416.0" y2="391.8" stroke="#333" stroke-width="0.8"/>
<text x="415.0" y="402.3" font-size="7.4" text-anchor="middle" font-weight="normal" font-style="normal" fill="#1a1a1a" stroke="#1a1a1a" stroke-width="0.1">24</text>
<text x="415.0" y="411.5" font-size="7.4" text-anchor="middle" font-weight="normal" font-style="normal" fill="#e3121c" stroke="#e3121c" stroke-width="0.1">47</text>
<text x="415.0" y="420.7" font-size="7.4" text-anchor="middle" font-weight="normal" font-style="normal" fill="#1a1a1a" stroke="#1a1a1a" stroke-width="0.1">0</text>
<text x="415.0" y="430.0" font-size="7.4" text-anchor="middle" font-weight="normal" font-style="normal" fill="#1a1a1a" stroke="#1a1a1a" stroke-width="0.1">18</text>
<text x="415.0" y="439.2" font-size="7.4" text-anchor="middle" font-weight="normal" font-style="normal" fill="#1a1a1a" stroke="#1a1a1a" stroke-width="0.1">0</text>
<text x="415.0" y="448.4" font-size="7.4" text-anchor="middle" font-weight="normal" font-style="normal" fill="#1a1a1a" stroke="#1a1a1a" stroke-width="0.1">3</text>
<text x="415.0" y="457.6" font-size="7.4" text-anchor="middle" font-weight="normal" font-style="normal" fill="#1a1a1a" stroke="#1a1a1a" stroke-width="0.1">3</text>
<text x="415.0" y="466.8" font-size="7.4" text-anchor="middle" font-weight="normal" font-style="normal" fill="#1a1a1a" stroke="#1a1a1a" stroke-width="0.1">0</text>
<text x="415.0" y="476.1" font-size="7.4" text-anchor="middle" font-weight="normal" font-style="normal" fill="#1a1a1a" stroke="#1a1a1a" stroke-width="0.1">0</text>
<text x="415.0" y="485.3" font-size="7.4" text-anchor="middle" font-weight="normal" font-style="normal" fill="#1a1a1a" stroke="#1a1a1a" stroke-width="0.1">6</text>
<text x="415.0" y="494.5" font-size="7.4" text-anchor="middle" font-weight="normal" font-style="normal" fill="#1a1a1a" stroke="#1a1a1a" stroke-width="0.1">0</text>
<line x1="415.5" y1="500" x2="415.5" y2="501.6" stroke="#333" stroke-width="0.9"/>
<text x="417.0" y="508.0" font-size="7.4" fill="#333" text-anchor="end" transform="rotate(-35 417.0 506)">C1</text>
<rect x="426.05" y="384.11" width="10.9" height="0.59" fill="#075e07"/>
<rect x="426.05" y="383.53" width="10.9" height="0.59" fill="#22d27a"/>
<rect x="426.05" y="382.94" width="10.9" height="0.59" fill="#4a80b8"/>
<rect x="426.05" y="370.42" width="10.9" height="12.52" fill="#c5608b"/>
<rect x="426.05" y="364.95" width="10.9" height="5.48" fill="#f9b9cc"/>
<line x1="431.5" y1="389.2" x2="431.5" y2="391.8" stroke="#333" stroke-width="0.8"/>
<text x="430.5" y="402.3" font-size="7.4" text-anchor="middle" font-weight="normal" font-style="normal" fill="#1a1a1a" stroke="#1a1a1a" stroke-width="0.1">28</text>
<text x="430.5" y="411.5" font-size="7.4" text-anchor="middle" font-weight="normal" font-style="normal" fill="#e3121c" stroke="#e3121c" stroke-width="0.1">64</text>
<text x="430.5" y="420.7" font-size="7.4" text-anchor="middle" font-weight="normal" font-style="normal" fill="#1a1a1a" stroke="#1a1a1a" stroke-width="0.1">0</text>
<text x="430.5" y="430.0" font-size="7.4" text-anchor="middle" font-weight="normal" font-style="normal" fill="#1a1a1a" stroke="#1a1a1a" stroke-width="0.1">3</text>
<text x="430.5" y="439.2" font-size="7.4" text-anchor="middle" font-weight="normal" font-style="normal" fill="#1a1a1a" stroke="#1a1a1a" stroke-width="0.1">0</text>
<text x="430.5" y="448.4" font-size="7.4" text-anchor="middle" font-weight="normal" font-style="normal" fill="#1a1a1a" stroke="#1a1a1a" stroke-width="0.1">0</text>
<text x="430.5" y="457.6" font-size="7.4" text-anchor="middle" font-weight="normal" font-style="normal" fill="#1a1a1a" stroke="#1a1a1a" stroke-width="0.1">0</text>
<text x="430.5" y="466.8" font-size="7.4" text-anchor="middle" font-weight="normal" font-style="normal" fill="#1a1a1a" stroke="#1a1a1a" stroke-width="0.1">3</text>
<text x="430.5" y="476.1" font-size="7.4" text-anchor="middle" font-weight="normal" font-style="normal" fill="#1a1a1a" stroke="#1a1a1a" stroke-width="0.1">0</text>
<text x="430.5" y="485.3" font-size="7.4" text-anchor="middle" font-weight="normal" font-style="normal" fill="#1a1a1a" stroke="#1a1a1a" stroke-width="0.1">3</text>
<text x="430.5" y="494.5" font-size="7.4" text-anchor="middle" font-weight="normal" font-style="normal" fill="#1a1a1a" stroke="#1a1a1a" stroke-width="0.1">0</text>
<line x1="431.0" y1="500" x2="431.0" y2="501.6" stroke="#333" stroke-width="0.9"/>
<text x="432.5" y="508.0" font-size="7.4" fill="#333" text-anchor="end" transform="rotate(-35 432.5 506)">C2</text>
<rect x="441.55" y="384.13" width="10.9" height="0.57" fill="#11801a"/>
<rect x="441.55" y="376.94" width="10.9" height="7.18" fill="#4a80b8"/>
<rect x="441.55" y="375.79" width="10.9" height="1.15" fill="#ffd200"/>
<rect x="441.55" y="359.70" width="10.9" height="16.09" fill="#c5608b"/>
<rect x="441.55" y="355.68" width="10.9" height="4.02" fill="#f9b9cc"/>
<line x1="447.0" y1="389.2" x2="447.0" y2="391.8" stroke="#333" stroke-width="0.8"/>
<text x="445.9" y="402.3" font-size="7.4" text-anchor="middle" font-weight="normal" font-style="normal" fill="#1a1a1a" stroke="#1a1a1a" stroke-width="0.1">14</text>
<text x="445.9" y="411.5" font-size="7.4" text-anchor="middle" font-weight="normal" font-style="normal" fill="#e3121c" stroke="#e3121c" stroke-width="0.1">56</text>
<text x="445.9" y="420.7" font-size="7.4" text-anchor="middle" font-weight="normal" font-style="normal" fill="#1a1a1a" stroke="#1a1a1a" stroke-width="0.1">4</text>
<text x="445.9" y="430.0" font-size="7.4" text-anchor="middle" font-weight="normal" font-style="normal" fill="#1a1a1a" stroke="#1a1a1a" stroke-width="0.1">25</text>
<text x="445.9" y="439.2" font-size="7.4" text-anchor="middle" font-weight="normal" font-style="normal" fill="#1a1a1a" stroke="#1a1a1a" stroke-width="0.1">0</text>
<text x="445.9" y="448.4" font-size="7.4" text-anchor="middle" font-weight="normal" font-style="normal" fill="#1a1a1a" stroke="#1a1a1a" stroke-width="0.1">0</text>
<text x="445.9" y="457.6" font-size="7.4" text-anchor="middle" font-weight="normal" font-style="normal" fill="#1a1a1a" stroke="#1a1a1a" stroke-width="0.1">0</text>
<text x="445.9" y="466.8" font-size="7.4" text-anchor="middle" font-weight="normal" font-style="normal" fill="#1a1a1a" stroke="#1a1a1a" stroke-width="0.1">0</text>
<text x="445.9" y="476.1" font-size="7.4" text-anchor="middle" font-weight="normal" font-style="normal" fill="#1a1a1a" stroke="#1a1a1a" stroke-width="0.1">2</text>
<text x="445.9" y="485.3" font-size="7.4" text-anchor="middle" font-weight="normal" font-style="normal" fill="#1a1a1a" stroke="#1a1a1a" stroke-width="0.1">0</text>
<text x="445.9" y="494.5" font-size="7.4" text-anchor="middle" font-weight="normal" font-style="normal" fill="#1a1a1a" stroke="#1a1a1a" stroke-width="0.1">0</text>
<line x1="446.5" y1="500" x2="446.5" y2="501.6" stroke="#333" stroke-width="0.9"/>
<text x="448.0" y="508.0" font-size="7.4" fill="#333" text-anchor="end" transform="rotate(-35 448.0 506)">C3</text>
<rect x="457.05" y="384.17" width="10.9" height="0.53" fill="#11801a"/>
<rect x="457.05" y="379.56" width="10.9" height="4.61" fill="#4a80b8"/>
<rect x="457.05" y="369.45" width="10.9" height="10.10" fill="#c5608b"/>
<rect x="457.05" y="366.97" width="10.9" height="2.48" fill="#f9b9cc"/>
<line x1="462.5" y1="389.2" x2="462.5" y2="391.8" stroke="#333" stroke-width="0.8"/>
<text x="461.4" y="402.3" font-size="7.4" text-anchor="middle" font-weight="normal" font-style="normal" fill="#1a1a1a" stroke="#1a1a1a" stroke-width="0.1">14</text>
<text x="461.4" y="411.5" font-size="7.4" text-anchor="middle" font-weight="normal" font-style="normal" fill="#e3121c" stroke="#e3121c" stroke-width="0.1">57</text>
<text x="461.4" y="420.7" font-size="7.4" text-anchor="middle" font-weight="normal" font-style="normal" fill="#1a1a1a" stroke="#1a1a1a" stroke-width="0.1">0</text>
<text x="461.4" y="430.0" font-size="7.4" text-anchor="middle" font-weight="normal" font-style="normal" fill="#1a1a1a" stroke="#1a1a1a" stroke-width="0.1">26</text>
<text x="461.4" y="439.2" font-size="7.4" text-anchor="middle" font-weight="normal" font-style="normal" fill="#1a1a1a" stroke="#1a1a1a" stroke-width="0.1">0</text>
<text x="461.4" y="448.4" font-size="7.4" text-anchor="middle" font-weight="normal" font-style="normal" fill="#1a1a1a" stroke="#1a1a1a" stroke-width="0.1">0</text>
<text x="461.4" y="457.6" font-size="7.4" text-anchor="middle" font-weight="normal" font-style="normal" fill="#1a1a1a" stroke="#1a1a1a" stroke-width="0.1">0</text>
<text x="461.4" y="466.8" font-size="7.4" text-anchor="middle" font-weight="normal" font-style="normal" fill="#1a1a1a" stroke="#1a1a1a" stroke-width="0.1">0</text>
<text x="461.4" y="476.1" font-size="7.4" text-anchor="middle" font-weight="normal" font-style="normal" fill="#1a1a1a" stroke="#1a1a1a" stroke-width="0.1">3</text>
<text x="461.4" y="485.3" font-size="7.4" text-anchor="middle" font-weight="normal" font-style="normal" fill="#1a1a1a" stroke="#1a1a1a" stroke-width="0.1">0</text>
<text x="461.4" y="494.5" font-size="7.4" text-anchor="middle" font-weight="normal" font-style="normal" fill="#1a1a1a" stroke="#1a1a1a" stroke-width="0.1">0</text>
<line x1="462.0" y1="500" x2="462.0" y2="501.6" stroke="#333" stroke-width="0.9"/>
<text x="463.5" y="508.0" font-size="7.4" fill="#333" text-anchor="end" transform="rotate(-35 463.5 506)">C4</text>
<rect x="472.55" y="382.15" width="10.9" height="2.55" fill="#4a80b8"/>
<rect x="472.55" y="380.90" width="10.9" height="1.25" fill="#c5608b"/>
<line x1="478.0" y1="389.2" x2="478.0" y2="391.8" stroke="#333" stroke-width="0.8"/>
<text x="476.9" y="402.3" font-size="7.4" text-anchor="middle" font-weight="normal" font-style="normal" fill="#1a1a1a" stroke="#1a1a1a" stroke-width="0.1">0</text>
<text x="476.9" y="411.5" font-size="7.4" text-anchor="middle" font-weight="normal" font-style="normal" fill="#1a1a1a" stroke="#1a1a1a" stroke-width="0.1">33</text>
<text x="476.9" y="420.7" font-size="7.4" text-anchor="middle" font-weight="normal" font-style="normal" fill="#1a1a1a" stroke="#1a1a1a" stroke-width="0.1">0</text>
<text x="476.9" y="430.0" font-size="7.4" text-anchor="middle" font-weight="normal" font-style="normal" fill="#1a1a1a" stroke="#1a1a1a" stroke-width="0.1">67</text>
<text x="476.9" y="439.2" font-size="7.4" text-anchor="middle" font-weight="normal" font-style="normal" fill="#1a1a1a" stroke="#1a1a1a" stroke-width="0.1">0</text>
<text x="476.9" y="448.4" font-size="7.4" text-anchor="middle" font-weight="normal" font-style="normal" fill="#1a1a1a" stroke="#1a1a1a" stroke-width="0.1">0</text>
<text x="476.9" y="457.6" font-size="7.4" text-anchor="middle" font-weight="normal" font-style="normal" fill="#1a1a1a" stroke="#1a1a1a" stroke-width="0.1">0</text>
<text x="476.9" y="466.8" font-size="7.4" text-anchor="middle" font-weight="normal" font-style="normal" fill="#1a1a1a" stroke="#1a1a1a" stroke-width="0.1">0</text>
<text x="476.9" y="476.1" font-size="7.4" text-anchor="middle" font-weight="normal" font-style="normal" fill="#1a1a1a" stroke="#1a1a1a" stroke-width="0.1">0</text>
<text x="476.9" y="485.3" font-size="7.4" text-anchor="middle" font-weight="normal" font-style="normal" fill="#1a1a1a" stroke="#1a1a1a" stroke-width="0.1">0</text>
<text x="476.9" y="494.5" font-size="7.4" text-anchor="middle" font-weight="normal" font-style="normal" fill="#1a1a1a" stroke="#1a1a1a" stroke-width="0.1">0</text>
<line x1="477.5" y1="500" x2="477.5" y2="501.6" stroke="#333" stroke-width="0.9"/>
<text x="479.0" y="508.0" font-size="7.4" fill="#333" text-anchor="end" transform="rotate(-35 479.0 506)">C5</text>
<rect x="488.05" y="384.16" width="10.9" height="0.54" fill="#075e07"/>
<rect x="488.05" y="383.63" width="10.9" height="0.54" fill="#9acd32"/>
<rect x="488.05" y="382.56" width="10.9" height="1.07" fill="#c2f244"/>
<rect x="488.05" y="373.99" width="10.9" height="8.57" fill="#4a80b8"/>
<rect x="488.05" y="373.45" width="10.9" height="0.54" fill="#ffd200"/>
<rect x="488.05" y="362.74" width="10.9" height="10.71" fill="#c5608b"/>
<rect x="488.05" y="357.65" width="10.9" height="5.09" fill="#f9b9cc"/>
<line x1="493.5" y1="389.2" x2="493.5" y2="391.8" stroke="#333" stroke-width="0.8"/>
<text x="492.3" y="402.3" font-size="7.4" text-anchor="middle" font-weight="normal" font-style="normal" fill="#1a1a1a" stroke="#1a1a1a" stroke-width="0.1">19</text>
<text x="492.3" y="411.5" font-size="7.4" text-anchor="middle" font-weight="normal" font-style="normal" fill="#e3121c" stroke="#e3121c" stroke-width="0.1">40</text>
<text x="492.3" y="420.7" font-size="7.4" text-anchor="middle" font-weight="normal" font-style="normal" fill="#1a1a1a" stroke="#1a1a1a" stroke-width="0.1">2</text>
<text x="492.3" y="430.0" font-size="7.4" text-anchor="middle" font-weight="normal" font-style="normal" fill="#1a1a1a" stroke="#1a1a1a" stroke-width="0.1">32</text>
<text x="492.3" y="439.2" font-size="7.4" text-anchor="middle" font-weight="normal" font-style="normal" fill="#1a1a1a" stroke="#1a1a1a" stroke-width="0.1">4</text>
<text x="492.3" y="448.4" font-size="7.4" text-anchor="middle" font-weight="normal" font-style="normal" fill="#1a1a1a" stroke="#1a1a1a" stroke-width="0.1">2</text>
<text x="492.3" y="457.6" font-size="7.4" text-anchor="middle" font-weight="normal" font-style="normal" fill="#1a1a1a" stroke="#1a1a1a" stroke-width="0.1">0</text>
<text x="492.3" y="466.8" font-size="7.4" text-anchor="middle" font-weight="normal" font-style="normal" fill="#1a1a1a" stroke="#1a1a1a" stroke-width="0.1">0</text>
<text x="492.3" y="476.1" font-size="7.4" text-anchor="middle" font-weight="normal" font-style="normal" fill="#1a1a1a" stroke="#1a1a1a" stroke-width="0.1">0</text>
<text x="492.3" y="485.3" font-size="7.4" text-anchor="middle" font-weight="normal" font-style="normal" fill="#1a1a1a" stroke="#1a1a1a" stroke-width="0.1">2</text>
<text x="492.3" y="494.5" font-size="7.4" text-anchor="middle" font-weight="normal" font-style="normal" fill="#1a1a1a" stroke="#1a1a1a" stroke-width="0.1">0</text>
<line x1="493.0" y1="500" x2="493.0" y2="501.6" stroke="#333" stroke-width="0.9"/>
<text x="494.5" y="508.0" font-size="7.4" fill="#333" text-anchor="end" transform="rotate(-35 494.5 506)">C6</text>
<rect x="503.55" y="358.48" width="10.9" height="26.22" fill="#463c94"/>
<rect x="503.55" y="357.56" width="10.9" height="0.93" fill="#c5608b"/>
<rect x="503.55" y="353.85" width="10.9" height="3.70" fill="#f9b9cc"/>
<line x1="509.0" y1="389.2" x2="509.0" y2="391.8" stroke="#333" stroke-width="0.8"/>
<text x="507.8" y="402.3" font-size="7.4" text-anchor="middle" font-weight="normal" font-style="normal" fill="#1a1a1a" stroke="#1a1a1a" stroke-width="0.1">12</text>
<text x="507.8" y="411.5" font-size="7.4" text-anchor="middle" font-weight="normal" font-style="normal" fill="#1a1a1a" stroke="#1a1a1a" stroke-width="0.1">3</text>
<text x="507.8" y="420.7" font-size="7.4" text-anchor="middle" font-weight="normal" font-style="normal" fill="#1a1a1a" stroke="#1a1a1a" stroke-width="0.1">0</text>
<text x="507.8" y="430.0" font-size="7.4" text-anchor="middle" font-weight="normal" font-style="normal" fill="#1a1a1a" stroke="#1a1a1a" stroke-width="0.1">0</text>
<text x="507.8" y="439.2" font-size="7.4" text-anchor="middle" font-weight="normal" font-style="normal" fill="#1a1a1a" stroke="#1a1a1a" stroke-width="0.1">0</text>
<text x="507.8" y="448.4" font-size="7.4" text-anchor="middle" font-weight="normal" font-style="normal" fill="#1a1a1a" stroke="#1a1a1a" stroke-width="0.1">0</text>
<text x="507.8" y="457.6" font-size="7.4" text-anchor="middle" font-weight="normal" font-style="normal" fill="#1a1a1a" stroke="#1a1a1a" stroke-width="0.1">0</text>
<text x="507.8" y="466.8" font-size="7.4" text-anchor="middle" font-weight="normal" font-style="normal" fill="#1a1a1a" stroke="#1a1a1a" stroke-width="0.1">0</text>
<text x="507.8" y="476.1" font-size="7.4" text-anchor="middle" font-weight="normal" font-style="normal" fill="#1a1a1a" stroke="#1a1a1a" stroke-width="0.1">0</text>
<text x="507.8" y="485.3" font-size="7.4" text-anchor="middle" font-weight="normal" font-style="normal" fill="#1a1a1a" stroke="#1a1a1a" stroke-width="0.1">0</text>
<text x="507.8" y="494.5" font-size="7.4" text-anchor="middle" font-weight="normal" font-style="normal" fill="#e3121c" stroke="#e3121c" stroke-width="0.1">85</text>
<line x1="508.5" y1="500" x2="508.5" y2="501.6" stroke="#333" stroke-width="0.9"/>
<text x="510.0" y="508.0" font-size="7.4" fill="#333" text-anchor="end" transform="rotate(-35 510.0 506)">R1</text>
<text x="210.6" y="393.0" font-size="7.8" text-anchor="middle" font-weight="normal" font-style="normal" fill="#222"  stroke="#222" stroke-width="0.1">%</text>
<rect x="225.3" y="395.50" width="8.4" height="8.4" fill="#f9b9cc"/>
<text x="220.3" y="402.4" font-size="7.4" text-anchor="end" font-weight="normal" font-style="normal" fill="#222"  stroke="#222" stroke-width="0.1"><tspan font-style="italic">CS</tspan> -</text>
<rect x="225.3" y="404.72" width="8.4" height="8.4" fill="#c5608b"/>
<text x="220.3" y="411.6" font-size="7.4" text-anchor="end" font-weight="normal" font-style="normal" fill="#222"  stroke="#222" stroke-width="0.1"><tspan font-style="italic">Cytosol</tspan> -</text>
<rect x="225.3" y="413.94" width="8.4" height="8.4" fill="#ffd200"/>
<text x="220.3" y="420.8" font-size="7.4" text-anchor="end" font-weight="normal" font-style="normal" fill="#222"  stroke="#222" stroke-width="0.1"><tspan font-style="italic">Mitochondria</tspan> -</text>
<rect x="225.3" y="423.16" width="8.4" height="8.4" fill="#4a80b8"/>
<text x="220.3" y="430.1" font-size="7.4" text-anchor="end" font-weight="normal" font-style="normal" fill="#222"  stroke="#222" stroke-width="0.1"><tspan font-style="italic">Nucleus</tspan> -</text>
<rect x="225.3" y="432.38" width="8.4" height="8.4" fill="#c2f244"/>
<text x="220.3" y="439.3" font-size="7.4" text-anchor="end" font-weight="normal" font-style="normal" fill="#222"  stroke="#222" stroke-width="0.1"><tspan font-style="italic">Endosome</tspan> -</text>
<rect x="225.3" y="441.60" width="8.4" height="8.4" fill="#9acd32"/>
<text x="220.3" y="448.5" font-size="7.4" text-anchor="end" font-weight="normal" font-style="normal" fill="#222"  stroke="#222" stroke-width="0.1"><tspan font-style="italic">ER</tspan> -</text>
<rect x="225.3" y="450.82" width="8.4" height="8.4" fill="#5ec820"/>
<text x="220.3" y="457.7" font-size="7.4" text-anchor="end" font-weight="normal" font-style="normal" fill="#222"  stroke="#222" stroke-width="0.1"><tspan font-style="italic">Lysosome</tspan> -</text>
<rect x="225.3" y="460.04" width="8.4" height="8.4" fill="#22d27a"/>
<text x="220.3" y="466.9" font-size="7.4" text-anchor="end" font-weight="normal" font-style="normal" fill="#222"  stroke="#222" stroke-width="0.1"><tspan font-style="italic">Golgi apparatus</tspan> -</text>
<rect x="225.3" y="469.26" width="8.4" height="8.4" fill="#11801a"/>
<text x="220.3" y="476.2" font-size="7.4" text-anchor="end" font-weight="normal" font-style="normal" fill="#222"  stroke="#222" stroke-width="0.1"><tspan font-style="italic">Peroxisome</tspan> -</text>
<rect x="225.3" y="478.48" width="8.4" height="8.4" fill="#075e07"/>
<text x="220.3" y="485.4" font-size="7.4" text-anchor="end" font-weight="normal" font-style="normal" fill="#222"  stroke="#222" stroke-width="0.1"><tspan font-style="italic">Plasma membrane</tspan> -</text>
<rect x="225.3" y="487.70" width="8.4" height="8.4" fill="#463c94"/>
<text x="220.3" y="494.6" font-size="7.4" text-anchor="end" font-weight="normal" font-style="normal" fill="#222"  stroke="#222" stroke-width="0.1"><tspan font-style="italic">Ribosome</tspan> -</text>
</svg>
</body></html>
